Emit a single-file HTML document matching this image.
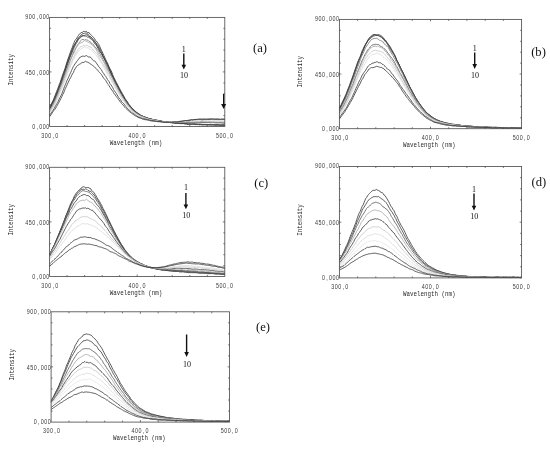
<!DOCTYPE html>
<html><head><meta charset="utf-8"><title>Fluorescence spectra</title>
<style>html,body{margin:0;padding:0;background:#fff}body{width:550px;height:450px;overflow:hidden;font-family:"Liberation Sans",sans-serif}svg{display:block;filter:blur(0.45px)}</style>
</head><body>
<svg width="550" height="450" viewBox="0 0 550 450">
<style>.m{font-family:"Liberation Mono",monospace;font-size:6.4px;fill:#2a2a2a}.n{font-family:"Liberation Sans",sans-serif;font-size:6.3px;fill:#3a3a3a}.s{font-family:"Liberation Serif",serif;fill:#111}</style>
<rect width="550" height="450" fill="#fff"/>
<g>
<polyline points="49.6,107.2 50.5,105.5 51.4,103.8 52.2,102.1 53.1,100.3 54.0,98.3 54.9,96.0 55.7,93.9 56.6,91.5 57.5,89.3 58.4,87.0 59.2,84.6 60.1,82.6 61.0,79.7 61.9,77.1 62.7,74.4 63.6,72.3 64.5,70.0 65.4,67.3 66.2,64.5 67.1,61.6 68.0,59.0 68.9,56.3 69.7,54.1 70.6,51.5 71.5,49.1 72.4,47.2 73.3,44.4 74.1,42.5 75.0,40.5 75.9,39.3 76.8,38.1 77.6,36.7 78.5,35.4 79.4,34.1 80.3,33.2 81.1,32.7 82.0,32.4 82.9,32.1 83.8,31.2 84.6,31.5 85.5,31.4 86.4,31.4 87.3,32.4 88.1,32.6 89.0,32.5 89.9,34.0 90.8,34.7 91.6,35.4 92.5,36.5 93.4,37.2 94.3,38.3 95.2,40.0 96.0,40.7 96.9,41.9 97.8,43.1 98.7,44.3 99.5,46.1 100.4,47.9 101.3,50.2 102.2,51.6 103.0,53.6 103.9,55.5 104.8,57.6 105.7,59.5 106.5,61.3 107.4,62.6 108.3,65.2 109.2,67.2 110.0,68.8 110.9,70.2 111.8,72.1 112.7,74.6 113.5,77.0 114.4,78.4 115.3,80.3 116.2,82.2 117.1,83.6 117.9,85.2 118.8,87.0 119.7,88.7 120.6,90.3 121.4,91.7 122.3,93.4 123.2,95.0 124.1,96.5 124.9,98.3 125.8,99.5 126.7,100.7 127.6,102.0 128.4,103.7 129.3,104.9 130.2,105.8 131.1,107.1 131.9,108.0 132.8,108.8 133.7,109.9 134.6,110.5 135.4,111.2 136.3,112.1 137.2,112.7 138.1,113.3 139.0,114.0 139.8,114.4 140.7,115.1 141.6,115.6 142.5,115.9 143.3,116.4 144.2,116.9 145.1,117.1 146.0,117.3 146.8,117.7 147.7,118.2 148.6,118.4 149.5,118.7 150.3,118.9 151.2,119.0 152.1,119.4 153.0,119.4 153.8,119.8 154.7,120.1 155.6,120.1 156.5,120.2 157.3,120.3 158.2,120.5 159.1,120.8 160.0,120.9 160.9,121.1 161.7,121.3 162.6,121.4 163.5,121.5 164.4,121.7 165.2,121.8 166.1,121.9 167.0,121.9 167.9,122.1 168.7,122.3 169.6,122.5 170.5,122.6 171.4,122.6 172.2,122.8 173.1,122.8 174.0,122.8 174.9,123.2 175.7,123.3 176.6,123.3 177.5,123.3 178.4,123.4 179.2,123.5 180.1,123.5 181.0,123.6 181.9,123.7 182.8,123.5 183.6,123.7 184.5,123.9 185.4,123.9 186.3,124.0 187.1,124.1 188.0,124.4 188.9,124.4 189.8,124.2 190.6,124.4 191.5,124.4 192.4,124.3 193.3,124.3 194.1,124.3 195.0,124.5 195.9,124.6 196.8,124.6 197.6,124.6 198.5,124.5 199.4,124.9 200.3,124.7 201.1,124.9 202.0,124.8 202.9,125.0 203.8,124.9 204.7,124.8 205.5,124.9 206.4,124.9 207.3,124.9 208.2,124.9 209.0,125.0 209.9,124.9 210.8,124.9 211.7,125.0 212.5,124.8 213.4,125.1 214.3,125.1 215.2,125.2 216.0,125.2 216.9,125.1 217.8,125.2 218.7,125.2 219.5,125.4 220.4,125.5 221.3,125.4 222.2,125.5 223.0,125.5 223.9,125.6 224.8,125.4" fill="none" stroke="#3e3e3e" stroke-width="0.85"/>
<polyline points="49.6,108.0 50.5,106.3 51.4,104.9 52.2,103.2 53.1,101.5 54.0,99.4 54.9,97.2 55.7,95.4 56.6,92.9 57.5,90.6 58.4,88.5 59.2,86.7 60.1,83.8 61.0,81.4 61.9,79.0 62.7,76.3 63.6,73.7 64.5,70.8 65.4,68.7 66.2,65.8 67.1,62.9 68.0,60.2 68.9,58.1 69.7,56.1 70.6,53.4 71.5,51.2 72.4,49.1 73.3,46.6 74.1,45.0 75.0,44.1 75.9,42.2 76.8,41.1 77.6,39.1 78.5,37.6 79.4,36.8 80.3,35.8 81.1,34.8 82.0,34.3 82.9,33.5 83.8,33.5 84.6,33.2 85.5,33.0 86.4,32.9 87.3,34.0 88.1,34.2 89.0,35.6 89.9,36.5 90.8,37.6 91.6,37.6 92.5,38.9 93.4,39.6 94.3,40.7 95.2,41.8 96.0,43.2 96.9,44.3 97.8,45.1 98.7,46.8 99.5,48.3 100.4,49.7 101.3,51.6 102.2,53.8 103.0,55.6 103.9,56.9 104.8,59.2 105.7,61.0 106.5,62.4 107.4,64.1 108.3,66.1 109.2,67.8 110.0,69.8 110.9,72.0 111.8,74.2 112.7,76.0 113.5,77.5 114.4,79.4 115.3,81.4 116.2,83.2 117.1,85.2 117.9,86.7 118.8,88.5 119.7,89.9 120.6,91.9 121.4,93.2 122.3,94.8 123.2,96.5 124.1,97.6 124.9,99.0 125.8,100.7 126.7,102.0 127.6,103.0 128.4,104.2 129.3,105.2 130.2,106.2 131.1,107.2 131.9,108.2 132.8,109.0 133.7,109.9 134.6,110.8 135.4,111.9 136.3,112.4 137.2,113.0 138.1,113.7 139.0,114.4 139.8,114.6 140.7,115.5 141.6,115.8 142.5,116.0 143.3,116.6 144.2,116.9 145.1,117.1 146.0,117.5 146.8,117.8 147.7,118.1 148.6,118.5 149.5,118.8 150.3,119.0 151.2,119.1 152.1,119.4 153.0,119.6 153.8,120.0 154.7,120.1 155.6,120.2 156.5,120.4 157.3,120.7 158.2,120.9 159.1,120.7 160.0,120.8 160.9,121.0 161.7,121.5 162.6,121.5 163.5,121.6 164.4,121.6 165.2,121.8 166.1,122.0 167.0,122.1 167.9,122.4 168.7,122.4 169.6,122.4 170.5,122.6 171.4,122.6 172.2,122.5 173.1,122.9 174.0,123.0 174.9,123.0 175.7,123.1 176.6,123.2 177.5,123.4 178.4,123.2 179.2,123.2 180.1,123.5 181.0,123.7 181.9,123.5 182.8,123.5 183.6,123.4 184.5,123.5 185.4,123.8 186.3,123.8 187.1,124.1 188.0,124.1 188.9,124.1 189.8,124.0 190.6,124.1 191.5,124.2 192.4,124.1 193.3,124.1 194.1,124.1 195.0,124.2 195.9,124.3 196.8,124.2 197.6,124.3 198.5,124.4 199.4,124.5 200.3,124.5 201.1,124.5 202.0,124.5 202.9,124.5 203.8,124.6 204.7,124.6 205.5,124.7 206.4,124.7 207.3,124.6 208.2,124.6 209.0,124.7 209.9,124.7 210.8,124.8 211.7,125.0 212.5,124.9 213.4,125.0 214.3,124.9 215.2,125.0 216.0,125.2 216.9,125.2 217.8,124.9 218.7,125.0 219.5,125.1 220.4,125.1 221.3,125.0 222.2,125.0 223.0,125.0 223.9,124.9 224.8,124.9" fill="none" stroke="#3e3e3e" stroke-width="0.85"/>
<polyline points="49.6,108.7 50.5,107.1 51.4,105.3 52.2,103.6 53.1,101.8 54.0,100.2 54.9,98.3 55.7,96.1 56.6,94.1 57.5,91.6 58.4,89.3 59.2,86.9 60.1,84.7 61.0,81.7 61.9,79.2 62.7,77.0 63.6,74.6 64.5,71.4 65.4,69.3 66.2,66.6 67.1,64.0 68.0,61.7 68.9,59.6 69.7,57.1 70.6,54.6 71.5,52.0 72.4,49.7 73.3,47.9 74.1,45.8 75.0,43.9 75.9,42.4 76.8,40.9 77.6,39.7 78.5,38.3 79.4,37.7 80.3,36.9 81.1,36.1 82.0,36.0 82.9,35.4 83.8,35.7 84.6,35.4 85.5,34.9 86.4,34.8 87.3,35.1 88.1,35.6 89.0,36.6 89.9,36.4 90.8,37.0 91.6,37.7 92.5,39.1 93.4,40.2 94.3,41.9 95.2,42.5 96.0,43.4 96.9,45.5 97.8,46.7 98.7,47.8 99.5,49.9 100.4,51.8 101.3,53.4 102.2,54.9 103.0,56.7 103.9,58.1 104.8,59.6 105.7,61.2 106.5,62.8 107.4,64.4 108.3,66.2 109.2,68.6 110.0,70.6 110.9,72.7 111.8,74.7 112.7,76.3 113.5,78.1 114.4,79.7 115.3,81.9 116.2,83.8 117.1,85.3 117.9,87.0 118.8,88.6 119.7,90.2 120.6,91.9 121.4,93.3 122.3,94.8 123.2,96.3 124.1,97.9 124.9,99.3 125.8,101.0 126.7,102.2 127.6,103.3 128.4,104.6 129.3,105.6 130.2,106.6 131.1,107.8 131.9,108.7 132.8,109.6 133.7,110.3 134.6,111.0 135.4,111.8 136.3,112.7 137.2,113.3 138.1,113.9 139.0,114.4 139.8,114.9 140.7,115.5 141.6,116.1 142.5,116.5 143.3,116.9 144.2,117.3 145.1,117.5 146.0,117.9 146.8,118.1 147.7,118.3 148.6,118.6 149.5,118.6 150.3,118.9 151.2,119.1 152.1,119.4 153.0,119.5 153.8,120.1 154.7,120.3 155.6,120.3 156.5,120.4 157.3,120.4 158.2,120.6 159.1,120.7 160.0,120.9 160.9,121.0 161.7,121.2 162.6,121.5 163.5,121.6 164.4,121.8 165.2,121.8 166.1,122.1 167.0,122.1 167.9,122.0 168.7,122.3 169.6,122.4 170.5,122.4 171.4,122.6 172.2,122.8 173.1,122.8 174.0,122.8 174.9,122.9 175.7,123.1 176.6,122.9 177.5,122.9 178.4,123.1 179.2,123.2 180.1,123.3 181.0,123.2 181.9,123.4 182.8,123.4 183.6,123.5 184.5,123.6 185.4,123.6 186.3,123.5 187.1,123.6 188.0,123.8 188.9,123.7 189.8,123.8 190.6,123.8 191.5,123.7 192.4,123.7 193.3,123.9 194.1,123.7 195.0,123.9 195.9,123.9 196.8,124.0 197.6,124.1 198.5,124.3 199.4,124.1 200.3,124.0 201.1,124.2 202.0,124.4 202.9,124.5 203.8,124.3 204.7,124.4 205.5,124.4 206.4,124.4 207.3,124.4 208.2,124.5 209.0,124.5 209.9,124.6 210.8,124.6 211.7,124.5 212.5,124.5 213.4,124.5 214.3,124.6 215.2,124.6 216.0,124.6 216.9,124.5 217.8,124.5 218.7,124.6 219.5,124.7 220.4,124.7 221.3,124.8 222.2,124.8 223.0,124.8 223.9,124.7 224.8,124.7" fill="none" stroke="#3e3e3e" stroke-width="0.85"/>
<polyline points="49.6,109.2 50.5,107.9 51.4,106.4 52.2,104.3 53.1,103.0 54.0,101.2 54.9,99.2 55.7,97.2 56.6,95.0 57.5,92.9 58.4,90.6 59.2,88.3 60.1,85.8 61.0,83.9 61.9,81.5 62.7,78.8 63.6,76.4 64.5,73.9 65.4,71.0 66.2,68.6 67.1,65.8 68.0,63.1 68.9,60.6 69.7,58.1 70.6,55.9 71.5,54.1 72.4,51.8 73.3,49.5 74.1,47.7 75.0,45.9 75.9,43.9 76.8,42.7 77.6,41.1 78.5,39.2 79.4,38.7 80.3,37.8 81.1,37.3 82.0,36.2 82.9,35.9 83.8,35.6 84.6,36.0 85.5,36.1 86.4,36.3 87.3,37.2 88.1,36.8 89.0,37.1 89.9,38.5 90.8,38.8 91.6,39.6 92.5,40.4 93.4,41.3 94.3,43.0 95.2,44.0 96.0,44.6 96.9,46.3 97.8,48.0 98.7,49.7 99.5,51.3 100.4,52.4 101.3,53.4 102.2,55.0 103.0,56.8 103.9,58.0 104.8,60.2 105.7,62.3 106.5,63.9 107.4,65.7 108.3,67.9 109.2,69.9 110.0,71.5 110.9,73.2 111.8,75.4 112.7,77.1 113.5,78.9 114.4,80.5 115.3,82.3 116.2,84.0 117.1,85.8 117.9,87.2 118.8,88.7 119.7,90.5 120.6,92.0 121.4,93.8 122.3,95.3 123.2,96.7 124.1,97.9 124.9,99.5 125.8,100.9 126.7,102.1 127.6,103.6 128.4,104.7 129.3,105.9 130.2,106.8 131.1,108.0 131.9,109.1 132.8,109.9 133.7,110.6 134.6,111.4 135.4,112.0 136.3,112.8 137.2,113.5 138.1,114.0 139.0,114.8 139.8,115.3 140.7,115.7 141.6,116.0 142.5,116.4 143.3,116.8 144.2,117.2 145.1,117.5 146.0,117.6 146.8,118.1 147.7,118.1 148.6,118.6 149.5,118.8 150.3,119.1 151.2,119.2 152.1,119.6 153.0,120.0 153.8,120.0 154.7,120.1 155.6,120.2 156.5,120.1 157.3,120.4 158.2,120.6 159.1,120.7 160.0,120.9 160.9,121.0 161.7,121.3 162.6,121.5 163.5,121.9 164.4,121.8 165.2,121.9 166.1,121.8 167.0,121.7 167.9,121.9 168.7,122.1 169.6,122.2 170.5,122.4 171.4,122.4 172.2,122.4 173.1,122.4 174.0,122.5 174.9,122.5 175.7,122.4 176.6,122.5 177.5,122.5 178.4,122.5 179.2,122.6 180.1,122.7 181.0,122.5 181.9,122.5 182.8,122.6 183.6,122.5 184.5,122.5 185.4,122.7 186.3,122.5 187.1,122.5 188.0,122.4 188.9,122.4 189.8,122.5 190.6,122.6 191.5,122.5 192.4,122.5 193.3,122.5 194.1,122.5 195.0,122.5 195.9,122.4 196.8,122.5 197.6,122.5 198.5,122.7 199.4,122.7 200.3,122.5 201.1,122.4 202.0,122.5 202.9,122.6 203.8,122.4 204.7,122.5 205.5,122.5 206.4,122.4 207.3,122.5 208.2,122.5 209.0,122.6 209.9,122.6 210.8,122.7 211.7,122.7 212.5,122.6 213.4,122.4 214.3,122.7 215.2,122.8 216.0,122.7 216.9,122.9 217.8,122.8 218.7,122.8 219.5,122.8 220.4,122.8 221.3,123.0 222.2,122.9 223.0,123.1 223.9,123.1 224.8,123.1" fill="none" stroke="#3e3e3e" stroke-width="0.85"/>
<polyline points="49.6,110.6 50.5,109.1 51.4,107.6 52.2,106.1 53.1,104.3 54.0,102.3 54.9,100.6 55.7,98.7 56.6,96.5 57.5,94.5 58.4,92.7 59.2,89.9 60.1,87.4 61.0,85.8 61.9,83.4 62.7,80.8 63.6,78.2 64.5,75.7 65.4,73.4 66.2,71.2 67.1,68.6 68.0,65.9 68.9,63.9 69.7,61.7 70.6,59.3 71.5,57.5 72.4,55.2 73.3,53.1 74.1,50.9 75.0,49.3 75.9,47.8 76.8,46.3 77.6,44.8 78.5,43.7 79.4,42.5 80.3,41.3 81.1,40.3 82.0,39.4 82.9,39.6 83.8,39.6 84.6,40.4 85.5,39.4 86.4,39.9 87.3,40.1 88.1,40.3 89.0,41.3 89.9,41.6 90.8,42.2 91.6,43.6 92.5,44.1 93.4,44.5 94.3,46.3 95.2,46.9 96.0,48.0 96.9,49.2 97.8,50.4 98.7,51.5 99.5,53.3 100.4,54.6 101.3,56.4 102.2,57.8 103.0,59.8 103.9,61.4 104.8,62.6 105.7,64.4 106.5,66.3 107.4,68.4 108.3,70.3 109.2,71.9 110.0,73.3 110.9,75.1 111.8,76.8 112.7,78.6 113.5,80.1 114.4,82.1 115.3,84.0 116.2,85.5 117.1,87.2 117.9,88.9 118.8,90.6 119.7,92.2 120.6,93.5 121.4,95.0 122.3,96.7 123.2,97.9 124.1,99.3 124.9,100.8 125.8,101.8 126.7,103.1 127.6,104.3 128.4,105.3 129.3,106.2 130.2,107.5 131.1,108.4 131.9,109.5 132.8,110.0 133.7,111.0 134.6,111.7 135.4,112.6 136.3,113.2 137.2,113.6 138.1,114.6 139.0,115.1 139.8,115.5 140.7,116.0 141.6,116.5 142.5,116.6 143.3,117.0 144.2,117.6 145.1,117.8 146.0,118.3 146.8,118.3 147.7,118.7 148.6,118.9 149.5,119.0 150.3,119.2 151.2,119.6 152.1,120.0 153.0,119.9 153.8,120.0 154.7,120.3 155.6,120.4 156.5,120.5 157.3,120.6 158.2,121.1 159.1,121.2 160.0,121.2 160.9,121.2 161.7,121.3 162.6,121.7 163.5,121.7 164.4,121.7 165.2,121.6 166.1,121.9 167.0,122.0 167.9,122.1 168.7,122.1 169.6,122.2 170.5,122.2 171.4,122.3 172.2,122.3 173.1,122.4 174.0,122.4 174.9,122.5 175.7,122.7 176.6,122.5 177.5,122.5 178.4,122.5 179.2,122.5 180.1,122.4 181.0,122.5 181.9,122.5 182.8,122.4 183.6,122.3 184.5,122.4 185.4,122.6 186.3,122.3 187.1,122.3 188.0,122.3 188.9,122.3 189.8,122.2 190.6,122.3 191.5,122.3 192.4,122.3 193.3,122.3 194.1,122.3 195.0,122.3 195.9,122.2 196.8,122.3 197.6,122.2 198.5,122.2 199.4,122.2 200.3,122.0 201.1,122.1 202.0,122.2 202.9,122.2 203.8,122.2 204.7,122.3 205.5,122.3 206.4,122.3 207.3,122.3 208.2,122.3 209.0,122.2 209.9,122.1 210.8,122.1 211.7,122.1 212.5,122.2 213.4,122.3 214.3,122.3 215.2,122.4 216.0,122.4 216.9,122.6 217.8,122.5 218.7,122.5 219.5,122.5 220.4,122.5 221.3,122.4 222.2,122.5 223.0,122.3 223.9,122.6 224.8,122.6" fill="none" stroke="#777" stroke-width="0.85"/>
<polyline points="49.6,111.5 50.5,109.9 51.4,108.1 52.2,107.1 53.1,105.3 54.0,103.5 54.9,101.8 55.7,99.8 56.6,98.2 57.5,95.9 58.4,93.7 59.2,91.5 60.1,89.4 61.0,86.9 61.9,84.7 62.7,82.2 63.6,79.9 64.5,77.9 65.4,75.2 66.2,72.6 67.1,69.9 68.0,67.7 68.9,65.3 69.7,62.7 70.6,60.5 71.5,58.0 72.4,55.5 73.3,54.1 74.1,52.9 75.0,50.6 75.9,48.5 76.8,46.9 77.6,45.6 78.5,44.9 79.4,44.1 80.3,42.9 81.1,42.6 82.0,42.6 82.9,42.2 83.8,40.8 84.6,40.3 85.5,41.0 86.4,41.5 87.3,41.7 88.1,42.3 89.0,42.2 89.9,43.0 90.8,44.1 91.6,44.3 92.5,45.4 93.4,46.3 94.3,47.3 95.2,48.5 96.0,49.5 96.9,51.0 97.8,52.8 98.7,54.5 99.5,55.8 100.4,57.1 101.3,58.3 102.2,59.6 103.0,60.9 103.9,62.5 104.8,64.4 105.7,66.2 106.5,68.3 107.4,69.8 108.3,71.2 109.2,72.7 110.0,74.5 110.9,76.3 111.8,77.7 112.7,79.6 113.5,81.1 114.4,82.8 115.3,84.5 116.2,86.0 117.1,87.9 117.9,89.6 118.8,91.3 119.7,92.9 120.6,94.0 121.4,95.3 122.3,96.9 123.2,98.2 124.1,99.5 124.9,100.8 125.8,102.0 126.7,103.5 127.6,104.8 128.4,105.8 129.3,106.6 130.2,107.7 131.1,108.9 131.9,109.8 132.8,110.7 133.7,111.6 134.6,112.0 135.4,112.9 136.3,113.5 137.2,113.9 138.1,114.4 139.0,115.0 139.8,115.7 140.7,116.1 141.6,116.3 142.5,116.7 143.3,117.0 144.2,117.5 145.1,117.8 146.0,118.2 146.8,118.4 147.7,118.6 148.6,119.0 149.5,119.2 150.3,119.4 151.2,119.7 152.1,119.9 153.0,120.0 153.8,119.9 154.7,120.2 155.6,120.4 156.5,120.8 157.3,120.7 158.2,120.9 159.1,121.0 160.0,121.3 160.9,121.4 161.7,121.6 162.6,121.6 163.5,121.7 164.4,121.8 165.2,121.8 166.1,122.0 167.0,121.9 167.9,122.1 168.7,122.3 169.6,122.3 170.5,122.4 171.4,122.5 172.2,122.4 173.1,122.4 174.0,122.5 174.9,122.5 175.7,122.3 176.6,122.3 177.5,122.3 178.4,122.3 179.2,122.3 180.1,122.3 181.0,122.2 181.9,122.2 182.8,122.4 183.6,122.3 184.5,122.3 185.4,122.1 186.3,122.1 187.1,122.1 188.0,121.8 188.9,122.0 189.8,122.0 190.6,122.1 191.5,122.2 192.4,122.2 193.3,122.0 194.1,122.0 195.0,122.1 195.9,122.1 196.8,121.9 197.6,121.9 198.5,121.9 199.4,121.8 200.3,121.6 201.1,121.5 202.0,121.5 202.9,121.6 203.8,121.6 204.7,121.5 205.5,121.5 206.4,121.7 207.3,121.7 208.2,121.7 209.0,121.7 209.9,121.8 210.8,122.0 211.7,122.0 212.5,122.1 213.4,121.9 214.3,121.8 215.2,122.0 216.0,121.8 216.9,121.8 217.8,122.1 218.7,121.8 219.5,121.8 220.4,121.7 221.3,122.0 222.2,121.9 223.0,121.9 223.9,122.0 224.8,122.0" fill="none" stroke="#aaa" stroke-width="0.85"/>
<polyline points="49.6,112.3 50.5,111.3 51.4,110.0 52.2,108.6 53.1,107.0 54.0,105.4 54.9,103.5 55.7,101.6 56.6,99.8 57.5,97.9 58.4,96.0 59.2,93.6 60.1,91.4 61.0,89.2 61.9,87.1 62.7,84.5 63.6,82.5 64.5,80.0 65.4,77.4 66.2,75.3 67.1,72.8 68.0,70.9 68.9,68.3 69.7,66.1 70.6,64.4 71.5,61.9 72.4,60.2 73.3,57.8 74.1,56.2 75.0,54.5 75.9,52.8 76.8,51.5 77.6,50.1 78.5,49.1 79.4,47.9 80.3,47.1 81.1,46.4 82.0,46.8 82.9,45.7 83.8,45.4 84.6,45.9 85.5,45.7 86.4,45.5 87.3,45.4 88.1,46.3 89.0,46.2 89.9,47.0 90.8,46.9 91.6,48.1 92.5,48.9 93.4,50.1 94.3,51.4 95.2,52.0 96.0,52.9 96.9,53.8 97.8,55.1 98.7,56.8 99.5,58.7 100.4,60.1 101.3,61.6 102.2,63.1 103.0,64.2 103.9,65.7 104.8,67.3 105.7,68.8 106.5,70.5 107.4,72.0 108.3,73.5 109.2,75.0 110.0,77.0 110.9,79.0 111.8,80.2 112.7,81.8 113.5,83.3 114.4,85.3 115.3,86.9 116.2,88.4 117.1,90.2 117.9,91.7 118.8,92.9 119.7,94.1 120.6,95.4 121.4,97.1 122.3,98.7 123.2,99.8 124.1,100.9 124.9,102.2 125.8,103.6 126.7,104.6 127.6,105.6 128.4,106.6 129.3,107.8 130.2,108.7 131.1,109.5 131.9,110.5 132.8,111.6 133.7,112.2 134.6,112.8 135.4,113.5 136.3,114.0 137.2,114.7 138.1,115.2 139.0,115.7 139.8,116.1 140.7,116.4 141.6,116.9 142.5,117.1 143.3,117.3 144.2,117.7 145.1,118.1 146.0,118.2 146.8,118.6 147.7,119.0 148.6,119.3 149.5,119.4 150.3,119.5 151.2,119.7 152.1,119.9 153.0,120.2 153.8,120.3 154.7,120.6 155.6,120.6 156.5,120.8 157.3,121.1 158.2,121.2 159.1,121.4 160.0,121.3 160.9,121.3 161.7,121.6 162.6,121.5 163.5,121.6 164.4,121.7 165.2,122.0 166.1,122.0 167.0,122.1 167.9,122.0 168.7,122.1 169.6,122.3 170.5,122.1 171.4,122.2 172.2,122.1 173.1,122.2 174.0,122.1 174.9,122.1 175.7,122.1 176.6,121.8 177.5,121.7 178.4,121.6 179.2,121.6 180.1,121.7 181.0,121.6 181.9,121.6 182.8,121.5 183.6,121.3 184.5,121.3 185.4,121.2 186.3,121.2 187.1,121.2 188.0,121.0 188.9,120.7 189.8,120.6 190.6,120.7 191.5,120.9 192.4,120.6 193.3,120.4 194.1,120.3 195.0,120.2 195.9,120.0 196.8,120.0 197.6,120.1 198.5,120.0 199.4,120.0 200.3,120.2 201.1,120.2 202.0,120.3 202.9,120.2 203.8,120.1 204.7,120.2 205.5,120.3 206.4,120.1 207.3,120.0 208.2,119.9 209.0,120.1 209.9,120.0 210.8,119.8 211.7,119.7 212.5,119.9 213.4,120.0 214.3,120.1 215.2,120.0 216.0,119.9 216.9,120.0 217.8,120.2 218.7,120.1 219.5,120.2 220.4,120.1 221.3,120.1 222.2,120.0 223.0,120.0 223.9,120.1 224.8,120.2" fill="none" stroke="#c8c8c8" stroke-width="0.85"/>
<polyline points="49.6,113.0 50.5,112.0 51.4,110.6 52.2,109.1 53.1,107.5 54.0,106.0 54.9,104.6 55.7,103.1 56.6,101.1 57.5,99.1 58.4,96.7 59.2,95.1 60.1,92.8 61.0,90.7 61.9,88.9 62.7,86.8 63.6,84.4 64.5,82.1 65.4,79.8 66.2,77.3 67.1,75.2 68.0,72.8 68.9,70.7 69.7,68.5 70.6,66.2 71.5,64.2 72.4,62.1 73.3,59.7 74.1,58.1 75.0,56.6 75.9,54.9 76.8,53.7 77.6,52.1 78.5,51.5 79.4,50.3 80.3,49.7 81.1,49.2 82.0,48.0 82.9,48.1 83.8,47.3 84.6,47.2 85.5,47.0 86.4,47.8 87.3,47.7 88.1,47.8 89.0,48.6 89.9,49.3 90.8,49.3 91.6,50.3 92.5,51.4 93.4,52.6 94.3,53.3 95.2,54.3 96.0,55.3 96.9,56.0 97.8,57.6 98.7,58.8 99.5,59.8 100.4,61.7 101.3,62.8 102.2,63.9 103.0,66.0 103.9,67.8 104.8,69.4 105.7,71.3 106.5,72.4 107.4,74.3 108.3,75.5 109.2,76.7 110.0,78.7 110.9,80.3 111.8,82.2 112.7,83.4 113.5,85.0 114.4,86.6 115.3,88.0 116.2,89.4 117.1,91.0 117.9,92.4 118.8,94.0 119.7,95.3 120.6,96.9 121.4,98.1 122.3,99.7 123.2,100.9 124.1,101.7 124.9,102.9 125.8,104.3 126.7,105.3 127.6,106.5 128.4,107.7 129.3,108.6 130.2,109.3 131.1,110.1 131.9,111.0 132.8,111.9 133.7,112.7 134.6,113.1 135.4,113.8 136.3,114.5 137.2,115.3 138.1,115.8 139.0,115.9 139.8,116.5 140.7,116.9 141.6,117.2 142.5,117.6 143.3,117.9 144.2,118.4 145.1,118.7 146.0,118.7 146.8,119.0 147.7,119.1 148.6,119.6 149.5,119.7 150.3,119.8 151.2,119.9 152.1,120.2 153.0,120.3 153.8,120.4 154.7,120.7 155.6,120.7 156.5,121.0 157.3,121.2 158.2,121.2 159.1,121.6 160.0,121.6 160.9,121.7 161.7,121.8 162.6,121.8 163.5,121.7 164.4,121.8 165.2,121.8 166.1,122.0 167.0,122.1 167.9,121.9 168.7,121.9 169.6,121.9 170.5,122.0 171.4,121.9 172.2,121.9 173.1,121.9 174.0,121.9 174.9,121.7 175.7,121.8 176.6,121.9 177.5,121.9 178.4,121.6 179.2,121.6 180.1,121.6 181.0,121.6 181.9,121.4 182.8,121.4 183.6,121.2 184.5,121.1 185.4,121.0 186.3,120.9 187.1,120.8 188.0,120.7 188.9,120.5 189.8,120.4 190.6,120.3 191.5,120.4 192.4,120.3 193.3,120.3 194.1,120.0 195.0,120.1 195.9,120.1 196.8,120.0 197.6,119.9 198.5,119.7 199.4,119.8 200.3,119.6 201.1,119.8 202.0,119.9 202.9,119.7 203.8,119.6 204.7,119.6 205.5,119.6 206.4,119.6 207.3,119.7 208.2,119.6 209.0,119.7 209.9,119.5 210.8,119.6 211.7,119.8 212.5,119.9 213.4,119.7 214.3,119.7 215.2,119.7 216.0,119.7 216.9,119.7 217.8,119.8 218.7,119.7 219.5,119.7 220.4,119.6 221.3,119.7 222.2,119.5 223.0,119.4 223.9,119.4 224.8,119.5" fill="none" stroke="#dcdcdc" stroke-width="0.85"/>
<polyline points="49.6,115.0 50.5,113.9 51.4,112.7 52.2,111.6 53.1,110.2 54.0,108.9 54.9,107.1 55.7,105.6 56.6,104.1 57.5,102.7 58.4,100.9 59.2,99.0 60.1,97.3 61.0,95.4 61.9,93.7 62.7,91.3 63.6,89.2 64.5,86.5 65.4,84.7 66.2,82.7 67.1,80.3 68.0,78.4 68.9,76.5 69.7,74.6 70.6,72.8 71.5,70.5 72.4,68.6 73.3,66.6 74.1,65.3 75.0,63.9 75.9,62.8 76.8,61.2 77.6,60.5 78.5,59.2 79.4,58.0 80.3,57.0 81.1,56.9 82.0,56.1 82.9,56.2 83.8,56.2 84.6,56.4 85.5,55.9 86.4,55.6 87.3,56.2 88.1,56.8 89.0,57.2 89.9,56.9 90.8,57.4 91.6,58.5 92.5,59.8 93.4,60.6 94.3,60.9 95.2,61.3 96.0,62.6 96.9,63.9 97.8,65.1 98.7,66.7 99.5,67.3 100.4,68.8 101.3,69.6 102.2,71.3 103.0,72.8 103.9,73.8 104.8,75.3 105.7,76.3 106.5,77.7 107.4,79.4 108.3,80.6 109.2,81.8 110.0,83.8 110.9,84.7 111.8,86.1 112.7,87.5 113.5,89.4 114.4,90.8 115.3,92.1 116.2,93.2 117.1,94.8 117.9,96.2 118.8,97.7 119.7,98.8 120.6,99.8 121.4,101.3 122.3,102.4 123.2,103.3 124.1,104.1 124.9,105.2 125.8,106.4 126.7,107.6 127.6,108.6 128.4,109.5 129.3,110.2 130.2,111.0 131.1,111.6 131.9,112.4 132.8,113.3 133.7,113.7 134.6,114.3 135.4,114.9 136.3,115.6 137.2,116.3 138.1,116.8 139.0,117.0 139.8,117.5 140.7,117.9 141.6,118.1 142.5,118.4 143.3,118.6 144.2,118.8 145.1,118.9 146.0,119.4 146.8,119.5 147.7,119.8 148.6,119.9 149.5,120.1 150.3,120.3 151.2,120.4 152.1,120.6 153.0,120.6 153.8,120.7 154.7,120.9 155.6,121.2 156.5,121.4 157.3,121.5 158.2,121.6 159.1,121.6 160.0,121.4 160.9,121.6 161.7,121.7 162.6,121.9 163.5,122.0 164.4,122.1 165.2,122.1 166.1,122.2 167.0,122.0 167.9,122.2 168.7,122.1 169.6,122.3 170.5,122.3 171.4,122.2 172.2,122.1 173.1,122.0 174.0,122.0 174.9,121.9 175.7,122.1 176.6,122.0 177.5,122.1 178.4,121.8 179.2,121.6 180.1,121.5 181.0,121.4 181.9,121.3 182.8,121.0 183.6,120.7 184.5,120.7 185.4,120.6 186.3,120.7 187.1,120.8 188.0,120.6 188.9,120.5 189.8,120.4 190.6,120.2 191.5,119.7 192.4,119.9 193.3,119.8 194.1,119.7 195.0,119.7 195.9,119.6 196.8,119.4 197.6,119.6 198.5,119.5 199.4,119.5 200.3,119.4 201.1,119.6 202.0,119.7 202.9,119.8 203.8,119.5 204.7,119.4 205.5,119.4 206.4,119.6 207.3,119.5 208.2,119.5 209.0,119.6 209.9,119.5 210.8,119.4 211.7,119.3 212.5,119.3 213.4,119.3 214.3,119.4 215.2,119.3 216.0,119.3 216.9,119.3 217.8,119.3 218.7,119.4 219.5,119.4 220.4,119.5 221.3,119.2 222.2,119.2 223.0,119.3 223.9,119.1 224.8,119.1" fill="none" stroke="#3e3e3e" stroke-width="0.85"/>
<polyline points="49.6,116.5 50.5,115.4 51.4,114.2 52.2,112.9 53.1,111.6 54.0,110.4 54.9,109.4 55.7,108.1 56.6,106.5 57.5,104.9 58.4,103.5 59.2,101.8 60.1,100.1 61.0,98.3 61.9,96.4 62.7,94.6 63.6,93.0 64.5,90.7 65.4,88.5 66.2,86.8 67.1,84.8 68.0,82.9 68.9,81.0 69.7,79.2 70.6,77.7 71.5,75.8 72.4,73.9 73.3,72.7 74.1,70.7 75.0,68.9 75.9,67.5 76.8,66.2 77.6,65.4 78.5,64.9 79.4,64.3 80.3,63.9 81.1,63.2 82.0,62.7 82.9,62.2 83.8,62.7 84.6,61.7 85.5,61.3 86.4,61.8 87.3,62.1 88.1,62.4 89.0,62.9 89.9,63.5 90.8,64.1 91.6,64.9 92.5,65.4 93.4,66.0 94.3,66.7 95.2,67.8 96.0,68.6 96.9,69.4 97.8,70.2 98.7,71.6 99.5,72.4 100.4,73.3 101.3,74.4 102.2,75.8 103.0,77.1 103.9,78.4 104.8,79.4 105.7,80.4 106.5,81.9 107.4,83.4 108.3,84.6 109.2,85.9 110.0,87.4 110.9,88.8 111.8,90.0 112.7,91.1 113.5,92.6 114.4,94.0 115.3,95.0 116.2,96.4 117.1,97.5 117.9,98.6 118.8,99.8 119.7,101.1 120.6,102.2 121.4,103.3 122.3,104.2 123.2,105.4 124.1,106.2 124.9,107.4 125.8,108.3 126.7,109.1 127.6,109.8 128.4,110.8 129.3,111.5 130.2,112.3 131.1,112.9 131.9,113.4 132.8,114.2 133.7,114.8 134.6,115.5 135.4,115.9 136.3,116.3 137.2,116.8 138.1,117.4 139.0,117.7 139.8,117.9 140.7,118.2 141.6,118.5 142.5,119.1 143.3,119.3 144.2,119.4 145.1,119.8 146.0,119.8 146.8,119.8 147.7,120.0 148.6,120.2 149.5,120.5 150.3,120.8 151.2,120.9 152.1,121.0 153.0,121.2 153.8,121.2 154.7,121.3 155.6,121.4 156.5,121.5 157.3,121.6 158.2,121.6 159.1,121.7 160.0,121.8 160.9,122.0 161.7,122.1 162.6,122.0 163.5,122.1 164.4,122.3 165.2,122.3 166.1,122.3 167.0,122.4 167.9,122.2 168.7,122.4 169.6,122.3 170.5,122.2 171.4,122.3 172.2,122.2 173.1,122.2 174.0,122.0 174.9,122.0 175.7,121.9 176.6,122.0 177.5,121.9 178.4,121.6 179.2,121.4 180.1,121.3 181.0,121.3 181.9,121.0 182.8,121.2 183.6,121.0 184.5,120.7 185.4,120.5 186.3,120.5 187.1,120.6 188.0,120.2 188.9,120.1 189.8,120.0 190.6,119.9 191.5,119.7 192.4,119.9 193.3,119.6 194.1,119.4 195.0,119.6 195.9,119.4 196.8,119.5 197.6,119.2 198.5,119.1 199.4,118.9 200.3,119.0 201.1,119.0 202.0,118.9 202.9,119.0 203.8,119.0 204.7,119.0 205.5,119.0 206.4,119.1 207.3,118.9 208.2,118.9 209.0,118.9 209.9,118.7 210.8,118.8 211.7,118.7 212.5,118.9 213.4,118.8 214.3,119.1 215.2,119.0 216.0,119.0 216.9,119.0 217.8,119.0 218.7,119.0 219.5,119.1 220.4,119.3 221.3,119.2 222.2,119.2 223.0,119.1 223.9,119.2 224.8,119.1" fill="none" stroke="#3e3e3e" stroke-width="0.85"/>
<rect x="49.6" y="17.4" width="175.2" height="109.1" fill="none" stroke="#505050" stroke-width="0.85"/>
<path d="M67.1 17.4v1.5M67.1 126.5v-1.5M84.6 17.4v1.5M84.6 126.5v-1.5M102.2 17.4v1.5M102.2 126.5v-1.5M119.7 17.4v1.5M119.7 126.5v-1.5M137.2 17.4v2.0M137.2 126.5v-2.0M154.7 17.4v1.5M154.7 126.5v-1.5M172.2 17.4v1.5M172.2 126.5v-1.5M189.8 17.4v1.5M189.8 126.5v-1.5M207.3 17.4v1.5M207.3 126.5v-1.5M49.6 28.3h1.5M224.8 28.3h-1.5M49.6 39.2h1.5M224.8 39.2h-1.5M49.6 50.1h1.5M224.8 50.1h-1.5M49.6 61.0h1.5M224.8 61.0h-1.5M49.6 71.9h2.0M224.8 71.9h-2.0M49.6 82.9h1.5M224.8 82.9h-1.5M49.6 93.8h1.5M224.8 93.8h-1.5M49.6 104.7h1.5M224.8 104.7h-1.5M49.6 115.6h1.5M224.8 115.6h-1.5" stroke="#444" stroke-width="0.7" fill="none"/>
<text class="n" transform="translate(25.0 19.3) scale(0.86 1)" x="2.03 6.10 10.17 14.24 18.31 22.38 26.45" y="0" text-anchor="middle">900,000</text>
<text class="n" transform="translate(25.0 74.5) scale(0.86 1)" x="2.03 6.10 10.17 14.24 18.31 22.38 26.45" y="0" text-anchor="middle">450,000</text>
<text class="n" transform="translate(32.0 128.7) scale(0.86 1)" x="2.03 6.10 10.17 14.24 18.31" y="0" text-anchor="middle">0,000</text>
<text class="n" transform="translate(41.1 137.5) scale(0.86 1)" x="2.03 6.10 10.17 14.24 18.31" y="0" text-anchor="middle">300,0</text>
<text class="n" transform="translate(128.2 137.5) scale(0.86 1)" x="2.03 6.10 10.17 14.24 18.31" y="0" text-anchor="middle">400,0</text>
<text class="n" transform="translate(215.8 137.5) scale(0.86 1)" x="2.03 6.10 10.17 14.24 18.31" y="0" text-anchor="middle">500,0</text>
<text class="m" x="109.8" y="144.5" textLength="52.5" lengthAdjust="spacingAndGlyphs">Wavelength (nm)</text>
<g transform="translate(12.6 69.7) rotate(-90)"><text class="m" x="-15.8" y="0.0" textLength="31.5" lengthAdjust="spacingAndGlyphs">Intensity</text></g>
<text class="s" x="183.8" y="51.7" text-anchor="middle" font-size="8">1</text>
<path d="M183.8 53.6V66.6" stroke="#111" stroke-width="1.4"/>
<path d="M183.8 69.6l-2.3 -4.8h4.6z" fill="#111"/>
<text class="s" x="184.1" y="78.0" text-anchor="middle" font-size="8">10</text>
</g>
<g>
<polyline points="339.4,107.9 340.3,106.3 341.2,104.7 342.1,102.6 343.0,100.6 344.0,98.6 344.9,96.5 345.8,94.6 346.7,92.5 347.6,90.0 348.5,87.9 349.4,85.5 350.3,83.0 351.2,80.4 352.2,78.0 353.1,75.3 354.0,72.9 354.9,70.1 355.8,67.4 356.7,64.9 357.6,62.3 358.5,60.4 359.4,58.3 360.4,55.9 361.3,53.3 362.2,50.6 363.1,49.1 364.0,47.0 364.9,45.4 365.8,43.8 366.7,42.2 367.6,40.3 368.6,39.0 369.5,37.5 370.4,37.1 371.3,36.0 372.2,35.1 373.1,34.8 374.0,34.4 374.9,34.6 375.8,34.9 376.8,34.9 377.7,35.2 378.6,34.2 379.5,35.1 380.4,35.1 381.3,36.0 382.2,36.8 383.1,37.6 384.0,39.0 384.9,39.6 385.9,40.7 386.8,42.6 387.7,43.5 388.6,44.6 389.5,46.0 390.4,47.0 391.3,49.0 392.2,50.6 393.1,52.1 394.1,54.3 395.0,55.6 395.9,58.0 396.8,60.1 397.7,61.6 398.6,63.7 399.5,65.4 400.4,67.7 401.3,69.3 402.3,71.4 403.2,73.1 404.1,75.3 405.0,76.9 405.9,78.8 406.8,80.6 407.7,82.4 408.6,84.2 409.5,86.4 410.5,88.6 411.4,90.0 412.3,91.7 413.2,93.3 414.1,94.8 415.0,96.7 415.9,98.2 416.8,99.7 417.7,101.2 418.7,102.4 419.6,103.7 420.5,105.1 421.4,106.5 422.3,107.5 423.2,108.7 424.1,109.7 425.0,110.7 425.9,112.0 426.9,113.0 427.8,113.8 428.7,114.5 429.6,115.2 430.5,115.8 431.4,116.5 432.3,117.2 433.2,117.9 434.1,118.3 435.1,119.0 436.0,119.3 436.9,120.0 437.8,120.3 438.7,120.7 439.6,121.2 440.5,121.4 441.4,121.6 442.3,121.9 443.3,122.3 444.2,122.6 445.1,122.6 446.0,123.0 446.9,123.5 447.8,123.7 448.7,123.8 449.6,123.9 450.5,124.0 451.5,124.2 452.4,124.4 453.3,124.4 454.2,124.7 455.1,124.5 456.0,124.8 456.9,125.0 457.8,125.0 458.7,125.1 459.7,125.3 460.6,125.3 461.5,125.6 462.4,125.8 463.3,125.7 464.2,125.8 465.1,126.0 466.0,126.0 466.9,125.9 467.9,126.0 468.8,126.3 469.7,126.3 470.6,126.3 471.5,126.3 472.4,126.2 473.3,126.4 474.2,126.5 475.1,126.6 476.1,126.5 477.0,126.7 477.9,126.6 478.8,127.0 479.7,126.9 480.6,127.0 481.5,126.9 482.4,126.9 483.3,127.1 484.2,127.1 485.2,127.1 486.1,127.1 487.0,127.2 487.9,127.3 488.8,127.5 489.7,127.2 490.6,127.3 491.5,127.3 492.4,127.5 493.4,127.4 494.3,127.4 495.2,127.3 496.1,127.3 497.0,127.4 497.9,127.4 498.8,127.6 499.7,127.6 500.6,127.6 501.6,127.7 502.5,127.7 503.4,127.7 504.3,127.5 505.2,127.9 506.1,127.9 507.0,127.9 507.9,127.9 508.8,127.8 509.8,127.7 510.7,127.7 511.6,127.8 512.5,127.8 513.4,127.7 514.3,127.9 515.2,127.9 516.1,128.0 517.0,128.0 518.0,127.9 518.9,127.9 519.8,127.9 520.7,128.0 521.6,128.0" fill="none" stroke="#3e3e3e" stroke-width="0.85"/>
<polyline points="339.4,108.8 340.3,107.1 341.2,105.2 342.1,103.2 343.0,101.3 344.0,99.6 344.9,97.7 345.8,95.7 346.7,93.4 347.6,90.7 348.5,88.4 349.4,86.6 350.3,84.3 351.2,81.9 352.2,79.0 353.1,76.4 354.0,73.7 354.9,70.7 355.8,68.6 356.7,66.2 357.6,63.1 358.5,60.7 359.4,58.6 360.4,56.8 361.3,54.7 362.2,52.9 363.1,50.2 364.0,47.9 364.9,45.6 365.8,43.9 366.7,42.6 367.6,41.3 368.6,39.2 369.5,38.9 370.4,37.7 371.3,36.8 372.2,35.9 373.1,35.6 374.0,35.0 374.9,34.6 375.8,34.8 376.8,35.1 377.7,35.3 378.6,35.8 379.5,36.1 380.4,36.6 381.3,37.0 382.2,37.2 383.1,37.7 384.0,39.1 384.9,40.0 385.9,41.2 386.8,42.2 387.7,43.6 388.6,45.0 389.5,46.6 390.4,48.4 391.3,49.5 392.2,50.7 393.1,52.4 394.1,54.2 395.0,56.0 395.9,58.1 396.8,60.4 397.7,61.8 398.6,63.6 399.5,65.6 400.4,67.7 401.3,69.2 402.3,71.6 403.2,72.9 404.1,74.8 405.0,76.2 405.9,78.6 406.8,80.6 407.7,82.7 408.6,84.4 409.5,86.3 410.5,88.2 411.4,89.7 412.3,91.6 413.2,93.3 414.1,94.8 415.0,96.5 415.9,98.1 416.8,99.5 417.7,101.0 418.7,102.6 419.6,103.9 420.5,105.2 421.4,106.1 422.3,107.6 423.2,108.6 424.1,109.9 425.0,110.9 425.9,111.9 426.9,112.8 427.8,113.6 428.7,114.2 429.6,115.2 430.5,115.8 431.4,116.5 432.3,117.1 433.2,117.9 434.1,118.4 435.1,118.9 436.0,119.4 436.9,119.9 437.8,120.2 438.7,120.5 439.6,120.8 440.5,121.3 441.4,121.5 442.3,121.7 443.3,122.2 444.2,122.3 445.1,122.8 446.0,122.9 446.9,123.1 447.8,123.2 448.7,123.4 449.6,123.7 450.5,124.0 451.5,124.3 452.4,124.3 453.3,124.4 454.2,124.6 455.1,124.7 456.0,124.9 456.9,125.0 457.8,125.2 458.7,125.1 459.7,125.1 460.6,125.3 461.5,125.6 462.4,125.6 463.3,125.7 464.2,125.7 465.1,125.8 466.0,125.9 466.9,125.9 467.9,126.0 468.8,126.1 469.7,126.2 470.6,126.3 471.5,126.3 472.4,126.5 473.3,126.6 474.2,126.7 475.1,126.8 476.1,126.7 477.0,126.7 477.9,126.8 478.8,126.7 479.7,127.0 480.6,127.0 481.5,127.0 482.4,126.9 483.3,127.1 484.2,127.0 485.2,127.1 486.1,127.0 487.0,127.0 487.9,127.1 488.8,127.0 489.7,127.1 490.6,127.3 491.5,127.3 492.4,127.4 493.4,127.4 494.3,127.6 495.2,127.6 496.1,127.5 497.0,127.4 497.9,127.5 498.8,127.4 499.7,127.5 500.6,127.6 501.6,127.8 502.5,127.8 503.4,127.8 504.3,127.6 505.2,127.6 506.1,127.7 507.0,127.7 507.9,127.7 508.8,127.7 509.8,127.7 510.7,127.8 511.6,127.8 512.5,128.0 513.4,127.9 514.3,127.8 515.2,127.7 516.1,127.8 517.0,127.9 518.0,127.9 518.9,127.8 519.8,127.8 520.7,127.9 521.6,127.9" fill="none" stroke="#3e3e3e" stroke-width="0.85"/>
<polyline points="339.4,109.5 340.3,107.8 341.2,106.2 342.1,104.6 343.0,102.7 344.0,100.5 344.9,98.7 345.8,96.6 346.7,94.2 347.6,92.1 348.5,89.9 349.4,87.0 350.3,84.6 351.2,82.0 352.2,79.9 353.1,77.0 354.0,75.0 354.9,72.5 355.8,69.6 356.7,66.7 357.6,64.6 358.5,62.3 359.4,59.7 360.4,57.8 361.3,55.0 362.2,52.6 363.1,50.7 364.0,48.4 364.9,46.4 365.8,44.6 366.7,43.0 367.6,41.2 368.6,40.3 369.5,39.2 370.4,38.5 371.3,37.3 372.2,36.9 373.1,36.2 374.0,35.9 374.9,35.8 375.8,35.1 376.8,35.5 377.7,35.3 378.6,35.6 379.5,35.9 380.4,36.8 381.3,37.2 382.2,37.9 383.1,39.2 384.0,40.0 384.9,41.1 385.9,42.3 386.8,43.0 387.7,44.7 388.6,46.5 389.5,48.2 390.4,49.5 391.3,50.9 392.2,52.2 393.1,53.6 394.1,54.7 395.0,56.6 395.9,58.4 396.8,60.6 397.7,62.2 398.6,63.8 399.5,65.5 400.4,68.1 401.3,69.7 402.3,71.3 403.2,73.2 404.1,75.7 405.0,77.6 405.9,79.3 406.8,81.1 407.7,83.1 408.6,85.1 409.5,86.6 410.5,88.7 411.4,90.0 412.3,91.8 413.2,93.4 414.1,95.3 415.0,96.9 415.9,98.3 416.8,100.0 417.7,101.0 418.7,102.7 419.6,104.2 420.5,105.4 421.4,106.5 422.3,107.6 423.2,108.9 424.1,110.0 425.0,111.1 425.9,112.1 426.9,113.3 427.8,113.9 428.7,114.7 429.6,115.4 430.5,116.2 431.4,116.8 432.3,117.5 433.2,118.1 434.1,118.5 435.1,119.2 436.0,119.6 436.9,120.1 437.8,120.5 438.7,120.7 439.6,121.2 440.5,121.5 441.4,121.8 442.3,122.0 443.3,122.4 444.2,122.8 445.1,122.9 446.0,123.1 446.9,123.3 447.8,123.4 448.7,123.7 449.6,123.9 450.5,124.0 451.5,124.1 452.4,124.3 453.3,124.4 454.2,124.3 455.1,124.6 456.0,124.6 456.9,125.0 457.8,125.0 458.7,125.2 459.7,125.3 460.6,125.4 461.5,125.6 462.4,125.8 463.3,125.8 464.2,125.7 465.1,125.7 466.0,125.9 466.9,126.1 467.9,126.2 468.8,126.3 469.7,126.2 470.6,126.2 471.5,126.3 472.4,126.5 473.3,126.6 474.2,126.5 475.1,126.5 476.1,126.7 477.0,126.7 477.9,126.8 478.8,126.8 479.7,126.9 480.6,127.0 481.5,127.0 482.4,127.0 483.3,126.9 484.2,127.1 485.2,127.0 486.1,127.0 487.0,127.1 487.9,127.1 488.8,127.3 489.7,127.3 490.6,127.4 491.5,127.4 492.4,127.4 493.4,127.3 494.3,127.3 495.2,127.3 496.1,127.4 497.0,127.5 497.9,127.5 498.8,127.5 499.7,127.7 500.6,127.6 501.6,127.7 502.5,127.7 503.4,127.7 504.3,127.7 505.2,127.6 506.1,127.6 507.0,127.5 507.9,127.5 508.8,127.7 509.8,127.7 510.7,127.6 511.6,127.7 512.5,127.7 513.4,127.8 514.3,127.8 515.2,127.9 516.1,127.8 517.0,127.8 518.0,127.7 518.9,127.8 519.8,127.8 520.7,127.8 521.6,127.9" fill="none" stroke="#3e3e3e" stroke-width="0.85"/>
<polyline points="339.4,110.7 340.3,109.0 341.2,107.5 342.1,105.6 343.0,104.0 344.0,101.8 344.9,100.2 345.8,98.0 346.7,95.6 347.6,93.8 348.5,91.3 349.4,89.2 350.3,87.2 351.2,84.5 352.2,81.9 353.1,79.5 354.0,77.6 354.9,74.8 355.8,72.2 356.7,69.7 357.6,67.2 358.5,65.1 359.4,62.6 360.4,59.5 361.3,56.9 362.2,55.1 363.1,53.3 364.0,51.2 364.9,49.0 365.8,47.2 366.7,46.2 367.6,44.6 368.6,43.3 369.5,41.7 370.4,40.5 371.3,39.9 372.2,39.0 373.1,39.0 374.0,38.2 374.9,38.5 375.8,38.4 376.8,38.2 377.7,38.9 378.6,39.4 379.5,40.3 380.4,40.3 381.3,40.8 382.2,41.5 383.1,42.0 384.0,43.6 384.9,44.2 385.9,45.1 386.8,46.2 387.7,47.1 388.6,47.9 389.5,49.7 390.4,51.5 391.3,53.0 392.2,54.4 393.1,55.8 394.1,57.7 395.0,59.0 395.9,61.1 396.8,62.5 397.7,64.2 398.6,66.0 399.5,67.3 400.4,69.5 401.3,71.5 402.3,73.3 403.2,75.0 404.1,77.3 405.0,79.0 405.9,81.0 406.8,82.6 407.7,84.1 408.6,86.0 409.5,87.9 410.5,89.6 411.4,91.9 412.3,93.1 413.2,94.6 414.1,96.1 415.0,97.8 415.9,99.4 416.8,100.8 417.7,101.9 418.7,103.4 419.6,104.5 420.5,106.3 421.4,107.4 422.3,108.5 423.2,109.5 424.1,110.8 425.0,111.8 425.9,112.5 426.9,113.6 427.8,114.5 428.7,115.3 429.6,116.0 430.5,116.6 431.4,117.1 432.3,118.0 433.2,118.3 434.1,118.9 435.1,119.5 436.0,119.7 436.9,120.2 437.8,120.7 438.7,121.1 439.6,121.5 440.5,121.8 441.4,122.1 442.3,122.2 443.3,122.4 444.2,122.9 445.1,122.7 446.0,123.2 446.9,123.4 447.8,123.6 448.7,123.7 449.6,123.9 450.5,124.1 451.5,124.0 452.4,124.3 453.3,124.6 454.2,124.7 455.1,124.9 456.0,125.0 456.9,125.1 457.8,125.2 458.7,125.3 459.7,125.3 460.6,125.5 461.5,125.7 462.4,125.7 463.3,125.8 464.2,125.8 465.1,126.0 466.0,126.0 466.9,126.1 467.9,126.4 468.8,126.5 469.7,126.6 470.6,126.4 471.5,126.6 472.4,126.5 473.3,126.5 474.2,126.5 475.1,126.6 476.1,126.7 477.0,126.8 477.9,126.8 478.8,126.8 479.7,126.8 480.6,126.9 481.5,127.0 482.4,127.1 483.3,127.1 484.2,127.3 485.2,127.3 486.1,127.3 487.0,127.3 487.9,127.3 488.8,127.6 489.7,127.5 490.6,127.5 491.5,127.4 492.4,127.6 493.4,127.5 494.3,127.5 495.2,127.4 496.1,127.4 497.0,127.4 497.9,127.5 498.8,127.5 499.7,127.6 500.6,127.7 501.6,127.5 502.5,127.6 503.4,127.7 504.3,127.7 505.2,127.8 506.1,127.7 507.0,127.7 507.9,127.6 508.8,127.6 509.8,127.7 510.7,127.7 511.6,127.8 512.5,127.8 513.4,127.8 514.3,127.8 515.2,127.7 516.1,127.8 517.0,127.8 518.0,127.9 518.9,128.0 519.8,128.0 520.7,128.0 521.6,127.9" fill="none" stroke="#777" stroke-width="0.85"/>
<polyline points="339.4,112.2 340.3,110.8 341.2,109.3 342.1,107.8 343.0,106.1 344.0,104.5 344.9,102.8 345.8,100.9 346.7,99.0 347.6,96.9 348.5,94.8 349.4,92.6 350.3,90.3 351.2,88.1 352.2,85.8 353.1,83.7 354.0,81.1 354.9,78.8 355.8,76.2 356.7,74.4 357.6,72.0 358.5,69.3 359.4,67.5 360.4,65.1 361.3,62.6 362.2,60.4 363.1,58.8 364.0,56.6 364.9,54.7 365.8,53.4 366.7,51.5 367.6,50.1 368.6,48.9 369.5,48.0 370.4,46.8 371.3,46.0 372.2,45.1 373.1,44.6 374.0,44.7 374.9,44.6 375.8,44.2 376.8,44.5 377.7,44.5 378.6,44.6 379.5,45.2 380.4,46.4 381.3,46.6 382.2,47.0 383.1,47.6 384.0,48.7 384.9,49.1 385.9,50.2 386.8,51.5 387.7,52.8 388.6,53.7 389.5,55.3 390.4,56.7 391.3,57.3 392.2,58.5 393.1,60.0 394.1,61.4 395.0,63.1 395.9,65.4 396.8,66.6 397.7,68.1 398.6,69.8 399.5,72.2 400.4,73.5 401.3,74.9 402.3,76.9 403.2,78.7 404.1,80.3 405.0,82.1 405.9,83.6 406.8,85.4 407.7,87.0 408.6,88.8 409.5,90.8 410.5,92.5 411.4,93.3 412.3,95.0 413.2,96.4 414.1,97.9 415.0,99.2 415.9,100.7 416.8,102.4 417.7,103.7 418.7,105.3 419.6,106.5 420.5,107.4 421.4,108.9 422.3,109.8 423.2,110.7 424.1,111.5 425.0,112.7 425.9,113.7 426.9,114.7 427.8,115.5 428.7,116.0 429.6,116.5 430.5,117.3 431.4,117.8 432.3,118.4 433.2,119.0 434.1,119.3 435.1,120.1 436.0,120.5 436.9,120.8 437.8,120.9 438.7,121.2 439.6,121.4 440.5,121.9 441.4,122.1 442.3,122.4 443.3,122.7 444.2,123.0 445.1,123.3 446.0,123.5 446.9,123.8 447.8,123.8 448.7,124.0 449.6,124.4 450.5,124.5 451.5,124.6 452.4,124.7 453.3,124.6 454.2,124.9 455.1,125.0 456.0,125.2 456.9,125.3 457.8,125.5 458.7,125.5 459.7,125.3 460.6,125.5 461.5,125.8 462.4,125.7 463.3,125.8 464.2,125.9 465.1,125.9 466.0,126.0 466.9,126.1 467.9,126.1 468.8,126.2 469.7,126.2 470.6,126.4 471.5,126.5 472.4,126.7 473.3,126.6 474.2,126.6 475.1,126.8 476.1,126.8 477.0,126.6 477.9,126.7 478.8,126.9 479.7,127.0 480.6,127.0 481.5,127.0 482.4,127.1 483.3,127.0 484.2,127.1 485.2,127.3 486.1,127.2 487.0,127.3 487.9,127.3 488.8,127.4 489.7,127.5 490.6,127.6 491.5,127.6 492.4,127.6 493.4,127.8 494.3,127.6 495.2,127.7 496.1,127.7 497.0,127.6 497.9,127.8 498.8,127.6 499.7,127.7 500.6,127.6 501.6,127.7 502.5,127.7 503.4,127.7 504.3,127.7 505.2,127.9 506.1,128.0 507.0,127.9 507.9,127.7 508.8,127.8 509.8,127.8 510.7,127.8 511.6,127.8 512.5,127.7 513.4,127.9 514.3,127.9 515.2,127.9 516.1,127.9 517.0,128.0 518.0,128.0 518.9,128.1 519.8,128.1 520.7,127.8 521.6,127.7" fill="none" stroke="#606060" stroke-width="0.85"/>
<polyline points="339.4,113.1 340.3,111.6 341.2,110.3 342.1,109.2 343.0,107.6 344.0,105.7 344.9,103.6 345.8,101.7 346.7,100.0 347.6,98.0 348.5,96.0 349.4,94.0 350.3,91.7 351.2,89.5 352.2,87.2 353.1,85.0 354.0,82.7 354.9,80.1 355.8,77.3 356.7,75.1 357.6,72.3 358.5,70.7 359.4,68.3 360.4,66.4 361.3,64.2 362.2,62.0 363.1,59.8 364.0,57.7 364.9,56.2 365.8,55.0 366.7,53.4 367.6,51.8 368.6,50.8 369.5,49.3 370.4,47.9 371.3,47.9 372.2,47.1 373.1,46.3 374.0,46.8 374.9,46.3 375.8,46.2 376.8,46.7 377.7,46.1 378.6,46.4 379.5,46.9 380.4,47.2 381.3,47.6 382.2,48.1 383.1,48.8 384.0,49.6 384.9,51.0 385.9,52.0 386.8,52.9 387.7,54.8 388.6,55.0 389.5,56.4 390.4,58.0 391.3,59.7 392.2,60.7 393.1,62.0 394.1,63.6 395.0,65.2 395.9,66.9 396.8,68.5 397.7,70.0 398.6,71.6 399.5,73.0 400.4,74.7 401.3,76.4 402.3,78.0 403.2,79.4 404.1,81.1 405.0,82.9 405.9,84.7 406.8,86.6 407.7,88.2 408.6,89.6 409.5,91.2 410.5,92.9 411.4,94.7 412.3,96.4 413.2,97.6 414.1,98.8 415.0,100.2 415.9,101.8 416.8,103.1 417.7,104.3 418.7,105.7 419.6,106.8 420.5,107.9 421.4,109.1 422.3,110.3 423.2,111.1 424.1,112.0 425.0,113.1 425.9,114.0 426.9,114.7 427.8,115.4 428.7,116.2 429.6,116.7 430.5,117.5 431.4,118.2 432.3,118.6 433.2,119.2 434.1,119.6 435.1,120.1 436.0,120.6 436.9,121.1 437.8,121.4 438.7,121.5 439.6,122.0 440.5,122.1 441.4,122.4 442.3,122.8 443.3,123.0 444.2,123.2 445.1,123.5 446.0,123.9 446.9,123.9 447.8,124.2 448.7,124.2 449.6,124.5 450.5,124.6 451.5,124.8 452.4,125.0 453.3,125.0 454.2,125.1 455.1,125.2 456.0,125.4 456.9,125.4 457.8,125.7 458.7,125.6 459.7,125.6 460.6,125.6 461.5,125.7 462.4,125.8 463.3,125.9 464.2,126.0 465.1,126.2 466.0,126.1 466.9,126.2 467.9,126.3 468.8,126.5 469.7,126.4 470.6,126.4 471.5,126.7 472.4,126.6 473.3,126.5 474.2,126.7 475.1,126.7 476.1,126.8 477.0,126.9 477.9,126.9 478.8,126.7 479.7,126.8 480.6,127.0 481.5,127.0 482.4,127.1 483.3,127.1 484.2,127.1 485.2,127.3 486.1,127.4 487.0,127.4 487.9,127.3 488.8,127.3 489.7,127.3 490.6,127.5 491.5,127.4 492.4,127.5 493.4,127.5 494.3,127.5 495.2,127.6 496.1,127.6 497.0,127.7 497.9,127.6 498.8,127.7 499.7,127.7 500.6,127.7 501.6,127.7 502.5,127.6 503.4,127.7 504.3,127.7 505.2,127.7 506.1,127.8 507.0,127.8 507.9,127.9 508.8,127.9 509.8,127.9 510.7,127.7 511.6,127.8 512.5,127.7 513.4,127.7 514.3,127.9 515.2,128.1 516.1,127.9 517.0,128.1 518.0,128.0 518.9,127.8 519.8,127.9 520.7,127.9 521.6,127.9" fill="none" stroke="#aaa" stroke-width="0.85"/>
<polyline points="339.4,114.3 340.3,113.1 341.2,111.8 342.1,110.4 343.0,108.6 344.0,107.2 344.9,105.4 345.8,103.9 346.7,102.1 347.6,100.3 348.5,98.2 349.4,96.0 350.3,93.8 351.2,91.8 352.2,89.5 353.1,87.4 354.0,85.1 354.9,82.8 355.8,80.4 356.7,78.8 357.6,76.7 358.5,74.0 359.4,71.8 360.4,69.1 361.3,67.3 362.2,65.5 363.1,63.2 364.0,61.4 364.9,59.4 365.8,58.0 366.7,56.8 367.6,55.4 368.6,54.6 369.5,53.7 370.4,52.9 371.3,52.1 372.2,51.1 373.1,50.9 374.0,50.4 374.9,50.4 375.8,50.0 376.8,51.0 377.7,50.9 378.6,50.9 379.5,51.4 380.4,51.3 381.3,51.8 382.2,52.1 383.1,52.6 384.0,53.4 384.9,54.5 385.9,55.9 386.8,56.8 387.7,57.9 388.6,58.9 389.5,60.2 390.4,60.5 391.3,62.5 392.2,63.5 393.1,65.2 394.1,66.7 395.0,67.9 395.9,69.5 396.8,71.4 397.7,72.7 398.6,74.3 399.5,76.3 400.4,77.6 401.3,79.4 402.3,81.0 403.2,82.3 404.1,83.8 405.0,85.5 405.9,86.6 406.8,88.3 407.7,90.1 408.6,91.6 409.5,93.2 410.5,95.1 411.4,96.6 412.3,98.1 413.2,98.9 414.1,100.4 415.0,101.7 415.9,103.1 416.8,104.2 417.7,105.4 418.7,106.4 419.6,107.6 420.5,108.5 421.4,109.8 422.3,110.8 423.2,111.9 424.1,112.9 425.0,114.0 425.9,114.8 426.9,115.6 427.8,116.3 428.7,116.8 429.6,117.4 430.5,117.9 431.4,118.5 432.3,119.0 433.2,119.5 434.1,120.1 435.1,120.5 436.0,120.9 436.9,121.4 437.8,121.6 438.7,121.7 439.6,122.2 440.5,122.3 441.4,122.6 442.3,123.0 443.3,123.2 444.2,123.4 445.1,123.6 446.0,123.9 446.9,124.2 447.8,124.3 448.7,124.3 449.6,124.4 450.5,124.6 451.5,124.6 452.4,124.9 453.3,125.1 454.2,125.1 455.1,125.2 456.0,125.3 456.9,125.4 457.8,125.5 458.7,125.5 459.7,125.9 460.6,125.9 461.5,125.8 462.4,125.9 463.3,126.2 464.2,126.2 465.1,126.4 466.0,126.5 466.9,126.5 467.9,126.3 468.8,126.4 469.7,126.5 470.6,126.5 471.5,126.6 472.4,126.8 473.3,126.8 474.2,126.8 475.1,126.9 476.1,127.0 477.0,127.0 477.9,127.2 478.8,127.2 479.7,127.2 480.6,127.2 481.5,127.2 482.4,127.1 483.3,127.1 484.2,127.2 485.2,127.4 486.1,127.5 487.0,127.4 487.9,127.5 488.8,127.4 489.7,127.5 490.6,127.5 491.5,127.5 492.4,127.4 493.4,127.5 494.3,127.6 495.2,127.6 496.1,127.6 497.0,127.5 497.9,127.6 498.8,127.7 499.7,127.7 500.6,127.7 501.6,127.7 502.5,127.6 503.4,127.8 504.3,127.6 505.2,127.5 506.1,127.6 507.0,127.8 507.9,127.8 508.8,127.8 509.8,128.0 510.7,127.9 511.6,128.0 512.5,127.9 513.4,127.8 514.3,127.7 515.2,127.9 516.1,127.8 517.0,127.8 518.0,127.9 518.9,127.9 519.8,127.8 520.7,127.9 521.6,127.9" fill="none" stroke="#c8c8c8" stroke-width="0.85"/>
<polyline points="339.4,115.5 340.3,114.1 341.2,113.1 342.1,111.5 343.0,110.2 344.0,108.5 344.9,107.2 345.8,105.5 346.7,103.8 347.6,101.7 348.5,100.1 349.4,97.9 350.3,96.0 351.2,93.7 352.2,91.7 353.1,89.5 354.0,87.4 354.9,84.9 355.8,82.9 356.7,80.8 357.6,78.2 358.5,76.3 359.4,74.1 360.4,72.4 361.3,70.3 362.2,69.0 363.1,66.9 364.0,65.1 364.9,63.7 365.8,62.3 366.7,60.3 367.6,58.8 368.6,58.1 369.5,56.4 370.4,55.9 371.3,55.2 372.2,54.5 373.1,54.4 374.0,54.4 374.9,54.2 375.8,53.5 376.8,53.2 377.7,54.0 378.6,53.7 379.5,54.1 380.4,54.4 381.3,55.0 382.2,55.5 383.1,56.5 384.0,57.4 384.9,58.3 385.9,59.1 386.8,59.7 387.7,61.0 388.6,61.5 389.5,62.9 390.4,64.2 391.3,65.2 392.2,66.4 393.1,67.9 394.1,69.5 395.0,71.0 395.9,72.7 396.8,73.6 397.7,74.8 398.6,75.9 399.5,77.6 400.4,79.2 401.3,80.7 402.3,82.2 403.2,84.0 404.1,85.5 405.0,86.7 405.9,88.8 406.8,90.6 407.7,92.1 408.6,93.3 409.5,94.5 410.5,96.1 411.4,97.4 412.3,98.8 413.2,100.1 414.1,101.6 415.0,102.9 415.9,104.1 416.8,105.1 417.7,106.0 418.7,107.6 419.6,108.6 420.5,109.7 421.4,110.6 422.3,111.5 423.2,112.4 424.1,113.3 425.0,114.4 425.9,115.4 426.9,115.9 427.8,116.5 428.7,117.3 429.6,117.8 430.5,118.4 431.4,119.3 432.3,119.6 433.2,120.2 434.1,120.4 435.1,120.9 436.0,121.4 436.9,121.8 437.8,122.1 438.7,122.2 439.6,122.6 440.5,123.0 441.4,122.9 442.3,123.0 443.3,123.3 444.2,123.6 445.1,124.0 446.0,124.3 446.9,124.3 447.8,124.3 448.7,124.6 449.6,124.7 450.5,124.9 451.5,125.0 452.4,125.1 453.3,125.0 454.2,125.3 455.1,125.3 456.0,125.4 456.9,125.6 457.8,125.7 458.7,125.9 459.7,125.9 460.6,126.0 461.5,126.1 462.4,126.2 463.3,126.3 464.2,126.4 465.1,126.5 466.0,126.3 466.9,126.4 467.9,126.5 468.8,126.7 469.7,126.9 470.6,126.7 471.5,126.8 472.4,126.9 473.3,126.9 474.2,126.9 475.1,127.1 476.1,127.1 477.0,127.1 477.9,127.2 478.8,127.1 479.7,127.0 480.6,127.1 481.5,127.2 482.4,127.2 483.3,127.3 484.2,127.3 485.2,127.3 486.1,127.4 487.0,127.3 487.9,127.1 488.8,127.3 489.7,127.4 490.6,127.4 491.5,127.4 492.4,127.5 493.4,127.6 494.3,127.5 495.2,127.5 496.1,127.5 497.0,127.7 497.9,127.6 498.8,127.6 499.7,127.7 500.6,127.6 501.6,127.5 502.5,127.8 503.4,127.7 504.3,127.8 505.2,127.9 506.1,127.9 507.0,127.8 507.9,127.8 508.8,127.9 509.8,128.0 510.7,128.0 511.6,127.9 512.5,128.0 513.4,128.1 514.3,127.8 515.2,128.0 516.1,128.0 517.0,128.0 518.0,128.0 518.9,128.0 519.8,128.0 520.7,127.9 521.6,128.1" fill="none" stroke="#dcdcdc" stroke-width="0.85"/>
<polyline points="339.4,117.5 340.3,116.2 341.2,115.1 342.1,113.8 343.0,112.5 344.0,111.2 344.9,109.8 345.8,108.6 346.7,107.3 347.6,105.4 348.5,103.6 349.4,101.8 350.3,100.3 351.2,98.8 352.2,96.9 353.1,95.0 354.0,92.9 354.9,91.0 355.8,88.6 356.7,86.8 357.6,85.0 358.5,82.8 359.4,80.9 360.4,79.3 361.3,77.2 362.2,75.1 363.1,73.9 364.0,72.4 364.9,71.2 365.8,70.1 366.7,68.4 367.6,66.9 368.6,65.7 369.5,64.8 370.4,64.6 371.3,63.8 372.2,63.4 373.1,63.1 374.0,62.9 374.9,62.3 375.8,62.3 376.8,61.7 377.7,61.9 378.6,62.8 379.5,62.7 380.4,62.8 381.3,63.3 382.2,64.3 383.1,64.3 384.0,65.4 384.9,66.1 385.9,67.3 386.8,68.2 387.7,69.3 388.6,69.6 389.5,70.2 390.4,71.5 391.3,72.9 392.2,73.9 393.1,74.9 394.1,76.5 395.0,77.8 395.9,78.9 396.8,79.9 397.7,81.2 398.6,82.4 399.5,84.1 400.4,85.8 401.3,86.8 402.3,88.3 403.2,89.5 404.1,90.8 405.0,92.0 405.9,93.5 406.8,94.5 407.7,95.9 408.6,97.1 409.5,98.4 410.5,99.6 411.4,100.9 412.3,102.5 413.2,103.7 414.1,104.5 415.0,105.6 415.9,106.7 416.8,107.8 417.7,109.0 418.7,110.1 419.6,111.1 420.5,111.8 421.4,112.7 422.3,113.4 423.2,114.3 424.1,114.9 425.0,115.8 425.9,116.7 426.9,117.2 427.8,117.9 428.7,118.4 429.6,119.0 430.5,119.7 431.4,120.1 432.3,120.7 433.2,121.2 434.1,121.6 435.1,122.0 436.0,122.4 436.9,122.6 437.8,122.8 438.7,122.8 439.6,122.9 440.5,123.3 441.4,123.5 442.3,123.8 443.3,124.0 444.2,124.2 445.1,124.4 446.0,124.6 446.9,124.9 447.8,124.9 448.7,125.0 449.6,125.3 450.5,125.4 451.5,125.4 452.4,125.5 453.3,125.6 454.2,125.6 455.1,125.6 456.0,125.9 456.9,126.0 457.8,126.0 458.7,125.9 459.7,126.1 460.6,126.1 461.5,126.4 462.4,126.5 463.3,126.3 464.2,126.5 465.1,126.4 466.0,126.6 466.9,126.7 467.9,126.9 468.8,126.8 469.7,126.8 470.6,126.7 471.5,126.8 472.4,126.9 473.3,127.1 474.2,127.1 475.1,127.0 476.1,127.0 477.0,127.0 477.9,127.0 478.8,127.1 479.7,127.2 480.6,127.2 481.5,127.4 482.4,127.2 483.3,127.3 484.2,127.5 485.2,127.4 486.1,127.4 487.0,127.4 487.9,127.3 488.8,127.7 489.7,127.6 490.6,127.5 491.5,127.6 492.4,127.8 493.4,127.7 494.3,127.7 495.2,127.6 496.1,127.8 497.0,127.8 497.9,127.8 498.8,127.7 499.7,127.5 500.6,127.6 501.6,127.8 502.5,128.0 503.4,127.8 504.3,127.8 505.2,127.9 506.1,127.9 507.0,127.8 507.9,128.0 508.8,128.0 509.8,127.9 510.7,127.9 511.6,127.8 512.5,127.9 513.4,127.9 514.3,127.8 515.2,128.0 516.1,128.0 517.0,128.0 518.0,127.9 518.9,128.0 519.8,127.9 520.7,127.9 521.6,128.1" fill="none" stroke="#3e3e3e" stroke-width="0.85"/>
<polyline points="339.4,118.7 340.3,117.8 341.2,116.6 342.1,115.4 343.0,114.1 344.0,112.8 344.9,111.7 345.8,110.1 346.7,108.7 347.6,107.2 348.5,105.6 349.4,104.3 350.3,102.5 351.2,101.0 352.2,99.4 353.1,97.5 354.0,95.6 354.9,93.7 355.8,91.9 356.7,90.2 357.6,88.2 358.5,86.5 359.4,84.9 360.4,83.0 361.3,80.8 362.2,79.4 363.1,78.1 364.0,76.1 364.9,74.4 365.8,73.4 366.7,72.3 367.6,71.2 368.6,69.4 369.5,68.9 370.4,68.1 371.3,67.6 372.2,67.7 373.1,67.5 374.0,67.4 374.9,66.9 375.8,66.7 376.8,66.2 377.7,66.6 378.6,66.8 379.5,67.1 380.4,67.4 381.3,67.3 382.2,68.0 383.1,68.3 384.0,68.9 384.9,70.0 385.9,70.6 386.8,71.6 387.7,72.5 388.6,73.4 389.5,74.3 390.4,75.4 391.3,76.0 392.2,77.3 393.1,78.3 394.1,79.1 395.0,80.3 395.9,81.5 396.8,82.6 397.7,83.8 398.6,84.9 399.5,86.8 400.4,87.7 401.3,89.1 402.3,90.9 403.2,92.2 404.1,93.6 405.0,94.7 405.9,96.1 406.8,97.4 407.7,98.4 408.6,99.5 409.5,100.8 410.5,101.9 411.4,103.0 412.3,104.1 413.2,105.2 414.1,106.3 415.0,107.2 415.9,108.5 416.8,109.5 417.7,110.4 418.7,111.4 419.6,112.3 420.5,113.2 421.4,113.9 422.3,114.6 423.2,115.4 424.1,116.2 425.0,116.8 425.9,117.5 426.9,118.4 427.8,118.8 428.7,119.4 429.6,119.9 430.5,120.3 431.4,120.7 432.3,121.2 433.2,121.8 434.1,122.3 435.1,122.4 436.0,122.7 436.9,122.9 437.8,123.1 438.7,123.4 439.6,123.7 440.5,124.0 441.4,124.1 442.3,124.4 443.3,124.4 444.2,124.7 445.1,125.0 446.0,125.0 446.9,125.2 447.8,125.1 448.7,125.3 449.6,125.4 450.5,125.5 451.5,125.7 452.4,125.9 453.3,126.1 454.2,125.9 455.1,125.9 456.0,125.8 456.9,126.1 457.8,126.1 458.7,126.2 459.7,126.2 460.6,126.4 461.5,126.4 462.4,126.4 463.3,126.5 464.2,126.4 465.1,126.6 466.0,126.5 466.9,126.8 467.9,126.7 468.8,127.0 469.7,127.0 470.6,127.1 471.5,127.1 472.4,127.0 473.3,127.0 474.2,127.1 475.1,127.0 476.1,127.2 477.0,127.3 477.9,127.2 478.8,127.2 479.7,127.5 480.6,127.4 481.5,127.5 482.4,127.4 483.3,127.3 484.2,127.4 485.2,127.4 486.1,127.5 487.0,127.5 487.9,127.5 488.8,127.5 489.7,127.7 490.6,127.7 491.5,127.9 492.4,127.9 493.4,128.0 494.3,127.7 495.2,127.8 496.1,128.0 497.0,127.8 497.9,127.8 498.8,127.8 499.7,127.6 500.6,127.6 501.6,127.7 502.5,127.8 503.4,128.1 504.3,128.0 505.2,127.8 506.1,127.9 507.0,128.0 507.9,128.0 508.8,128.1 509.8,128.0 510.7,127.9 511.6,127.8 512.5,127.8 513.4,127.9 514.3,127.9 515.2,127.8 516.1,127.9 517.0,128.1 518.0,128.1 518.9,128.2 519.8,128.2 520.7,128.1 521.6,128.0" fill="none" stroke="#3e3e3e" stroke-width="0.85"/>
<rect x="339.4" y="19.4" width="182.2" height="109.3" fill="none" stroke="#505050" stroke-width="0.85"/>
<path d="M357.6 19.4v1.5M357.6 128.7v-1.5M375.8 19.4v1.5M375.8 128.7v-1.5M394.1 19.4v1.5M394.1 128.7v-1.5M412.3 19.4v1.5M412.3 128.7v-1.5M430.5 19.4v2.0M430.5 128.7v-2.0M448.7 19.4v1.5M448.7 128.7v-1.5M466.9 19.4v1.5M466.9 128.7v-1.5M485.2 19.4v1.5M485.2 128.7v-1.5M503.4 19.4v1.5M503.4 128.7v-1.5M339.4 30.3h1.5M521.6 30.3h-1.5M339.4 41.3h1.5M521.6 41.3h-1.5M339.4 52.2h1.5M521.6 52.2h-1.5M339.4 63.1h1.5M521.6 63.1h-1.5M339.4 74.0h2.0M521.6 74.0h-2.0M339.4 85.0h1.5M521.6 85.0h-1.5M339.4 95.9h1.5M521.6 95.9h-1.5M339.4 106.8h1.5M521.6 106.8h-1.5M339.4 117.8h1.5M521.6 117.8h-1.5" stroke="#444" stroke-width="0.7" fill="none"/>
<text class="n" transform="translate(314.8 21.3) scale(0.86 1)" x="2.03 6.10 10.17 14.24 18.31 22.38 26.45" y="0" text-anchor="middle">900,000</text>
<text class="n" transform="translate(314.8 76.6) scale(0.86 1)" x="2.03 6.10 10.17 14.24 18.31 22.38 26.45" y="0" text-anchor="middle">450,000</text>
<text class="n" transform="translate(321.8 130.9) scale(0.86 1)" x="2.03 6.10 10.17 14.24 18.31" y="0" text-anchor="middle">0,000</text>
<text class="n" transform="translate(330.9 139.7) scale(0.86 1)" x="2.03 6.10 10.17 14.24 18.31" y="0" text-anchor="middle">300,0</text>
<text class="n" transform="translate(421.4 139.7) scale(0.86 1)" x="2.03 6.10 10.17 14.24 18.31" y="0" text-anchor="middle">400,0</text>
<text class="n" transform="translate(512.6 139.7) scale(0.86 1)" x="2.03 6.10 10.17 14.24 18.31" y="0" text-anchor="middle">500,0</text>
<text class="m" x="403.1" y="146.7" textLength="52.5" lengthAdjust="spacingAndGlyphs">Wavelength (nm)</text>
<g transform="translate(302.4 71.8) rotate(-90)"><text class="m" x="-15.8" y="0.0" textLength="31.5" lengthAdjust="spacingAndGlyphs">Intensity</text></g>
<text class="s" x="474.7" y="50.8" text-anchor="middle" font-size="8">1</text>
<path d="M474.7 52.5V65.9" stroke="#111" stroke-width="1.4"/>
<path d="M474.7 68.9l-2.3 -4.8h4.6z" fill="#111"/>
<text class="s" x="475.0" y="78.0" text-anchor="middle" font-size="8">10</text>
</g>
<g>
<polyline points="49.6,254.7 50.5,253.1 51.4,251.4 52.2,249.6 53.1,247.7 54.0,245.7 54.9,243.6 55.7,241.8 56.6,239.9 57.5,237.4 58.4,235.3 59.2,233.1 60.1,231.1 61.0,228.6 61.9,226.5 62.7,224.4 63.6,222.0 64.5,219.7 65.4,217.1 66.2,214.9 67.1,212.6 68.0,210.4 68.9,208.1 69.7,206.2 70.6,203.8 71.5,202.3 72.4,200.5 73.3,198.8 74.1,196.7 75.0,195.1 75.9,193.6 76.8,192.4 77.6,191.5 78.5,190.8 79.4,189.7 80.3,189.0 81.1,188.1 82.0,187.5 82.9,186.8 83.8,186.8 84.6,187.1 85.5,187.5 86.4,187.5 87.3,187.5 88.1,187.3 89.0,188.1 89.9,188.3 90.8,188.8 91.6,190.5 92.5,191.1 93.4,192.0 94.3,193.0 95.2,194.5 96.0,195.7 96.9,197.4 97.8,198.9 98.7,200.3 99.5,201.3 100.4,203.2 101.3,204.6 102.2,206.4 103.0,208.4 103.9,210.0 104.8,211.6 105.7,213.6 106.5,215.2 107.4,217.2 108.3,219.2 109.2,220.8 110.0,222.6 110.9,224.6 111.8,226.7 112.7,228.2 113.5,229.8 114.4,231.6 115.3,233.2 116.2,235.2 117.1,236.6 117.9,238.1 118.8,239.7 119.7,241.4 120.6,242.9 121.4,244.3 122.3,245.5 123.2,246.9 124.1,248.3 124.9,249.7 125.8,250.7 126.7,251.7 127.6,253.0 128.4,253.9 129.3,254.9 130.2,255.9 131.1,256.9 131.9,257.4 132.8,258.5 133.7,259.1 134.6,259.8 135.4,260.2 136.3,260.9 137.2,261.5 138.1,261.9 139.0,262.4 139.8,263.0 140.7,263.4 141.6,263.8 142.5,264.1 143.3,264.7 144.2,265.1 145.1,265.5 146.0,265.9 146.8,266.1 147.7,266.4 148.6,266.5 149.5,266.9 150.3,267.2 151.2,267.4 152.1,267.7 153.0,268.0 153.8,268.2 154.7,268.5 155.6,268.8 156.5,268.8 157.3,269.0 158.2,269.2 159.1,269.5 160.0,269.6 160.9,269.6 161.7,269.9 162.6,270.1 163.5,270.1 164.4,270.1 165.2,270.1 166.1,270.4 167.0,270.5 167.9,270.7 168.7,270.7 169.6,270.9 170.5,271.0 171.4,270.9 172.2,271.0 173.1,271.2 174.0,271.3 174.9,271.3 175.7,271.5 176.6,271.5 177.5,271.5 178.4,271.4 179.2,271.8 180.1,271.9 181.0,272.0 181.9,271.9 182.8,271.7 183.6,271.9 184.5,272.0 185.4,272.0 186.3,272.4 187.1,272.4 188.0,272.7 188.9,272.6 189.8,272.6 190.6,272.7 191.5,272.6 192.4,272.7 193.3,272.6 194.1,272.7 195.0,272.8 195.9,272.6 196.8,272.8 197.6,272.8 198.5,273.0 199.4,273.0 200.3,273.0 201.1,273.1 202.0,273.1 202.9,273.1 203.8,273.1 204.7,273.3 205.5,273.4 206.4,273.4 207.3,273.6 208.2,273.7 209.0,273.6 209.9,273.6 210.8,273.5 211.7,273.5 212.5,273.6 213.4,273.7 214.3,274.0 215.2,274.0 216.0,274.0 216.9,274.1 217.8,274.1 218.7,274.1 219.5,274.2 220.4,274.3 221.3,274.5 222.2,274.3 223.0,274.5 223.9,274.6 224.8,274.5" fill="none" stroke="#3e3e3e" stroke-width="0.85"/>
<polyline points="49.6,254.3 50.5,252.5 51.4,251.0 52.2,248.9 53.1,247.2 54.0,245.4 54.9,243.6 55.7,241.7 56.6,239.5 57.5,237.2 58.4,235.3 59.2,233.5 60.1,231.1 61.0,228.7 61.9,226.9 62.7,224.7 63.6,222.6 64.5,220.0 65.4,217.6 66.2,215.6 67.1,213.7 68.0,211.2 68.9,209.7 69.7,207.2 70.6,205.2 71.5,202.7 72.4,200.8 73.3,199.6 74.1,198.1 75.0,196.7 75.9,195.5 76.8,194.2 77.6,192.7 78.5,192.3 79.4,191.4 80.3,190.0 81.1,189.3 82.0,189.4 82.9,189.3 83.8,189.3 84.6,189.6 85.5,188.9 86.4,189.1 87.3,189.6 88.1,190.4 89.0,190.8 89.9,191.4 90.8,191.3 91.6,192.5 92.5,193.4 93.4,194.0 94.3,195.1 95.2,196.5 96.0,198.5 96.9,199.1 97.8,200.3 98.7,201.9 99.5,203.4 100.4,205.2 101.3,206.9 102.2,208.8 103.0,210.0 103.9,211.4 104.8,213.1 105.7,214.6 106.5,216.3 107.4,218.1 108.3,220.2 109.2,221.8 110.0,223.3 110.9,225.1 111.8,226.7 112.7,228.7 113.5,230.7 114.4,232.1 115.3,234.0 116.2,235.6 117.1,237.3 117.9,238.9 118.8,240.5 119.7,242.1 120.6,243.9 121.4,244.8 122.3,246.2 123.2,247.9 124.1,249.2 124.9,250.5 125.8,251.6 126.7,253.0 127.6,253.7 128.4,254.4 129.3,255.4 130.2,256.2 131.1,257.0 131.9,258.0 132.8,258.5 133.7,259.5 134.6,260.2 135.4,260.8 136.3,261.1 137.2,261.7 138.1,262.3 139.0,262.9 139.8,263.3 140.7,263.7 141.6,264.0 142.5,264.3 143.3,264.7 144.2,265.1 145.1,265.6 146.0,265.7 146.8,266.1 147.7,266.5 148.6,266.6 149.5,266.8 150.3,267.1 151.2,267.5 152.1,267.9 153.0,268.0 153.8,268.3 154.7,268.4 155.6,268.7 156.5,268.9 157.3,269.0 158.2,269.2 159.1,269.3 160.0,269.5 160.9,269.8 161.7,270.0 162.6,270.0 163.5,269.9 164.4,270.1 165.2,270.3 166.1,270.5 167.0,270.5 167.9,270.5 168.7,270.6 169.6,270.7 170.5,270.7 171.4,270.9 172.2,271.0 173.1,271.1 174.0,271.2 174.9,271.1 175.7,271.4 176.6,271.2 177.5,271.2 178.4,271.2 179.2,271.2 180.1,271.3 181.0,271.6 181.9,271.6 182.8,271.6 183.6,271.7 184.5,271.9 185.4,271.8 186.3,271.8 187.1,271.9 188.0,272.0 188.9,272.1 189.8,272.2 190.6,272.2 191.5,272.2 192.4,272.4 193.3,272.5 194.1,272.3 195.0,272.4 195.9,272.5 196.8,272.5 197.6,272.7 198.5,272.8 199.4,273.0 200.3,273.1 201.1,273.0 202.0,272.9 202.9,273.0 203.8,273.1 204.7,273.1 205.5,273.1 206.4,273.1 207.3,273.4 208.2,273.4 209.0,273.6 209.9,273.5 210.8,273.6 211.7,273.6 212.5,273.5 213.4,273.4 214.3,273.5 215.2,273.6 216.0,273.7 216.9,273.8 217.8,273.8 218.7,273.7 219.5,273.9 220.4,274.0 221.3,274.0 222.2,274.0 223.0,274.0 223.9,274.2 224.8,274.2" fill="none" stroke="#3e3e3e" stroke-width="0.85"/>
<polyline points="49.6,254.1 50.5,252.7 51.4,251.0 52.2,249.3 53.1,247.3 54.0,245.5 54.9,243.8 55.7,241.9 56.6,240.0 57.5,238.1 58.4,236.0 59.2,233.6 60.1,231.7 61.0,229.9 61.9,227.8 62.7,225.2 63.6,222.5 64.5,220.9 65.4,218.8 66.2,216.8 67.1,215.0 68.0,212.6 68.9,210.6 69.7,208.6 70.6,206.1 71.5,204.7 72.4,202.8 73.3,201.2 74.1,200.0 75.0,198.9 75.9,197.0 76.8,195.8 77.6,194.9 78.5,194.5 79.4,193.3 80.3,192.5 81.1,191.4 82.0,190.9 82.9,190.7 83.8,190.8 84.6,191.0 85.5,191.4 86.4,191.5 87.3,191.7 88.1,192.0 89.0,192.3 89.9,193.0 90.8,194.1 91.6,194.6 92.5,195.1 93.4,196.6 94.3,197.6 95.2,198.6 96.0,199.8 96.9,201.0 97.8,202.5 98.7,203.9 99.5,204.9 100.4,206.1 101.3,208.3 102.2,210.6 103.0,211.8 103.9,213.5 104.8,215.1 105.7,217.0 106.5,218.3 107.4,219.9 108.3,221.7 109.2,223.1 110.0,224.3 110.9,225.9 111.8,227.7 112.7,229.8 113.5,231.4 114.4,233.2 115.3,234.7 116.2,236.3 117.1,238.0 117.9,239.6 118.8,241.3 119.7,242.6 120.6,243.8 121.4,245.5 122.3,246.8 123.2,248.4 124.1,249.4 124.9,250.5 125.8,251.9 126.7,252.7 127.6,253.8 128.4,255.1 129.3,256.1 130.2,256.7 131.1,257.5 131.9,258.1 132.8,259.1 133.7,259.7 134.6,260.2 135.4,260.9 136.3,261.4 137.2,262.0 138.1,262.5 139.0,262.9 139.8,263.1 140.7,263.9 141.6,264.2 142.5,264.5 143.3,265.1 144.2,265.4 145.1,265.5 146.0,265.8 146.8,266.6 147.7,266.8 148.6,267.2 149.5,267.3 150.3,267.6 151.2,267.8 152.1,268.1 153.0,268.2 153.8,268.4 154.7,268.7 155.6,268.8 156.5,268.9 157.3,269.1 158.2,269.1 159.1,269.5 160.0,269.5 160.9,269.7 161.7,269.6 162.6,269.8 163.5,270.0 164.4,270.2 165.2,270.0 166.1,270.1 167.0,270.3 167.9,270.4 168.7,270.5 169.6,270.4 170.5,270.4 171.4,270.7 172.2,270.7 173.1,270.6 174.0,270.7 174.9,270.7 175.7,270.8 176.6,270.8 177.5,270.9 178.4,271.0 179.2,271.0 180.1,271.0 181.0,271.1 181.9,271.2 182.8,271.3 183.6,271.3 184.5,271.2 185.4,271.6 186.3,271.6 187.1,271.4 188.0,271.4 188.9,271.6 189.8,271.5 190.6,271.7 191.5,271.9 192.4,271.7 193.3,271.9 194.1,272.0 195.0,272.2 195.9,272.3 196.8,272.4 197.6,272.3 198.5,272.5 199.4,272.3 200.3,272.4 201.1,272.5 202.0,272.6 202.9,272.5 203.8,272.4 204.7,272.6 205.5,272.5 206.4,272.5 207.3,272.5 208.2,272.7 209.0,273.0 209.9,272.9 210.8,273.0 211.7,273.1 212.5,273.3 213.4,273.3 214.3,273.3 215.2,273.4 216.0,273.4 216.9,273.3 217.8,273.4 218.7,273.5 219.5,273.4 220.4,273.7 221.3,273.8 222.2,273.8 223.0,273.9 223.9,274.1 224.8,274.0" fill="none" stroke="#606060" stroke-width="0.85"/>
<polyline points="49.6,254.0 50.5,252.7 51.4,250.8 52.2,249.2 53.1,247.4 54.0,246.1 54.9,244.3 55.7,242.1 56.6,240.0 57.5,238.0 58.4,236.3 59.2,234.4 60.1,232.7 61.0,230.4 61.9,228.6 62.7,226.5 63.6,225.0 64.5,223.1 65.4,220.3 66.2,218.4 67.1,216.4 68.0,215.1 68.9,213.0 69.7,210.5 70.6,209.3 71.5,208.2 72.4,206.3 73.3,204.8 74.1,203.2 75.0,202.2 75.9,201.1 76.8,200.1 77.6,198.5 78.5,197.6 79.4,196.5 80.3,196.3 81.1,195.5 82.0,195.3 82.9,195.0 83.8,194.5 84.6,194.5 85.5,194.8 86.4,195.5 87.3,195.5 88.1,195.5 89.0,196.2 89.9,196.7 90.8,197.9 91.6,198.8 92.5,199.2 93.4,199.5 94.3,200.7 95.2,202.3 96.0,203.3 96.9,204.8 97.8,205.8 98.7,206.3 99.5,207.7 100.4,209.2 101.3,210.4 102.2,212.1 103.0,213.6 103.9,215.1 104.8,216.6 105.7,218.6 106.5,219.9 107.4,221.3 108.3,223.6 109.2,225.7 110.0,227.1 110.9,228.1 111.8,229.7 112.7,231.1 113.5,232.7 114.4,234.2 115.3,236.0 116.2,237.7 117.1,239.0 117.9,240.4 118.8,241.8 119.7,243.3 120.6,244.8 121.4,246.0 122.3,247.3 123.2,248.4 124.1,250.2 124.9,251.0 125.8,252.5 126.7,253.4 127.6,254.4 128.4,255.2 129.3,256.2 130.2,257.0 131.1,257.7 131.9,258.4 132.8,259.2 133.7,260.2 134.6,260.8 135.4,261.1 136.3,261.8 137.2,262.2 138.1,262.7 139.0,263.2 139.8,263.5 140.7,263.7 141.6,264.3 142.5,264.7 143.3,265.0 144.2,265.6 145.1,266.0 146.0,266.1 146.8,266.3 147.7,266.7 148.6,267.1 149.5,267.2 150.3,267.6 151.2,267.8 152.1,268.0 153.0,268.5 153.8,268.4 154.7,268.5 155.6,268.5 156.5,268.9 157.3,269.1 158.2,269.3 159.1,269.5 160.0,269.2 160.9,269.5 161.7,269.6 162.6,269.6 163.5,269.7 164.4,269.6 165.2,269.9 166.1,269.8 167.0,269.9 167.9,270.1 168.7,270.1 169.6,270.3 170.5,270.1 171.4,270.2 172.2,270.2 173.1,270.1 174.0,270.3 174.9,270.4 175.7,270.4 176.6,270.5 177.5,270.4 178.4,270.4 179.2,270.5 180.1,270.6 181.0,270.5 181.9,270.7 182.8,270.5 183.6,270.7 184.5,270.7 185.4,270.9 186.3,270.7 187.1,270.7 188.0,270.7 188.9,270.8 189.8,270.9 190.6,270.9 191.5,271.0 192.4,271.1 193.3,271.2 194.1,271.2 195.0,271.3 195.9,271.4 196.8,271.7 197.6,271.5 198.5,271.7 199.4,272.0 200.3,272.0 201.1,271.8 202.0,271.7 202.9,271.9 203.8,272.0 204.7,272.1 205.5,272.3 206.4,272.3 207.3,272.3 208.2,272.2 209.0,272.5 209.9,272.7 210.8,272.8 211.7,272.7 212.5,272.7 213.4,272.7 214.3,272.8 215.2,272.9 216.0,273.0 216.9,273.0 217.8,273.0 218.7,273.0 219.5,273.0 220.4,273.2 221.3,273.5 222.2,273.6 223.0,273.3 223.9,273.5 224.8,273.5" fill="none" stroke="#3e3e3e" stroke-width="0.85"/>
<polyline points="49.6,254.7 50.5,253.2 51.4,251.2 52.2,250.0 53.1,248.6 54.0,247.1 54.9,245.4 55.7,243.6 56.6,242.1 57.5,240.0 58.4,238.0 59.2,236.2 60.1,234.5 61.0,232.7 61.9,231.2 62.7,229.0 63.6,227.3 64.5,225.5 65.4,223.2 66.2,221.7 67.1,219.9 68.0,217.8 68.9,215.6 69.7,214.4 70.6,212.5 71.5,211.4 72.4,209.8 73.3,208.3 74.1,207.5 75.0,205.9 75.9,204.3 76.8,203.6 77.6,202.7 78.5,202.4 79.4,201.1 80.3,200.7 81.1,200.8 82.0,200.1 82.9,200.3 83.8,200.2 84.6,200.7 85.5,199.9 86.4,199.3 87.3,200.0 88.1,200.6 89.0,201.2 89.9,201.8 90.8,202.1 91.6,202.3 92.5,203.5 93.4,204.2 94.3,205.7 95.2,206.0 96.0,207.1 96.9,208.4 97.8,209.0 98.7,210.3 99.5,211.2 100.4,212.4 101.3,213.5 102.2,215.4 103.0,216.8 103.9,218.2 104.8,219.7 105.7,220.8 106.5,222.6 107.4,223.8 108.3,225.1 109.2,227.2 110.0,228.9 110.9,230.4 111.8,231.8 112.7,233.1 113.5,234.6 114.4,236.0 115.3,237.5 116.2,238.9 117.1,240.2 117.9,241.4 118.8,243.0 119.7,244.3 120.6,245.7 121.4,247.0 122.3,248.4 123.2,249.3 124.1,250.3 124.9,251.4 125.8,252.6 126.7,253.6 127.6,254.7 128.4,255.7 129.3,256.2 130.2,256.6 131.1,257.7 131.9,258.7 132.8,259.2 133.7,259.8 134.6,260.7 135.4,261.5 136.3,261.8 137.2,262.5 138.1,262.7 139.0,263.2 139.8,263.6 140.7,264.0 141.6,264.5 142.5,264.9 143.3,265.2 144.2,265.4 145.1,265.8 146.0,266.1 146.8,266.5 147.7,266.8 148.6,267.1 149.5,267.3 150.3,267.3 151.2,267.4 152.1,267.7 153.0,267.8 153.8,267.9 154.7,268.2 155.6,268.5 156.5,268.7 157.3,268.8 158.2,268.9 159.1,269.2 160.0,269.4 160.9,269.1 161.7,269.2 162.6,269.2 163.5,269.3 164.4,269.5 165.2,269.4 166.1,269.4 167.0,269.5 167.9,269.5 168.7,269.4 169.6,269.6 170.5,269.6 171.4,269.7 172.2,269.6 173.1,269.7 174.0,269.5 174.9,269.7 175.7,269.5 176.6,269.6 177.5,269.7 178.4,269.8 179.2,269.7 180.1,269.8 181.0,269.6 181.9,269.5 182.8,269.6 183.6,269.9 184.5,269.9 185.4,270.0 186.3,270.2 187.1,270.1 188.0,269.9 188.9,270.1 189.8,270.1 190.6,270.0 191.5,270.3 192.4,270.4 193.3,270.4 194.1,270.4 195.0,270.6 195.9,270.6 196.8,270.7 197.6,270.6 198.5,270.9 199.4,271.0 200.3,271.0 201.1,271.1 202.0,271.0 202.9,271.2 203.8,270.9 204.7,271.2 205.5,271.2 206.4,271.2 207.3,271.3 208.2,271.5 209.0,271.6 209.9,271.7 210.8,271.7 211.7,271.8 212.5,271.8 213.4,271.9 214.3,272.1 215.2,272.2 216.0,272.1 216.9,272.3 217.8,272.5 218.7,272.3 219.5,272.5 220.4,272.7 221.3,272.6 222.2,272.8 223.0,272.9 223.9,272.8 224.8,273.0" fill="none" stroke="#aaa" stroke-width="0.85"/>
<polyline points="49.6,256.0 50.5,254.9 51.4,253.2 52.2,252.1 53.1,250.8 54.0,249.6 54.9,248.1 55.7,246.7 56.6,245.1 57.5,243.3 58.4,242.0 59.2,240.4 60.1,239.1 61.0,236.9 61.9,235.2 62.7,233.5 63.6,231.9 64.5,230.0 65.4,228.4 66.2,226.7 67.1,225.3 68.0,223.8 68.9,222.3 69.7,221.4 70.6,219.5 71.5,218.6 72.4,217.4 73.3,215.8 74.1,214.6 75.0,213.3 75.9,212.0 76.8,210.8 77.6,210.0 78.5,209.8 79.4,208.8 80.3,208.9 81.1,208.6 82.0,208.1 82.9,208.1 83.8,208.0 84.6,208.1 85.5,207.7 86.4,208.7 87.3,208.3 88.1,208.3 89.0,208.9 89.9,209.2 90.8,210.1 91.6,210.3 92.5,210.2 93.4,211.6 94.3,212.0 95.2,213.1 96.0,214.2 96.9,215.2 97.8,216.2 98.7,217.4 99.5,218.6 100.4,219.0 101.3,220.1 102.2,221.2 103.0,222.3 103.9,223.4 104.8,225.1 105.7,226.4 106.5,227.4 107.4,228.4 108.3,230.0 109.2,231.3 110.0,232.7 110.9,233.7 111.8,234.9 112.7,236.2 113.5,237.6 114.4,238.8 115.3,240.0 116.2,241.4 117.1,242.5 117.9,243.9 118.8,244.8 119.7,245.9 120.6,247.3 121.4,248.3 122.3,249.4 123.2,250.6 124.1,251.7 124.9,252.9 125.8,253.9 126.7,254.6 127.6,255.2 128.4,256.2 129.3,256.9 130.2,257.6 131.1,258.3 131.9,258.9 132.8,259.5 133.7,260.1 134.6,260.9 135.4,261.4 136.3,262.3 137.2,262.7 138.1,263.1 139.0,263.4 139.8,263.9 140.7,264.2 141.6,264.4 142.5,265.0 143.3,265.4 144.2,265.7 145.1,265.9 146.0,266.2 146.8,266.4 147.7,266.9 148.6,267.0 149.5,267.1 150.3,267.2 151.2,267.5 152.1,267.8 153.0,267.9 153.8,268.1 154.7,268.4 155.6,268.5 156.5,268.6 157.3,268.7 158.2,268.8 159.1,268.8 160.0,268.9 160.9,268.9 161.7,268.9 162.6,268.9 163.5,268.8 164.4,268.8 165.2,268.8 166.1,269.0 167.0,269.2 167.9,269.1 168.7,268.9 169.6,268.9 170.5,268.9 171.4,268.9 172.2,268.7 173.1,268.7 174.0,268.6 174.9,268.4 175.7,268.4 176.6,268.2 177.5,268.3 178.4,268.2 179.2,268.2 180.1,268.4 181.0,268.3 181.9,268.4 182.8,268.5 183.6,268.4 184.5,268.5 185.4,268.3 186.3,268.5 187.1,268.6 188.0,268.6 188.9,268.7 189.8,268.7 190.6,268.8 191.5,269.0 192.4,269.2 193.3,269.3 194.1,269.0 195.0,269.0 195.9,269.1 196.8,269.2 197.6,269.3 198.5,269.3 199.4,269.6 200.3,269.7 201.1,269.8 202.0,269.6 202.9,269.8 203.8,269.7 204.7,269.9 205.5,269.7 206.4,269.9 207.3,270.0 208.2,270.0 209.0,270.1 209.9,270.2 210.8,270.5 211.7,270.4 212.5,270.4 213.4,270.6 214.3,270.8 215.2,271.0 216.0,271.0 216.9,271.0 217.8,271.2 218.7,271.4 219.5,271.3 220.4,271.3 221.3,271.5 222.2,271.5 223.0,271.7 223.9,271.8 224.8,272.0" fill="none" stroke="#3e3e3e" stroke-width="0.85"/>
<polyline points="49.6,258.1 50.5,257.1 51.4,255.8 52.2,254.8 53.1,253.5 54.0,252.1 54.9,251.1 55.7,249.7 56.6,248.5 57.5,246.9 58.4,245.7 59.2,244.3 60.1,242.9 61.0,241.2 61.9,240.0 62.7,238.5 63.6,237.1 64.5,235.8 65.4,234.5 66.2,233.0 67.1,231.5 68.0,230.5 68.9,229.0 69.7,228.0 70.6,226.6 71.5,224.8 72.4,224.2 73.3,223.2 74.1,222.3 75.0,221.1 75.9,220.5 76.8,220.2 77.6,219.8 78.5,218.8 79.4,218.1 80.3,217.4 81.1,217.3 82.0,216.8 82.9,217.0 83.8,216.5 84.6,216.5 85.5,216.8 86.4,216.8 87.3,216.5 88.1,217.2 89.0,217.8 89.9,218.3 90.8,218.8 91.6,219.0 92.5,219.2 93.4,219.8 94.3,220.3 95.2,220.6 96.0,221.5 96.9,222.6 97.8,223.8 98.7,224.2 99.5,225.0 100.4,225.8 101.3,226.4 102.2,227.2 103.0,228.5 103.9,229.6 104.8,230.4 105.7,231.3 106.5,232.0 107.4,233.2 108.3,234.7 109.2,235.3 110.0,236.7 110.9,237.8 111.8,238.6 112.7,239.8 113.5,240.3 114.4,241.4 115.3,242.5 116.2,243.7 117.1,244.4 117.9,245.5 118.8,246.8 119.7,247.6 120.6,249.0 121.4,250.0 122.3,250.8 123.2,251.7 124.1,252.8 124.9,253.3 125.8,254.0 126.7,255.1 127.6,255.9 128.4,256.7 129.3,257.5 130.2,258.0 131.1,258.7 131.9,259.4 132.8,260.0 133.7,260.8 134.6,261.1 135.4,261.7 136.3,262.1 137.2,262.7 138.1,263.2 139.0,263.4 139.8,263.9 140.7,264.4 141.6,264.8 142.5,265.1 143.3,265.2 144.2,265.5 145.1,266.0 146.0,266.4 146.8,266.7 147.7,266.9 148.6,267.0 149.5,267.3 150.3,267.3 151.2,267.6 152.1,267.8 153.0,267.9 153.8,267.9 154.7,268.1 155.6,268.1 156.5,268.3 157.3,268.2 158.2,268.0 159.1,268.0 160.0,268.1 160.9,268.0 161.7,268.2 162.6,268.1 163.5,268.2 164.4,268.2 165.2,268.1 166.1,268.3 167.0,268.2 167.9,267.9 168.7,268.2 169.6,268.0 170.5,267.8 171.4,267.7 172.2,267.6 173.1,267.4 174.0,267.3 174.9,267.5 175.7,267.5 176.6,267.4 177.5,267.2 178.4,267.2 179.2,267.1 180.1,266.8 181.0,267.2 181.9,266.9 182.8,266.8 183.6,266.8 184.5,266.8 185.4,266.9 186.3,266.9 187.1,266.9 188.0,267.1 188.9,267.0 189.8,267.2 190.6,267.2 191.5,267.3 192.4,267.5 193.3,267.4 194.1,267.5 195.0,267.7 195.9,267.7 196.8,267.9 197.6,267.7 198.5,267.8 199.4,267.6 200.3,267.9 201.1,268.0 202.0,268.2 202.9,268.4 203.8,268.4 204.7,268.4 205.5,268.4 206.4,268.6 207.3,268.6 208.2,268.6 209.0,268.9 209.9,269.0 210.8,269.2 211.7,269.1 212.5,269.3 213.4,269.4 214.3,269.4 215.2,269.6 216.0,269.8 216.9,269.9 217.8,270.1 218.7,270.3 219.5,270.4 220.4,270.4 221.3,270.5 222.2,270.4 223.0,270.8 223.9,270.8 224.8,271.0" fill="none" stroke="#c8c8c8" stroke-width="0.85"/>
<polyline points="49.6,259.8 50.5,258.8 51.4,257.8 52.2,256.6 53.1,255.7 54.0,254.7 54.9,253.7 55.7,252.6 56.6,251.3 57.5,249.9 58.4,248.5 59.2,247.4 60.1,246.4 61.0,245.2 61.9,243.9 62.7,242.7 63.6,241.5 64.5,240.4 65.4,239.0 66.2,237.9 67.1,236.7 68.0,235.7 68.9,234.4 69.7,233.2 70.6,232.0 71.5,231.2 72.4,230.5 73.3,229.8 74.1,229.0 75.0,228.2 75.9,227.4 76.8,227.0 77.6,226.0 78.5,225.8 79.4,225.3 80.3,225.0 81.1,224.3 82.0,223.6 82.9,223.7 83.8,223.8 84.6,223.8 85.5,223.9 86.4,224.0 87.3,223.4 88.1,224.1 89.0,224.4 89.9,224.8 90.8,225.0 91.6,225.4 92.5,225.6 93.4,226.3 94.3,226.2 95.2,226.8 96.0,227.9 96.9,228.1 97.8,228.8 98.7,229.7 99.5,230.1 100.4,230.8 101.3,231.3 102.2,232.2 103.0,232.7 103.9,233.5 104.8,234.2 105.7,235.1 106.5,236.0 107.4,236.9 108.3,237.6 109.2,238.3 110.0,239.3 110.9,239.8 111.8,240.5 112.7,241.9 113.5,242.6 114.4,243.6 115.3,244.5 116.2,245.5 117.1,246.1 117.9,247.2 118.8,248.1 119.7,249.1 120.6,249.5 121.4,250.3 122.3,251.5 123.2,252.3 124.1,253.0 124.9,253.9 125.8,254.6 126.7,255.5 127.6,256.1 128.4,256.9 129.3,257.4 130.2,257.7 131.1,258.5 131.9,258.9 132.8,259.6 133.7,260.4 134.6,260.9 135.4,261.6 136.3,262.0 137.2,262.3 138.1,262.7 139.0,263.2 139.8,263.8 140.7,264.1 141.6,264.3 142.5,264.7 143.3,265.1 144.2,265.7 145.1,265.9 146.0,266.0 146.8,266.4 147.7,266.4 148.6,266.7 149.5,267.0 150.3,267.2 151.2,267.3 152.1,267.3 153.0,267.5 153.8,267.8 154.7,267.8 155.6,267.8 156.5,267.7 157.3,267.9 158.2,267.8 159.1,267.8 160.0,267.8 160.9,267.9 161.7,268.0 162.6,268.0 163.5,267.8 164.4,267.7 165.2,267.5 166.1,267.3 167.0,267.3 167.9,267.3 168.7,267.0 169.6,267.1 170.5,267.1 171.4,267.0 172.2,266.9 173.1,266.7 174.0,266.6 174.9,266.3 175.7,266.4 176.6,266.4 177.5,266.4 178.4,266.3 179.2,266.0 180.1,265.9 181.0,265.8 181.9,265.7 182.8,265.6 183.6,265.7 184.5,265.7 185.4,265.6 186.3,265.4 187.1,265.6 188.0,265.7 188.9,265.7 189.8,265.7 190.6,265.8 191.5,265.8 192.4,266.1 193.3,266.2 194.1,266.5 195.0,266.4 195.9,266.2 196.8,266.3 197.6,266.5 198.5,266.5 199.4,266.7 200.3,266.9 201.1,267.0 202.0,267.1 202.9,267.1 203.8,267.3 204.7,267.4 205.5,267.5 206.4,267.7 207.3,267.8 208.2,267.9 209.0,267.8 209.9,267.8 210.8,267.9 211.7,268.1 212.5,268.3 213.4,268.6 214.3,268.7 215.2,268.6 216.0,268.6 216.9,268.8 217.8,269.0 218.7,269.1 219.5,269.2 220.4,269.4 221.3,269.5 222.2,269.7 223.0,269.8 223.9,270.0 224.8,270.0" fill="none" stroke="#dcdcdc" stroke-width="0.85"/>
<polyline points="49.6,263.8 50.5,262.9 51.4,262.1 52.2,261.4 53.1,260.6 54.0,259.7 54.9,258.9 55.7,258.0 56.6,257.2 57.5,256.5 58.4,255.4 59.2,254.5 60.1,253.3 61.0,252.4 61.9,251.9 62.7,250.7 63.6,249.9 64.5,248.9 65.4,247.6 66.2,246.8 67.1,246.3 68.0,245.5 68.9,244.9 69.7,243.9 70.6,243.0 71.5,242.5 72.4,241.7 73.3,240.9 74.1,240.2 75.0,239.9 75.9,239.5 76.8,239.2 77.6,238.9 78.5,238.3 79.4,237.9 80.3,237.3 81.1,237.2 82.0,237.1 82.9,237.3 83.8,236.8 84.6,236.8 85.5,236.9 86.4,237.2 87.3,237.4 88.1,237.3 89.0,237.6 89.9,237.5 90.8,237.6 91.6,238.0 92.5,238.5 93.4,238.6 94.3,238.6 95.2,239.1 96.0,239.7 96.9,239.7 97.8,240.1 98.7,240.7 99.5,240.8 100.4,241.4 101.3,241.8 102.2,242.4 103.0,243.0 103.9,243.4 104.8,244.0 105.7,244.8 106.5,245.3 107.4,245.4 108.3,245.8 109.2,246.1 110.0,246.7 110.9,247.2 111.8,248.0 112.7,248.8 113.5,249.4 114.4,250.2 115.3,250.7 116.2,251.4 117.1,251.9 117.9,252.7 118.8,253.3 119.7,253.7 120.6,254.3 121.4,255.1 122.3,255.6 123.2,256.0 124.1,256.7 124.9,257.4 125.8,258.1 126.7,258.7 127.6,259.0 128.4,259.5 129.3,259.9 130.2,260.3 131.1,260.8 131.9,261.3 132.8,261.9 133.7,262.5 134.6,262.8 135.4,263.2 136.3,263.5 137.2,264.0 138.1,264.4 139.0,264.4 139.8,265.0 140.7,265.3 141.6,265.4 142.5,265.8 143.3,266.1 144.2,266.6 145.1,266.6 146.0,266.9 146.8,266.9 147.7,267.1 148.6,267.3 149.5,267.4 150.3,267.6 151.2,267.7 152.1,267.6 153.0,267.6 153.8,267.7 154.7,267.7 155.6,267.7 156.5,267.7 157.3,267.7 158.2,267.7 159.1,267.6 160.0,267.5 160.9,267.4 161.7,267.4 162.6,267.3 163.5,267.1 164.4,267.0 165.2,266.8 166.1,266.6 167.0,266.4 167.9,266.3 168.7,266.1 169.6,265.9 170.5,265.6 171.4,265.5 172.2,265.5 173.1,265.3 174.0,265.0 174.9,264.7 175.7,264.6 176.6,264.5 177.5,264.3 178.4,264.2 179.2,264.0 180.1,263.8 181.0,263.8 181.9,263.6 182.8,263.6 183.6,263.5 184.5,263.4 185.4,263.2 186.3,263.0 187.1,263.1 188.0,263.3 188.9,263.4 189.8,263.3 190.6,263.4 191.5,263.7 192.4,263.7 193.3,263.8 194.1,263.8 195.0,263.8 195.9,264.0 196.8,263.8 197.6,264.0 198.5,263.8 199.4,264.1 200.3,264.3 201.1,264.2 202.0,264.5 202.9,264.7 203.8,264.7 204.7,264.9 205.5,265.0 206.4,265.3 207.3,265.2 208.2,265.2 209.0,265.4 209.9,265.5 210.8,265.8 211.7,266.0 212.5,266.3 213.4,266.4 214.3,266.3 215.2,266.4 216.0,266.5 216.9,266.7 217.8,267.1 218.7,267.4 219.5,267.4 220.4,267.5 221.3,267.6 222.2,267.8 223.0,268.1 223.9,268.2 224.8,268.4" fill="none" stroke="#3e3e3e" stroke-width="0.85"/>
<polyline points="49.6,265.9 50.5,265.2 51.4,264.6 52.2,264.0 53.1,263.3 54.0,262.4 54.9,261.4 55.7,260.6 56.6,260.1 57.5,259.3 58.4,258.7 59.2,258.0 60.1,257.4 61.0,256.6 61.9,256.1 62.7,255.0 63.6,254.4 64.5,253.6 65.4,253.0 66.2,252.2 67.1,251.7 68.0,251.0 68.9,250.2 69.7,249.5 70.6,249.2 71.5,248.4 72.4,248.1 73.3,247.4 74.1,246.8 75.0,246.5 75.9,246.1 76.8,245.7 77.6,245.3 78.5,244.8 79.4,244.4 80.3,244.3 81.1,243.9 82.0,244.1 82.9,243.8 83.8,243.9 84.6,243.8 85.5,244.0 86.4,244.0 87.3,244.3 88.1,244.2 89.0,244.0 89.9,244.2 90.8,244.5 91.6,244.7 92.5,244.7 93.4,245.0 94.3,245.3 95.2,245.5 96.0,245.5 96.9,245.7 97.8,246.3 98.7,246.7 99.5,246.9 100.4,247.0 101.3,247.2 102.2,247.7 103.0,247.7 103.9,248.3 104.8,248.5 105.7,248.8 106.5,249.1 107.4,249.7 108.3,250.1 109.2,250.9 110.0,251.5 110.9,251.9 111.8,252.1 112.7,252.3 113.5,252.8 114.4,253.1 115.3,253.6 116.2,253.9 117.1,254.7 117.9,255.3 118.8,255.8 119.7,256.3 120.6,256.4 121.4,257.0 122.3,257.5 123.2,257.9 124.1,258.2 124.9,258.7 125.8,259.1 126.7,259.5 127.6,260.0 128.4,260.7 129.3,261.1 130.2,261.6 131.1,261.6 131.9,262.1 132.8,262.6 133.7,262.9 134.6,263.2 135.4,263.7 136.3,263.8 137.2,264.1 138.1,264.4 139.0,264.9 139.8,265.3 140.7,265.7 141.6,265.8 142.5,266.0 143.3,266.3 144.2,266.5 145.1,266.3 146.0,266.7 146.8,267.1 147.7,267.1 148.6,267.3 149.5,267.5 150.3,267.4 151.2,267.5 152.1,267.5 153.0,267.5 153.8,267.5 154.7,267.5 155.6,267.8 156.5,267.5 157.3,267.7 158.2,267.4 159.1,267.3 160.0,267.4 160.9,267.2 161.7,266.9 162.6,266.9 163.5,266.7 164.4,266.5 165.2,266.4 166.1,266.2 167.0,265.8 167.9,265.5 168.7,265.3 169.6,265.1 170.5,264.9 171.4,264.6 172.2,264.4 173.1,264.4 174.0,263.9 174.9,263.8 175.7,263.9 176.6,263.4 177.5,263.3 178.4,263.1 179.2,262.8 180.1,262.7 181.0,262.5 181.9,262.4 182.8,262.3 183.6,262.3 184.5,262.2 185.4,262.3 186.3,262.2 187.1,261.9 188.0,261.9 188.9,262.0 189.8,262.3 190.6,262.2 191.5,262.1 192.4,262.0 193.3,262.5 194.1,262.5 195.0,262.6 195.9,262.5 196.8,262.8 197.6,262.9 198.5,262.7 199.4,262.8 200.3,263.2 201.1,263.3 202.0,263.2 202.9,263.5 203.8,263.5 204.7,263.6 205.5,264.0 206.4,264.1 207.3,264.0 208.2,264.1 209.0,264.4 209.9,264.4 210.8,264.7 211.7,264.8 212.5,265.0 213.4,265.3 214.3,265.3 215.2,265.5 216.0,266.0 216.9,266.1 217.8,266.2 218.7,266.4 219.5,266.6 220.4,266.7 221.3,267.1 222.2,267.0 223.0,267.1 223.9,267.2 224.8,267.4" fill="none" stroke="#3e3e3e" stroke-width="0.85"/>
<rect x="49.6" y="167.3" width="175.2" height="109.2" fill="none" stroke="#505050" stroke-width="0.85"/>
<path d="M67.1 167.3v1.5M67.1 276.5v-1.5M84.6 167.3v1.5M84.6 276.5v-1.5M102.2 167.3v1.5M102.2 276.5v-1.5M119.7 167.3v1.5M119.7 276.5v-1.5M137.2 167.3v2.0M137.2 276.5v-2.0M154.7 167.3v1.5M154.7 276.5v-1.5M172.2 167.3v1.5M172.2 276.5v-1.5M189.8 167.3v1.5M189.8 276.5v-1.5M207.3 167.3v1.5M207.3 276.5v-1.5M49.6 178.2h1.5M224.8 178.2h-1.5M49.6 189.1h1.5M224.8 189.1h-1.5M49.6 200.1h1.5M224.8 200.1h-1.5M49.6 211.0h1.5M224.8 211.0h-1.5M49.6 221.9h2.0M224.8 221.9h-2.0M49.6 232.8h1.5M224.8 232.8h-1.5M49.6 243.7h1.5M224.8 243.7h-1.5M49.6 254.7h1.5M224.8 254.7h-1.5M49.6 265.6h1.5M224.8 265.6h-1.5" stroke="#444" stroke-width="0.7" fill="none"/>
<text class="n" transform="translate(25.0 169.2) scale(0.86 1)" x="2.03 6.10 10.17 14.24 18.31 22.38 26.45" y="0" text-anchor="middle">900,000</text>
<text class="n" transform="translate(25.0 224.5) scale(0.86 1)" x="2.03 6.10 10.17 14.24 18.31 22.38 26.45" y="0" text-anchor="middle">450,000</text>
<text class="n" transform="translate(32.0 278.7) scale(0.86 1)" x="2.03 6.10 10.17 14.24 18.31" y="0" text-anchor="middle">0,000</text>
<text class="n" transform="translate(41.1 287.5) scale(0.86 1)" x="2.03 6.10 10.17 14.24 18.31" y="0" text-anchor="middle">300,0</text>
<text class="n" transform="translate(128.2 287.5) scale(0.86 1)" x="2.03 6.10 10.17 14.24 18.31" y="0" text-anchor="middle">400,0</text>
<text class="n" transform="translate(215.8 287.5) scale(0.86 1)" x="2.03 6.10 10.17 14.24 18.31" y="0" text-anchor="middle">500,0</text>
<text class="m" x="109.8" y="294.5" textLength="52.5" lengthAdjust="spacingAndGlyphs">Wavelength (nm)</text>
<g transform="translate(12.6 219.7) rotate(-90)"><text class="m" x="-15.8" y="0.0" textLength="31.5" lengthAdjust="spacingAndGlyphs">Intensity</text></g>
<text class="s" x="185.9" y="190.3" text-anchor="middle" font-size="8">1</text>
<path d="M185.9 193.0V206.3" stroke="#111" stroke-width="1.4"/>
<path d="M185.9 209.3l-2.3 -4.8h4.6z" fill="#111"/>
<text class="s" x="186.2" y="217.7" text-anchor="middle" font-size="8">10</text>
</g>
<g>
<polyline points="339.4,259.6 340.3,258.1 341.2,256.7 342.1,255.2 343.0,253.3 344.0,251.2 344.9,249.3 345.8,247.1 346.7,245.4 347.6,243.3 348.5,241.2 349.4,238.7 350.3,236.1 351.2,234.1 352.2,231.6 353.1,229.4 354.0,227.3 354.9,224.8 355.8,222.6 356.7,219.6 357.6,217.2 358.5,214.7 359.4,212.5 360.4,211.0 361.3,208.4 362.2,206.3 363.1,205.0 364.0,202.7 364.9,200.5 365.8,198.3 366.7,197.4 367.6,195.7 368.6,194.4 369.5,193.5 370.4,192.6 371.3,191.6 372.2,190.9 373.1,190.3 374.0,190.2 374.9,190.5 375.8,189.8 376.8,189.5 377.7,190.2 378.6,190.6 379.5,190.8 380.4,192.1 381.3,192.5 382.2,192.4 383.1,193.6 384.0,195.1 384.9,195.5 385.9,197.0 386.8,198.4 387.7,200.0 388.6,201.4 389.5,203.4 390.4,205.1 391.3,206.8 392.2,207.8 393.1,209.5 394.1,210.8 395.0,213.2 395.9,215.0 396.8,216.2 397.7,218.3 398.6,220.5 399.5,222.3 400.4,224.0 401.3,225.7 402.3,227.2 403.2,228.8 404.1,230.4 405.0,232.3 405.9,234.4 406.8,236.3 407.7,238.3 408.6,239.6 409.5,241.1 410.5,242.8 411.4,244.7 412.3,246.1 413.2,247.5 414.1,249.0 415.0,250.6 415.9,251.9 416.8,253.3 417.7,254.3 418.7,255.5 419.6,256.6 420.5,257.8 421.4,258.6 422.3,259.6 423.2,260.5 424.1,261.4 425.0,262.3 425.9,263.1 426.9,264.1 427.8,265.0 428.7,265.7 429.6,266.2 430.5,266.6 431.4,267.2 432.3,267.8 433.2,268.1 434.1,268.7 435.1,269.4 436.0,270.0 436.9,270.3 437.8,270.6 438.7,270.8 439.6,271.2 440.5,271.5 441.4,271.9 442.3,272.3 443.3,272.6 444.2,272.7 445.1,272.9 446.0,273.3 446.9,273.6 447.8,273.8 448.7,273.7 449.6,274.1 450.5,274.4 451.5,274.5 452.4,274.6 453.3,274.8 454.2,274.9 455.1,275.0 456.0,275.3 456.9,275.4 457.8,275.4 458.7,275.4 459.7,275.5 460.6,275.6 461.5,275.9 462.4,275.8 463.3,275.9 464.2,276.1 465.1,276.0 466.0,276.1 466.9,276.2 467.9,276.5 468.8,276.5 469.7,276.6 470.6,276.7 471.5,276.7 472.4,276.8 473.3,276.7 474.2,276.6 475.1,276.8 476.1,276.7 477.0,276.8 477.9,276.8 478.8,276.9 479.7,276.8 480.6,276.9 481.5,276.9 482.4,277.0 483.3,277.0 484.2,277.0 485.2,277.0 486.1,277.2 487.0,277.3 487.9,277.1 488.8,277.1 489.7,277.0 490.6,277.2 491.5,277.2 492.4,277.1 493.4,277.0 494.3,277.1 495.2,277.2 496.1,277.2 497.0,277.2 497.9,277.3 498.8,277.2 499.7,277.4 500.6,277.5 501.6,277.3 502.5,277.3 503.4,277.4 504.3,277.3 505.2,277.2 506.1,277.2 507.0,277.4 507.9,277.4 508.8,277.3 509.8,277.3 510.7,277.4 511.6,277.3 512.5,277.2 513.4,277.1 514.3,277.3 515.2,277.4 516.1,277.5 517.0,277.4 518.0,277.4 518.9,277.3 519.8,277.6 520.7,277.4 521.6,277.5" fill="none" stroke="#3e3e3e" stroke-width="0.85"/>
<polyline points="339.4,260.0 340.3,258.5 341.2,257.0 342.1,255.6 343.0,253.7 344.0,252.0 344.9,250.4 345.8,248.5 346.7,246.8 347.6,245.0 348.5,242.9 349.4,240.7 350.3,238.5 351.2,236.5 352.2,234.6 353.1,232.6 354.0,229.7 354.9,227.5 355.8,225.5 356.7,222.9 357.6,220.7 358.5,218.8 359.4,216.9 360.4,214.5 361.3,212.5 362.2,210.2 363.1,208.6 364.0,207.2 364.9,205.8 365.8,204.4 366.7,202.8 367.6,201.4 368.6,200.1 369.5,199.1 370.4,198.6 371.3,197.9 372.2,197.5 373.1,196.7 374.0,196.8 374.9,196.6 375.8,196.6 376.8,196.7 377.7,196.8 378.6,196.4 379.5,197.1 380.4,198.1 381.3,198.7 382.2,199.1 383.1,199.8 384.0,200.7 384.9,201.3 385.9,202.3 386.8,203.8 387.7,204.9 388.6,206.9 389.5,208.3 390.4,209.9 391.3,211.2 392.2,212.2 393.1,214.1 394.1,215.3 395.0,217.4 395.9,218.7 396.8,220.9 397.7,222.7 398.6,224.0 399.5,225.8 400.4,227.5 401.3,229.2 402.3,230.9 403.2,232.6 404.1,234.5 405.0,236.2 405.9,237.7 406.8,239.5 407.7,240.9 408.6,242.1 409.5,244.1 410.5,245.7 411.4,247.1 412.3,248.5 413.2,249.8 414.1,251.3 415.0,252.5 415.9,253.7 416.8,254.9 417.7,255.9 418.7,257.1 419.6,258.4 420.5,259.6 421.4,260.3 422.3,261.2 423.2,262.1 424.1,263.1 425.0,263.8 425.9,264.5 426.9,265.2 427.8,265.8 428.7,266.3 429.6,266.8 430.5,267.4 431.4,268.0 432.3,268.7 433.2,269.0 434.1,269.3 435.1,269.7 436.0,270.0 436.9,270.5 437.8,270.9 438.7,271.3 439.6,271.6 440.5,272.0 441.4,272.1 442.3,272.4 443.3,272.8 444.2,273.1 445.1,273.5 446.0,273.7 446.9,273.9 447.8,273.8 448.7,274.2 449.6,274.3 450.5,274.5 451.5,274.7 452.4,274.8 453.3,275.1 454.2,275.1 455.1,275.0 456.0,275.2 456.9,275.4 457.8,275.5 458.7,275.6 459.7,275.8 460.6,275.8 461.5,275.9 462.4,276.0 463.3,276.1 464.2,276.1 465.1,276.1 466.0,276.3 466.9,276.4 467.9,276.5 468.8,276.4 469.7,276.5 470.6,276.7 471.5,276.8 472.4,276.6 473.3,276.6 474.2,276.8 475.1,276.9 476.1,276.9 477.0,276.8 477.9,276.7 478.8,276.8 479.7,276.9 480.6,276.8 481.5,277.0 482.4,276.9 483.3,276.9 484.2,277.0 485.2,276.9 486.1,277.0 487.0,277.1 487.9,277.3 488.8,277.2 489.7,277.2 490.6,277.1 491.5,277.4 492.4,277.2 493.4,277.2 494.3,277.1 495.2,277.1 496.1,277.2 497.0,277.2 497.9,277.2 498.8,277.3 499.7,277.3 500.6,277.3 501.6,277.4 502.5,277.5 503.4,277.5 504.3,277.4 505.2,277.3 506.1,277.3 507.0,277.5 507.9,277.3 508.8,277.4 509.8,277.6 510.7,277.3 511.6,277.5 512.5,277.2 513.4,277.3 514.3,277.4 515.2,277.6 516.1,277.6 517.0,277.4 518.0,277.3 518.9,277.3 519.8,277.5 520.7,277.5 521.6,277.5" fill="none" stroke="#3e3e3e" stroke-width="0.85"/>
<polyline points="339.4,260.6 340.3,259.3 341.2,257.8 342.1,256.6 343.0,255.1 344.0,253.2 344.9,251.9 345.8,249.9 346.7,247.8 347.6,246.1 348.5,244.6 349.4,242.5 350.3,241.0 351.2,238.9 352.2,237.0 353.1,234.6 354.0,232.5 354.9,230.6 355.8,228.3 356.7,226.3 357.6,224.7 358.5,223.1 359.4,220.5 360.4,219.0 361.3,217.2 362.2,215.6 363.1,214.2 364.0,213.0 364.9,211.4 365.8,209.9 366.7,208.3 367.6,207.4 368.6,206.9 369.5,206.1 370.4,205.0 371.3,204.2 372.2,203.4 373.1,203.2 374.0,202.7 374.9,202.6 375.8,202.1 376.8,202.5 377.7,202.8 378.6,203.0 379.5,203.2 380.4,204.2 381.3,205.0 382.2,205.7 383.1,207.0 384.0,207.2 384.9,207.9 385.9,209.0 386.8,209.2 387.7,210.5 388.6,211.6 389.5,212.9 390.4,214.4 391.3,216.5 392.2,217.5 393.1,219.1 394.1,221.0 395.0,222.4 395.9,223.8 396.8,225.1 397.7,226.8 398.6,228.6 399.5,230.0 400.4,231.8 401.3,233.3 402.3,234.7 403.2,236.6 404.1,238.0 405.0,239.9 405.9,241.4 406.8,243.0 407.7,244.2 408.6,245.4 409.5,246.9 410.5,248.1 411.4,249.5 412.3,250.9 413.2,252.1 414.1,253.4 415.0,254.6 415.9,255.6 416.8,256.8 417.7,257.8 418.7,259.0 419.6,260.0 420.5,261.1 421.4,261.9 422.3,262.5 423.2,263.3 424.1,263.9 425.0,264.9 425.9,265.7 426.9,266.2 427.8,266.7 428.7,267.2 429.6,268.0 430.5,268.4 431.4,268.9 432.3,269.3 433.2,269.7 434.1,270.2 435.1,270.7 436.0,271.2 436.9,271.6 437.8,271.9 438.7,272.1 439.6,272.2 440.5,272.6 441.4,272.9 442.3,273.2 443.3,273.6 444.2,273.7 445.1,273.9 446.0,274.0 446.9,274.3 447.8,274.3 448.7,274.6 449.6,274.7 450.5,274.9 451.5,274.9 452.4,275.1 453.3,275.2 454.2,275.3 455.1,275.4 456.0,275.4 456.9,275.5 457.8,275.8 458.7,275.8 459.7,276.0 460.6,276.1 461.5,276.1 462.4,276.2 463.3,276.1 464.2,276.4 465.1,276.4 466.0,276.3 466.9,276.4 467.9,276.5 468.8,276.4 469.7,276.6 470.6,276.7 471.5,276.6 472.4,276.8 473.3,276.9 474.2,277.0 475.1,276.9 476.1,276.9 477.0,276.8 477.9,276.7 478.8,277.0 479.7,276.9 480.6,276.9 481.5,276.8 482.4,277.0 483.3,277.1 484.2,277.1 485.2,277.0 486.1,277.0 487.0,276.9 487.9,277.0 488.8,277.1 489.7,277.3 490.6,277.1 491.5,277.3 492.4,277.3 493.4,277.3 494.3,277.4 495.2,277.4 496.1,277.3 497.0,277.1 497.9,277.2 498.8,277.3 499.7,277.3 500.6,277.2 501.6,277.4 502.5,277.4 503.4,277.5 504.3,277.4 505.2,277.3 506.1,277.2 507.0,277.4 507.9,277.2 508.8,277.2 509.8,277.3 510.7,277.4 511.6,277.4 512.5,277.5 513.4,277.4 514.3,277.4 515.2,277.5 516.1,277.4 517.0,277.4 518.0,277.5 518.9,277.5 519.8,277.5 520.7,277.3 521.6,277.3" fill="none" stroke="#606060" stroke-width="0.85"/>
<polyline points="339.4,261.7 340.3,260.5 341.2,259.0 342.1,257.7 343.0,256.1 344.0,254.7 344.9,253.2 345.8,252.2 346.7,250.3 347.6,248.7 348.5,246.9 349.4,245.2 350.3,243.4 351.2,241.9 352.2,239.9 353.1,238.2 354.0,236.7 354.9,235.1 355.8,233.1 356.7,231.2 357.6,230.0 358.5,228.5 359.4,226.3 360.4,224.6 361.3,222.3 362.2,221.4 363.1,220.1 364.0,218.8 364.9,217.3 365.8,215.8 366.7,214.5 367.6,214.1 368.6,212.9 369.5,212.6 370.4,211.8 371.3,211.2 372.2,210.7 373.1,210.6 374.0,210.0 374.9,210.0 375.8,210.1 376.8,210.3 377.7,210.8 378.6,210.7 379.5,211.0 380.4,211.4 381.3,211.6 382.2,212.7 383.1,213.6 384.0,214.4 384.9,215.0 385.9,216.1 386.8,216.9 387.7,217.9 388.6,219.6 389.5,220.8 390.4,222.3 391.3,223.3 392.2,224.5 393.1,225.5 394.1,226.7 395.0,228.1 395.9,229.2 396.8,230.6 397.7,232.4 398.6,233.9 399.5,235.1 400.4,236.2 401.3,237.8 402.3,239.3 403.2,240.7 404.1,241.9 405.0,243.4 405.9,244.8 406.8,246.2 407.7,247.6 408.6,249.0 409.5,250.1 410.5,251.4 411.4,252.5 412.3,253.7 413.2,254.7 414.1,256.3 415.0,257.4 415.9,258.4 416.8,259.3 417.7,260.1 418.7,260.6 419.6,261.4 420.5,262.3 421.4,263.2 422.3,264.1 423.2,264.8 424.1,265.8 425.0,266.2 425.9,266.8 426.9,267.3 427.8,268.0 428.7,268.6 429.6,269.1 430.5,269.5 431.4,269.8 432.3,270.3 433.2,270.6 434.1,270.9 435.1,271.4 436.0,271.7 436.9,272.2 437.8,272.4 438.7,272.6 439.6,272.9 440.5,272.9 441.4,273.2 442.3,273.4 443.3,273.7 444.2,273.8 445.1,274.0 446.0,274.2 446.9,274.5 447.8,274.7 448.7,274.7 449.6,274.9 450.5,275.1 451.5,275.3 452.4,275.5 453.3,275.6 454.2,275.6 455.1,275.7 456.0,275.9 456.9,275.9 457.8,275.9 458.7,276.0 459.7,276.1 460.6,276.2 461.5,276.2 462.4,276.4 463.3,276.4 464.2,276.4 465.1,276.5 466.0,276.7 466.9,276.5 467.9,276.4 468.8,276.7 469.7,276.7 470.6,276.9 471.5,276.8 472.4,277.0 473.3,276.9 474.2,276.9 475.1,276.7 476.1,276.7 477.0,276.9 477.9,276.9 478.8,277.0 479.7,277.0 480.6,277.1 481.5,277.3 482.4,277.2 483.3,277.3 484.2,277.3 485.2,277.2 486.1,277.2 487.0,277.3 487.9,277.3 488.8,277.2 489.7,277.1 490.6,277.1 491.5,277.3 492.4,277.3 493.4,277.3 494.3,277.2 495.2,277.4 496.1,277.4 497.0,277.3 497.9,277.4 498.8,277.4 499.7,277.4 500.6,277.3 501.6,277.4 502.5,277.5 503.4,277.5 504.3,277.4 505.2,277.2 506.1,277.3 507.0,277.4 507.9,277.3 508.8,277.3 509.8,277.3 510.7,277.4 511.6,277.3 512.5,277.5 513.4,277.5 514.3,277.5 515.2,277.6 516.1,277.4 517.0,277.3 518.0,277.2 518.9,277.3 519.8,277.3 520.7,277.4 521.6,277.5" fill="none" stroke="#aaa" stroke-width="0.85"/>
<polyline points="339.4,263.0 340.3,262.2 341.2,260.9 342.1,259.7 343.0,258.4 344.0,257.2 344.9,255.8 345.8,254.6 346.7,253.5 347.6,252.0 348.5,250.3 349.4,248.6 350.3,247.0 351.2,245.8 352.2,244.4 353.1,242.7 354.0,241.2 354.9,239.1 355.8,237.8 356.7,236.7 357.6,235.3 358.5,233.4 359.4,232.5 360.4,230.9 361.3,229.9 362.2,228.1 363.1,227.0 364.0,226.1 364.9,225.4 365.8,224.3 366.7,223.8 367.6,222.7 368.6,221.1 369.5,220.6 370.4,220.2 371.3,220.0 372.2,219.5 373.1,219.3 374.0,219.3 374.9,218.7 375.8,218.7 376.8,219.1 377.7,218.8 378.6,219.3 379.5,219.6 380.4,220.1 381.3,220.3 382.2,220.9 383.1,221.8 384.0,222.4 384.9,223.4 385.9,224.2 386.8,224.7 387.7,226.1 388.6,227.3 389.5,228.3 390.4,229.3 391.3,230.0 392.2,231.5 393.1,232.1 394.1,233.0 395.0,234.6 395.9,235.8 396.8,237.2 397.7,238.2 398.6,239.4 399.5,240.6 400.4,241.8 401.3,242.8 402.3,244.3 403.2,245.5 404.1,246.9 405.0,248.1 405.9,249.3 406.8,250.5 407.7,251.6 408.6,252.9 409.5,254.0 410.5,255.1 411.4,256.3 412.3,257.3 413.2,258.3 414.1,259.1 415.0,260.2 415.9,261.0 416.8,262.0 417.7,262.8 418.7,263.4 419.6,264.0 420.5,264.7 421.4,265.5 422.3,266.2 423.2,266.6 424.1,267.4 425.0,267.8 425.9,268.5 426.9,269.0 427.8,269.4 428.7,269.8 429.6,270.0 430.5,270.4 431.4,270.9 432.3,271.1 433.2,271.5 434.1,272.0 435.1,272.1 436.0,272.3 436.9,272.5 437.8,273.0 438.7,273.1 439.6,273.4 440.5,273.6 441.4,273.8 442.3,273.8 443.3,274.3 444.2,274.6 445.1,274.6 446.0,274.7 446.9,274.9 447.8,275.4 448.7,275.3 449.6,275.4 450.5,275.7 451.5,275.5 452.4,275.8 453.3,275.9 454.2,275.9 455.1,276.0 456.0,276.0 456.9,276.1 457.8,276.2 458.7,276.3 459.7,276.5 460.6,276.6 461.5,276.4 462.4,276.5 463.3,276.5 464.2,276.4 465.1,276.4 466.0,276.6 466.9,276.6 467.9,276.7 468.8,276.8 469.7,276.8 470.6,276.8 471.5,276.7 472.4,276.8 473.3,276.9 474.2,276.9 475.1,277.0 476.1,277.0 477.0,277.1 477.9,277.1 478.8,277.1 479.7,276.9 480.6,277.0 481.5,277.2 482.4,277.2 483.3,277.0 484.2,277.1 485.2,277.2 486.1,277.2 487.0,277.5 487.9,277.4 488.8,277.4 489.7,277.5 490.6,277.3 491.5,277.4 492.4,277.5 493.4,277.5 494.3,277.4 495.2,277.2 496.1,277.1 497.0,277.2 497.9,277.3 498.8,277.4 499.7,277.3 500.6,277.4 501.6,277.3 502.5,277.3 503.4,277.4 504.3,277.4 505.2,277.4 506.1,277.4 507.0,277.4 507.9,277.4 508.8,277.4 509.8,277.2 510.7,277.2 511.6,277.4 512.5,277.4 513.4,277.4 514.3,277.4 515.2,277.5 516.1,277.5 517.0,277.4 518.0,277.5 518.9,277.4 519.8,277.6 520.7,277.7 521.6,277.6" fill="none" stroke="#3e3e3e" stroke-width="0.85"/>
<polyline points="339.4,264.4 340.3,263.5 341.2,262.6 342.1,261.5 343.0,260.3 344.0,259.1 344.9,258.1 345.8,257.0 346.7,255.6 347.6,254.4 348.5,253.1 349.4,251.9 350.3,250.8 351.2,249.4 352.2,248.2 353.1,246.6 354.0,245.2 354.9,244.4 355.8,242.8 356.7,241.2 357.6,239.9 358.5,238.9 359.4,237.9 360.4,236.4 361.3,235.2 362.2,234.2 363.1,233.5 364.0,232.8 364.9,231.7 365.8,230.9 366.7,230.2 367.6,229.3 368.6,228.4 369.5,228.5 370.4,228.0 371.3,227.2 372.2,227.0 373.1,226.9 374.0,226.6 374.9,226.9 375.8,227.1 376.8,227.0 377.7,226.7 378.6,226.8 379.5,227.3 380.4,227.6 381.3,228.3 382.2,229.2 383.1,230.0 384.0,230.4 384.9,230.7 385.9,231.4 386.8,232.3 387.7,233.2 388.6,233.8 389.5,234.8 390.4,236.0 391.3,236.6 392.2,237.8 393.1,238.6 394.1,239.7 395.0,240.5 395.9,241.6 396.8,242.5 397.7,243.7 398.6,244.9 399.5,246.1 400.4,247.0 401.3,248.3 402.3,249.1 403.2,250.3 404.1,251.5 405.0,252.6 405.9,253.6 406.8,254.2 407.7,255.2 408.6,256.3 409.5,257.4 410.5,258.0 411.4,259.1 412.3,260.0 413.2,260.9 414.1,261.6 415.0,262.4 415.9,263.3 416.8,264.0 417.7,264.8 418.7,265.6 419.6,266.2 420.5,267.1 421.4,267.3 422.3,267.6 423.2,268.3 424.1,268.8 425.0,269.5 425.9,269.8 426.9,270.2 427.8,270.5 428.7,271.0 429.6,271.4 430.5,271.7 431.4,272.0 432.3,272.0 433.2,272.4 434.1,272.7 435.1,273.1 436.0,273.2 436.9,273.2 437.8,273.5 438.7,273.6 439.6,274.1 440.5,274.2 441.4,274.4 442.3,274.5 443.3,274.6 444.2,274.8 445.1,275.2 446.0,275.2 446.9,275.4 447.8,275.5 448.7,275.6 449.6,275.6 450.5,275.9 451.5,276.0 452.4,276.0 453.3,276.0 454.2,276.1 455.1,276.2 456.0,276.3 456.9,276.2 457.8,276.3 458.7,276.4 459.7,276.6 460.6,276.8 461.5,276.9 462.4,276.8 463.3,277.0 464.2,276.8 465.1,276.8 466.0,276.8 466.9,276.9 467.9,276.9 468.8,276.9 469.7,276.9 470.6,276.9 471.5,277.0 472.4,277.0 473.3,276.9 474.2,277.0 475.1,277.1 476.1,277.2 477.0,277.2 477.9,277.2 478.8,277.3 479.7,277.2 480.6,277.2 481.5,277.4 482.4,277.4 483.3,277.2 484.2,277.2 485.2,277.3 486.1,277.4 487.0,277.3 487.9,277.2 488.8,277.2 489.7,277.3 490.6,277.3 491.5,277.1 492.4,277.2 493.4,277.3 494.3,277.4 495.2,277.3 496.1,277.2 497.0,277.2 497.9,277.4 498.8,277.4 499.7,277.3 500.6,277.4 501.6,277.3 502.5,277.2 503.4,277.2 504.3,277.4 505.2,277.6 506.1,277.5 507.0,277.4 507.9,277.4 508.8,277.4 509.8,277.4 510.7,277.3 511.6,277.6 512.5,277.5 513.4,277.6 514.3,277.6 515.2,277.6 516.1,277.6 517.0,277.5 518.0,277.5 518.9,277.3 519.8,277.4 520.7,277.4 521.6,277.4" fill="none" stroke="#c8c8c8" stroke-width="0.85"/>
<polyline points="339.4,265.9 340.3,264.9 341.2,264.1 342.1,263.3 343.0,262.4 344.0,261.5 344.9,260.5 345.8,259.3 346.7,258.4 347.6,257.3 348.5,256.3 349.4,255.1 350.3,254.1 351.2,252.8 352.2,251.9 353.1,250.6 354.0,249.2 354.9,248.2 355.8,247.2 356.7,246.4 357.6,245.1 358.5,244.1 359.4,243.0 360.4,242.2 361.3,241.1 362.2,239.9 363.1,239.2 364.0,238.6 364.9,238.2 365.8,237.4 366.7,236.6 367.6,235.9 368.6,235.8 369.5,235.5 370.4,235.2 371.3,235.0 372.2,234.7 373.1,234.3 374.0,233.8 374.9,233.9 375.8,233.7 376.8,234.4 377.7,234.2 378.6,234.4 379.5,234.7 380.4,235.0 381.3,235.5 382.2,235.7 383.1,236.2 384.0,237.4 384.9,238.3 385.9,238.4 386.8,239.2 387.7,239.6 388.6,240.5 389.5,241.5 390.4,242.3 391.3,243.0 392.2,243.8 393.1,244.8 394.1,245.5 395.0,246.3 395.9,247.4 396.8,248.5 397.7,249.6 398.6,250.4 399.5,251.2 400.4,252.1 401.3,253.0 402.3,253.9 403.2,254.7 404.1,255.5 405.0,256.3 405.9,257.1 406.8,257.9 407.7,259.0 408.6,259.7 409.5,260.5 410.5,261.5 411.4,262.3 412.3,262.9 413.2,263.6 414.1,264.5 415.0,265.2 415.9,265.5 416.8,266.1 417.7,266.8 418.7,267.2 419.6,267.9 420.5,268.5 421.4,268.9 422.3,269.4 423.2,270.0 424.1,270.3 425.0,270.5 425.9,271.2 426.9,271.5 427.8,271.9 428.7,272.2 429.6,272.6 430.5,272.5 431.4,272.9 432.3,273.1 433.2,273.4 434.1,273.7 435.1,273.9 436.0,274.1 436.9,274.1 437.8,274.3 438.7,274.3 439.6,274.7 440.5,274.9 441.4,275.1 442.3,275.3 443.3,275.0 444.2,275.3 445.1,275.4 446.0,275.6 446.9,275.8 447.8,276.0 448.7,275.9 449.6,276.0 450.5,276.1 451.5,276.1 452.4,276.3 453.3,276.3 454.2,276.4 455.1,276.4 456.0,276.5 456.9,276.5 457.8,276.5 458.7,276.5 459.7,276.7 460.6,276.6 461.5,276.8 462.4,276.8 463.3,276.8 464.2,276.8 465.1,277.1 466.0,277.1 466.9,277.1 467.9,276.9 468.8,277.0 469.7,276.9 470.6,277.1 471.5,277.1 472.4,277.1 473.3,277.1 474.2,277.1 475.1,277.0 476.1,277.2 477.0,277.1 477.9,277.1 478.8,277.1 479.7,277.4 480.6,277.4 481.5,277.4 482.4,277.4 483.3,277.3 484.2,277.4 485.2,277.1 486.1,277.1 487.0,277.3 487.9,277.3 488.8,277.2 489.7,277.2 490.6,277.3 491.5,277.3 492.4,277.3 493.4,277.1 494.3,277.3 495.2,277.3 496.1,277.3 497.0,277.4 497.9,277.4 498.8,277.3 499.7,277.3 500.6,277.3 501.6,277.3 502.5,277.2 503.4,277.2 504.3,277.2 505.2,277.3 506.1,277.5 507.0,277.4 507.9,277.5 508.8,277.4 509.8,277.4 510.7,277.4 511.6,277.5 512.5,277.4 513.4,277.5 514.3,277.4 515.2,277.4 516.1,277.4 517.0,277.4 518.0,277.3 518.9,277.2 519.8,277.5 520.7,277.5 521.6,277.4" fill="none" stroke="#dcdcdc" stroke-width="0.85"/>
<polyline points="339.4,267.3 340.3,266.6 341.2,265.9 342.1,265.1 343.0,264.0 344.0,263.4 344.9,262.7 345.8,262.0 346.7,261.2 347.6,260.0 348.5,259.1 349.4,257.9 350.3,256.9 351.2,256.0 352.2,255.1 353.1,254.1 354.0,253.1 354.9,252.4 355.8,251.6 356.7,250.7 357.6,249.7 358.5,248.9 359.4,248.2 360.4,247.4 361.3,246.2 362.2,245.1 363.1,244.8 364.0,244.2 364.9,243.6 365.8,243.3 366.7,242.6 367.6,242.2 368.6,241.5 369.5,241.2 370.4,241.1 371.3,241.5 372.2,241.1 373.1,240.7 374.0,240.8 374.9,240.6 375.8,240.6 376.8,241.1 377.7,241.2 378.6,241.3 379.5,241.4 380.4,241.8 381.3,242.2 382.2,242.7 383.1,243.2 384.0,243.6 384.9,244.3 385.9,244.7 386.8,245.3 387.7,245.8 388.6,246.5 389.5,247.1 390.4,247.8 391.3,248.3 392.2,249.1 393.1,249.7 394.1,250.6 395.0,251.4 395.9,252.3 396.8,253.2 397.7,253.9 398.6,254.5 399.5,255.2 400.4,256.2 401.3,256.9 402.3,257.5 403.2,258.6 404.1,259.2 405.0,259.9 405.9,260.5 406.8,261.3 407.7,262.3 408.6,263.2 409.5,263.4 410.5,264.2 411.4,264.6 412.3,265.2 413.2,265.9 414.1,266.7 415.0,267.0 415.9,267.6 416.8,268.1 417.7,268.6 418.7,269.0 419.6,269.4 420.5,270.1 421.4,270.6 422.3,270.9 423.2,271.3 424.1,271.5 425.0,271.9 425.9,272.2 426.9,272.3 427.8,272.5 428.7,272.8 429.6,273.0 430.5,273.4 431.4,273.7 432.3,273.9 433.2,274.2 434.1,274.5 435.1,274.6 436.0,274.8 436.9,274.8 437.8,274.9 438.7,275.1 439.6,275.3 440.5,275.3 441.4,275.4 442.3,275.5 443.3,275.8 444.2,276.0 445.1,275.8 446.0,276.0 446.9,276.1 447.8,276.3 448.7,276.4 449.6,276.4 450.5,276.4 451.5,276.7 452.4,276.7 453.3,276.7 454.2,276.7 455.1,276.8 456.0,276.8 456.9,276.9 457.8,276.8 458.7,276.7 459.7,276.8 460.6,276.9 461.5,276.8 462.4,276.8 463.3,277.0 464.2,277.0 465.1,277.1 466.0,277.1 466.9,277.0 467.9,277.1 468.8,277.1 469.7,277.1 470.6,277.2 471.5,277.2 472.4,277.1 473.3,277.1 474.2,277.3 475.1,277.2 476.1,277.2 477.0,277.1 477.9,277.1 478.8,277.0 479.7,277.1 480.6,277.2 481.5,277.3 482.4,277.4 483.3,277.3 484.2,277.3 485.2,277.2 486.1,277.2 487.0,277.4 487.9,277.4 488.8,277.4 489.7,277.4 490.6,277.3 491.5,277.2 492.4,277.2 493.4,277.5 494.3,277.5 495.2,277.7 496.1,277.6 497.0,277.6 497.9,277.5 498.8,277.5 499.7,277.3 500.6,277.3 501.6,277.4 502.5,277.3 503.4,277.3 504.3,277.3 505.2,277.2 506.1,277.4 507.0,277.4 507.9,277.3 508.8,277.4 509.8,277.4 510.7,277.4 511.6,277.4 512.5,277.6 513.4,277.6 514.3,277.6 515.2,277.4 516.1,277.4 517.0,277.4 518.0,277.5 518.9,277.4 519.8,277.4 520.7,277.3 521.6,277.4" fill="none" stroke="#e6e6e6" stroke-width="0.85"/>
<polyline points="339.4,268.5 340.3,267.8 341.2,267.0 342.1,266.6 343.0,266.1 344.0,265.5 344.9,264.6 345.8,263.8 346.7,263.0 347.6,262.4 348.5,261.4 349.4,260.4 350.3,259.8 351.2,259.0 352.2,258.1 353.1,257.3 354.0,256.4 354.9,255.8 355.8,255.0 356.7,254.4 357.6,253.7 358.5,253.0 359.4,252.3 360.4,251.5 361.3,250.9 362.2,250.3 363.1,249.8 364.0,249.5 364.9,248.6 365.8,248.4 366.7,247.6 367.6,247.2 368.6,247.4 369.5,247.2 370.4,246.9 371.3,246.7 372.2,246.6 373.1,246.6 374.0,246.2 374.9,246.3 375.8,246.3 376.8,246.6 377.7,246.9 378.6,246.8 379.5,247.2 380.4,247.7 381.3,248.0 382.2,248.1 383.1,248.6 384.0,249.1 384.9,249.4 385.9,249.8 386.8,250.4 387.7,251.0 388.6,251.6 389.5,251.7 390.4,252.5 391.3,252.9 392.2,253.7 393.1,254.4 394.1,255.4 395.0,255.9 395.9,256.5 396.8,257.2 397.7,257.9 398.6,258.7 399.5,259.4 400.4,259.9 401.3,260.6 402.3,261.2 403.2,261.8 404.1,262.5 405.0,263.1 405.9,263.4 406.8,264.2 407.7,264.9 408.6,265.5 409.5,266.1 410.5,266.7 411.4,267.0 412.3,267.4 413.2,268.0 414.1,268.1 415.0,268.7 415.9,269.1 416.8,269.8 417.7,270.1 418.7,270.4 419.6,270.9 420.5,271.2 421.4,271.7 422.3,272.2 423.2,272.4 424.1,272.8 425.0,272.9 425.9,273.3 426.9,273.5 427.8,273.9 428.7,274.0 429.6,274.0 430.5,274.3 431.4,274.4 432.3,274.5 433.2,274.8 434.1,275.1 435.1,275.1 436.0,275.2 436.9,275.4 437.8,275.6 438.7,275.5 439.6,275.8 440.5,275.8 441.4,275.9 442.3,275.9 443.3,276.1 444.2,276.2 445.1,276.1 446.0,276.3 446.9,276.3 447.8,276.4 448.7,276.5 449.6,276.5 450.5,276.6 451.5,276.6 452.4,276.9 453.3,276.8 454.2,276.8 455.1,276.9 456.0,276.9 456.9,276.7 457.8,276.6 458.7,276.7 459.7,276.8 460.6,276.9 461.5,276.8 462.4,277.0 463.3,277.1 464.2,277.0 465.1,277.1 466.0,277.2 466.9,277.0 467.9,277.2 468.8,277.2 469.7,277.2 470.6,277.2 471.5,277.3 472.4,277.3 473.3,277.3 474.2,277.1 475.1,277.1 476.1,277.2 477.0,277.2 477.9,277.2 478.8,277.2 479.7,277.3 480.6,277.3 481.5,277.5 482.4,277.5 483.3,277.3 484.2,277.2 485.2,277.1 486.1,277.2 487.0,277.2 487.9,277.5 488.8,277.5 489.7,277.5 490.6,277.4 491.5,277.5 492.4,277.6 493.4,277.6 494.3,277.5 495.2,277.4 496.1,277.5 497.0,277.3 497.9,277.3 498.8,277.4 499.7,277.4 500.6,277.4 501.6,277.3 502.5,277.3 503.4,277.2 504.3,277.2 505.2,277.3 506.1,277.3 507.0,277.3 507.9,277.4 508.8,277.5 509.8,277.5 510.7,277.7 511.6,277.5 512.5,277.5 513.4,277.4 514.3,277.4 515.2,277.4 516.1,277.4 517.0,277.3 518.0,277.3 518.9,277.5 519.8,277.3 520.7,277.3 521.6,277.2" fill="none" stroke="#3e3e3e" stroke-width="0.85"/>
<polyline points="339.4,270.2 340.3,269.6 341.2,269.2 342.1,268.7 343.0,268.2 344.0,267.8 344.9,267.1 345.8,266.7 346.7,266.0 347.6,265.5 348.5,264.7 349.4,264.2 350.3,263.2 351.2,262.7 352.2,262.1 353.1,261.7 354.0,261.1 354.9,260.4 355.8,259.9 356.7,259.3 357.6,258.8 358.5,258.1 359.4,257.6 360.4,257.2 361.3,256.6 362.2,256.2 363.1,255.8 364.0,255.4 364.9,255.1 365.8,254.7 366.7,254.5 367.6,254.3 368.6,253.9 369.5,253.7 370.4,253.8 371.3,253.6 372.2,253.4 373.1,253.3 374.0,253.2 374.9,253.2 375.8,253.3 376.8,253.5 377.7,253.8 378.6,253.8 379.5,254.1 380.4,254.3 381.3,254.5 382.2,254.7 383.1,254.9 384.0,255.5 384.9,255.9 385.9,256.2 386.8,256.9 387.7,257.4 388.6,257.6 389.5,258.1 390.4,258.7 391.3,258.9 392.2,259.3 393.1,259.7 394.1,260.4 395.0,260.9 395.9,261.5 396.8,261.9 397.7,262.7 398.6,263.2 399.5,263.5 400.4,264.1 401.3,264.6 402.3,265.0 403.2,265.5 404.1,266.0 405.0,266.6 405.9,266.8 406.8,267.4 407.7,267.7 408.6,268.4 409.5,268.8 410.5,269.2 411.4,269.4 412.3,269.7 413.2,270.1 414.1,270.7 415.0,271.2 415.9,271.6 416.8,271.9 417.7,272.2 418.7,272.5 419.6,272.8 420.5,272.9 421.4,273.0 422.3,273.5 423.2,273.8 424.1,274.0 425.0,274.0 425.9,274.3 426.9,274.3 427.8,274.5 428.7,274.6 429.6,274.9 430.5,275.1 431.4,275.2 432.3,275.3 433.2,275.6 434.1,275.7 435.1,275.8 436.0,275.8 436.9,276.0 437.8,275.9 438.7,276.0 439.6,276.0 440.5,276.1 441.4,276.2 442.3,276.4 443.3,276.6 444.2,276.5 445.1,276.5 446.0,276.5 446.9,276.6 447.8,276.8 448.7,276.8 449.6,276.9 450.5,276.9 451.5,276.8 452.4,276.9 453.3,277.0 454.2,276.9 455.1,276.9 456.0,276.8 456.9,276.8 457.8,277.0 458.7,277.1 459.7,277.2 460.6,277.2 461.5,277.1 462.4,277.1 463.3,277.2 464.2,277.2 465.1,277.2 466.0,277.2 466.9,277.2 467.9,277.3 468.8,277.4 469.7,277.2 470.6,277.2 471.5,277.3 472.4,277.3 473.3,277.2 474.2,277.3 475.1,277.3 476.1,277.3 477.0,277.3 477.9,277.4 478.8,277.3 479.7,277.2 480.6,277.2 481.5,277.2 482.4,277.2 483.3,277.2 484.2,277.2 485.2,277.1 486.1,277.4 487.0,277.5 487.9,277.4 488.8,277.4 489.7,277.4 490.6,277.5 491.5,277.3 492.4,277.5 493.4,277.4 494.3,277.5 495.2,277.5 496.1,277.3 497.0,277.1 497.9,277.3 498.8,277.4 499.7,277.3 500.6,277.4 501.6,277.6 502.5,277.5 503.4,277.5 504.3,277.6 505.2,277.4 506.1,277.5 507.0,277.6 507.9,277.5 508.8,277.5 509.8,277.4 510.7,277.4 511.6,277.3 512.5,277.2 513.4,277.2 514.3,277.2 515.2,277.3 516.1,277.3 517.0,277.4 518.0,277.5 518.9,277.6 519.8,277.5 520.7,277.7 521.6,277.6" fill="none" stroke="#3e3e3e" stroke-width="0.85"/>
<rect x="339.4" y="166.5" width="182.2" height="111.4" fill="none" stroke="#505050" stroke-width="0.85"/>
<path d="M357.6 166.5v1.5M357.6 277.9v-1.5M375.8 166.5v1.5M375.8 277.9v-1.5M394.1 166.5v1.5M394.1 277.9v-1.5M412.3 166.5v1.5M412.3 277.9v-1.5M430.5 166.5v2.0M430.5 277.9v-2.0M448.7 166.5v1.5M448.7 277.9v-1.5M466.9 166.5v1.5M466.9 277.9v-1.5M485.2 166.5v1.5M485.2 277.9v-1.5M503.4 166.5v1.5M503.4 277.9v-1.5M339.4 177.6h1.5M521.6 177.6h-1.5M339.4 188.8h1.5M521.6 188.8h-1.5M339.4 199.9h1.5M521.6 199.9h-1.5M339.4 211.1h1.5M521.6 211.1h-1.5M339.4 222.2h2.0M521.6 222.2h-2.0M339.4 233.3h1.5M521.6 233.3h-1.5M339.4 244.5h1.5M521.6 244.5h-1.5M339.4 255.6h1.5M521.6 255.6h-1.5M339.4 266.8h1.5M521.6 266.8h-1.5" stroke="#444" stroke-width="0.7" fill="none"/>
<text class="n" transform="translate(314.8 168.4) scale(0.86 1)" x="2.03 6.10 10.17 14.24 18.31 22.38 26.45" y="0" text-anchor="middle">900,000</text>
<text class="n" transform="translate(314.8 224.8) scale(0.86 1)" x="2.03 6.10 10.17 14.24 18.31 22.38 26.45" y="0" text-anchor="middle">450,000</text>
<text class="n" transform="translate(321.8 280.1) scale(0.86 1)" x="2.03 6.10 10.17 14.24 18.31" y="0" text-anchor="middle">0,000</text>
<text class="n" transform="translate(330.9 288.9) scale(0.86 1)" x="2.03 6.10 10.17 14.24 18.31" y="0" text-anchor="middle">300,0</text>
<text class="n" transform="translate(421.4 288.9) scale(0.86 1)" x="2.03 6.10 10.17 14.24 18.31" y="0" text-anchor="middle">400,0</text>
<text class="n" transform="translate(512.6 288.9) scale(0.86 1)" x="2.03 6.10 10.17 14.24 18.31" y="0" text-anchor="middle">500,0</text>
<text class="m" x="403.1" y="295.9" textLength="52.5" lengthAdjust="spacingAndGlyphs">Wavelength (nm)</text>
<g transform="translate(302.4 220.0) rotate(-90)"><text class="m" x="-15.8" y="0.0" textLength="31.5" lengthAdjust="spacingAndGlyphs">Intensity</text></g>
<text class="s" x="474.0" y="191.7" text-anchor="middle" font-size="8">1</text>
<path d="M474.0 193.4V207.6" stroke="#111" stroke-width="1.4"/>
<path d="M474.0 210.6l-2.3 -4.8h4.6z" fill="#111"/>
<text class="s" x="474.3" y="218.9" text-anchor="middle" font-size="8">10</text>
</g>
<g>
<polyline points="51.1,401.4 52.0,399.7 52.9,398.2 53.8,396.4 54.7,394.6 55.6,392.8 56.5,390.9 57.4,389.3 58.3,387.0 59.2,385.0 60.1,382.8 61.0,380.4 61.9,377.9 62.7,375.6 63.6,373.1 64.5,371.3 65.4,368.8 66.3,366.2 67.2,364.0 68.1,362.2 69.0,359.8 69.9,357.7 70.8,355.7 71.7,353.2 72.6,351.3 73.5,349.7 74.3,347.9 75.2,345.4 76.1,344.1 77.0,342.4 77.9,341.0 78.8,339.4 79.7,338.5 80.6,337.9 81.5,337.1 82.4,336.6 83.3,334.8 84.2,334.6 85.1,334.5 85.9,334.0 86.8,333.9 87.7,334.3 88.6,334.3 89.5,334.7 90.4,334.9 91.3,335.2 92.2,336.3 93.1,337.2 94.0,338.2 94.9,338.8 95.8,339.9 96.7,340.9 97.5,342.0 98.4,343.6 99.3,344.9 100.2,345.9 101.1,347.2 102.0,348.7 102.9,350.5 103.8,352.2 104.7,354.0 105.6,355.6 106.5,357.1 107.4,359.1 108.3,360.2 109.1,362.1 110.0,363.6 110.9,365.2 111.8,367.1 112.7,369.2 113.6,370.4 114.5,372.0 115.4,373.7 116.3,375.1 117.2,376.7 118.1,378.7 119.0,380.3 119.9,382.2 120.7,383.7 121.6,384.8 122.5,386.5 123.4,387.8 124.3,389.6 125.2,391.0 126.1,392.1 127.0,393.2 127.9,394.5 128.8,395.8 129.7,396.8 130.6,398.6 131.5,399.9 132.3,400.6 133.2,401.3 134.1,402.4 135.0,403.5 135.9,404.4 136.8,405.3 137.7,406.2 138.6,407.0 139.5,407.7 140.4,408.3 141.3,408.8 142.2,409.3 143.1,409.9 143.9,410.6 144.8,410.9 145.7,411.7 146.6,412.0 147.5,412.3 148.4,412.8 149.3,412.9 150.2,413.4 151.1,413.8 152.0,414.1 152.9,414.3 153.8,414.4 154.7,414.7 155.5,414.9 156.4,415.3 157.3,415.5 158.2,415.7 159.1,416.0 160.0,416.1 160.9,416.3 161.8,416.4 162.7,416.7 163.6,416.8 164.5,417.0 165.4,417.2 166.3,417.4 167.1,417.5 168.0,417.7 168.9,417.7 169.8,417.7 170.7,417.8 171.6,418.0 172.5,418.2 173.4,418.3 174.3,418.4 175.2,418.5 176.1,418.7 177.0,418.7 177.8,418.7 178.7,418.8 179.6,419.0 180.5,419.0 181.4,419.1 182.3,419.2 183.2,419.2 184.1,419.2 185.0,419.2 185.9,419.4 186.8,419.3 187.7,419.6 188.6,419.6 189.4,419.5 190.3,419.4 191.2,419.6 192.1,419.7 193.0,419.8 193.9,420.0 194.8,420.0 195.7,420.1 196.6,420.1 197.5,420.0 198.4,420.2 199.3,420.0 200.2,420.1 201.0,420.1 201.9,420.3 202.8,420.3 203.7,420.6 204.6,420.5 205.5,420.5 206.4,420.5 207.3,420.5 208.2,420.5 209.1,420.7 210.0,420.8 210.9,420.7 211.8,420.6 212.6,420.9 213.5,420.7 214.4,420.7 215.3,420.8 216.2,420.9 217.1,420.9 218.0,420.8 218.9,420.9 219.8,420.9 220.7,420.9 221.6,420.7 222.5,420.7 223.4,420.9 224.2,421.0 225.1,421.1 226.0,421.2 226.9,421.1 227.8,421.0 228.7,421.0 229.6,421.0" fill="none" stroke="#3e3e3e" stroke-width="0.85"/>
<polyline points="51.1,400.9 52.0,399.5 52.9,397.9 53.8,396.2 54.7,394.2 55.6,392.3 56.5,390.7 57.4,388.9 58.3,387.5 59.2,385.5 60.1,383.0 61.0,381.3 61.9,379.1 62.7,376.9 63.6,375.1 64.5,373.1 65.4,371.1 66.3,368.8 67.2,366.8 68.1,364.4 69.0,362.3 69.9,360.5 70.8,358.0 71.7,356.6 72.6,355.2 73.5,353.5 74.3,352.1 75.2,350.5 76.1,349.0 77.0,347.3 77.9,346.6 78.8,345.7 79.7,344.6 80.6,343.5 81.5,342.4 82.4,342.0 83.3,340.8 84.2,340.7 85.1,340.5 85.9,340.3 86.8,339.9 87.7,340.0 88.6,340.3 89.5,340.9 90.4,341.2 91.3,341.6 92.2,342.4 93.1,343.1 94.0,344.5 94.9,345.2 95.8,345.6 96.7,346.2 97.5,347.6 98.4,349.5 99.3,349.9 100.2,351.3 101.1,351.9 102.0,353.7 102.9,355.0 103.8,356.8 104.7,357.9 105.6,359.3 106.5,361.3 107.4,362.5 108.3,363.5 109.1,365.5 110.0,367.6 110.9,369.1 111.8,370.7 112.7,372.6 113.6,374.3 114.5,375.6 115.4,377.4 116.3,378.5 117.2,379.9 118.1,381.5 119.0,382.8 119.9,384.6 120.7,385.9 121.6,387.6 122.5,389.0 123.4,390.2 124.3,391.6 125.2,392.9 126.1,394.1 127.0,395.1 127.9,396.2 128.8,397.5 129.7,398.8 130.6,400.2 131.5,400.9 132.3,401.7 133.2,403.2 134.1,403.9 135.0,404.8 135.9,405.6 136.8,406.4 137.7,407.2 138.6,407.9 139.5,408.6 140.4,409.1 141.3,409.8 142.2,410.4 143.1,410.8 143.9,411.2 144.8,411.7 145.7,412.1 146.6,412.4 147.5,412.7 148.4,413.1 149.3,413.6 150.2,413.8 151.1,414.4 152.0,414.6 152.9,414.9 153.8,415.1 154.7,415.3 155.5,415.2 156.4,415.5 157.3,415.7 158.2,415.8 159.1,416.1 160.0,416.4 160.9,416.5 161.8,416.6 162.7,416.7 163.6,416.9 164.5,417.1 165.4,417.4 166.3,417.6 167.1,417.7 168.0,417.7 168.9,417.9 169.8,418.1 170.7,418.3 171.6,418.1 172.5,418.2 173.4,418.3 174.3,418.6 175.2,418.8 176.1,418.8 177.0,418.9 177.8,419.0 178.7,419.1 179.6,419.0 180.5,419.1 181.4,419.2 182.3,419.4 183.2,419.5 184.1,419.5 185.0,419.6 185.9,419.7 186.8,419.7 187.7,419.8 188.6,419.8 189.4,420.0 190.3,419.9 191.2,419.9 192.1,420.0 193.0,420.0 193.9,420.2 194.8,420.1 195.7,420.1 196.6,420.2 197.5,420.1 198.4,420.3 199.3,420.3 200.2,420.2 201.0,420.3 201.9,420.4 202.8,420.3 203.7,420.4 204.6,420.4 205.5,420.7 206.4,420.8 207.3,420.8 208.2,420.6 209.1,420.6 210.0,420.7 210.9,420.6 211.8,420.5 212.6,420.7 213.5,420.7 214.4,420.9 215.3,420.8 216.2,420.7 217.1,420.9 218.0,420.9 218.9,420.9 219.8,420.9 220.7,420.9 221.6,420.9 222.5,420.9 223.4,420.9 224.2,420.8 225.1,420.8 226.0,420.8 226.9,421.0 227.8,421.0 228.7,421.0 229.6,421.1" fill="none" stroke="#3e3e3e" stroke-width="0.85"/>
<polyline points="51.1,401.2 52.0,399.9 52.9,398.6 53.8,397.5 54.7,395.9 55.6,394.1 56.5,392.6 57.4,391.0 58.3,389.0 59.2,387.4 60.1,385.8 61.0,384.0 61.9,382.2 62.7,380.2 63.6,378.3 64.5,376.6 65.4,374.9 66.3,373.1 67.2,370.9 68.1,369.4 69.0,367.5 69.9,366.3 70.8,364.4 71.7,362.6 72.6,360.8 73.5,359.4 74.3,358.0 75.2,356.7 76.1,355.3 77.0,353.7 77.9,352.9 78.8,352.4 79.7,351.4 80.6,350.8 81.5,350.0 82.4,349.3 83.3,348.9 84.2,348.8 85.1,348.5 85.9,348.8 86.8,348.5 87.7,348.8 88.6,348.7 89.5,348.9 90.4,349.3 91.3,350.1 92.2,350.5 93.1,351.3 94.0,351.9 94.9,352.4 95.8,353.0 96.7,354.4 97.5,355.1 98.4,355.8 99.3,356.8 100.2,358.1 101.1,359.4 102.0,360.3 102.9,361.9 103.8,363.7 104.7,364.8 105.6,366.0 106.5,367.6 107.4,369.2 108.3,369.9 109.1,371.4 110.0,372.7 110.9,374.4 111.8,376.1 112.7,377.4 113.6,378.5 114.5,380.1 115.4,381.8 116.3,383.1 117.2,384.4 118.1,385.7 119.0,387.2 119.9,388.5 120.7,389.8 121.6,390.8 122.5,392.1 123.4,393.2 124.3,394.5 125.2,396.1 126.1,397.4 127.0,398.2 127.9,399.1 128.8,400.1 129.7,401.2 130.6,402.4 131.5,403.4 132.3,404.1 133.2,404.8 134.1,405.7 135.0,406.6 135.9,407.5 136.8,408.0 137.7,408.6 138.6,409.5 139.5,409.9 140.4,410.6 141.3,411.3 142.2,411.8 143.1,412.2 143.9,412.3 144.8,412.5 145.7,413.1 146.6,413.6 147.5,413.9 148.4,414.1 149.3,414.5 150.2,414.9 151.1,415.1 152.0,415.4 152.9,415.7 153.8,415.8 154.7,416.1 155.5,416.4 156.4,416.3 157.3,416.4 158.2,416.5 159.1,416.7 160.0,417.0 160.9,417.1 161.8,417.4 162.7,417.4 163.6,417.5 164.5,417.7 165.4,418.0 166.3,418.0 167.1,418.0 168.0,418.0 168.9,418.1 169.8,418.3 170.7,418.4 171.6,418.5 172.5,418.6 173.4,418.6 174.3,418.8 175.2,419.1 176.1,419.4 177.0,419.4 177.8,419.4 178.7,419.3 179.6,419.3 180.5,419.4 181.4,419.4 182.3,419.5 183.2,419.5 184.1,419.7 185.0,419.7 185.9,419.7 186.8,419.8 187.7,419.8 188.6,419.8 189.4,419.8 190.3,420.0 191.2,420.0 192.1,420.2 193.0,420.2 193.9,420.2 194.8,420.2 195.7,420.2 196.6,420.3 197.5,420.5 198.4,420.6 199.3,420.5 200.2,420.5 201.0,420.6 201.9,420.6 202.8,420.4 203.7,420.5 204.6,420.6 205.5,420.7 206.4,420.8 207.3,420.7 208.2,420.8 209.1,420.7 210.0,420.7 210.9,420.7 211.8,420.6 212.6,420.7 213.5,420.9 214.4,420.9 215.3,420.9 216.2,421.0 217.1,421.1 218.0,420.9 218.9,420.9 219.8,420.8 220.7,420.8 221.6,420.9 222.5,420.9 223.4,420.9 224.2,421.0 225.1,421.0 226.0,421.0 226.9,421.1 227.8,420.9 228.7,421.1 229.6,421.2" fill="none" stroke="#606060" stroke-width="0.85"/>
<polyline points="51.1,402.1 52.0,400.6 52.9,399.4 53.8,398.0 54.7,396.7 55.6,395.2 56.5,394.0 57.4,392.4 58.3,390.9 59.2,389.1 60.1,387.4 61.0,386.2 61.9,384.7 62.7,382.9 63.6,381.0 64.5,379.3 65.4,377.8 66.3,376.1 67.2,375.1 68.1,373.5 69.0,372.1 69.9,370.7 70.8,368.9 71.7,367.3 72.6,365.9 73.5,364.7 74.3,363.3 75.2,362.0 76.1,361.2 77.0,359.9 77.9,359.4 78.8,358.0 79.7,357.8 80.6,357.2 81.5,356.8 82.4,356.2 83.3,355.3 84.2,355.4 85.1,354.6 85.9,354.3 86.8,354.5 87.7,354.9 88.6,354.8 89.5,356.0 90.4,356.3 91.3,356.2 92.2,356.7 93.1,356.6 94.0,357.7 94.9,358.9 95.8,359.6 96.7,360.2 97.5,360.6 98.4,362.3 99.3,363.1 100.2,363.8 101.1,365.2 102.0,366.4 102.9,367.8 103.8,368.6 104.7,369.6 105.6,370.7 106.5,372.0 107.4,373.1 108.3,374.6 109.1,375.8 110.0,377.0 110.9,378.1 111.8,379.5 112.7,381.0 113.6,382.2 114.5,383.9 115.4,385.5 116.3,386.2 117.2,387.5 118.1,389.0 119.0,390.2 119.9,391.4 120.7,392.5 121.6,393.8 122.5,394.7 123.4,396.2 124.3,396.7 125.2,398.1 126.1,398.9 127.0,399.9 127.9,401.3 128.8,402.4 129.7,403.2 130.6,404.0 131.5,404.9 132.3,405.7 133.2,406.5 134.1,407.4 135.0,408.0 135.9,408.4 136.8,409.2 137.7,410.0 138.6,410.5 139.5,410.9 140.4,411.3 141.3,412.0 142.2,412.4 143.1,412.8 143.9,413.3 144.8,413.6 145.7,413.8 146.6,414.1 147.5,414.5 148.4,414.8 149.3,414.9 150.2,415.4 151.1,415.4 152.0,415.6 152.9,415.9 153.8,416.3 154.7,416.3 155.5,416.4 156.4,416.6 157.3,416.6 158.2,417.1 159.1,417.3 160.0,417.4 160.9,417.6 161.8,417.7 162.7,417.8 163.6,417.9 164.5,418.0 165.4,418.3 166.3,418.3 167.1,418.3 168.0,418.2 168.9,418.4 169.8,418.5 170.7,418.8 171.6,418.6 172.5,418.9 173.4,419.0 174.3,419.0 175.2,419.1 176.1,419.1 177.0,419.3 177.8,419.5 178.7,419.5 179.6,419.6 180.5,419.7 181.4,419.6 182.3,419.6 183.2,419.7 184.1,419.9 185.0,419.9 185.9,419.9 186.8,420.1 187.7,420.0 188.6,420.2 189.4,420.0 190.3,420.1 191.2,420.4 192.1,420.5 193.0,420.4 193.9,420.5 194.8,420.3 195.7,420.2 196.6,420.1 197.5,420.2 198.4,420.2 199.3,420.4 200.2,420.4 201.0,420.5 201.9,420.6 202.8,420.7 203.7,420.7 204.6,420.7 205.5,420.7 206.4,420.8 207.3,420.7 208.2,420.7 209.1,420.8 210.0,420.7 210.9,420.7 211.8,420.9 212.6,420.9 213.5,421.1 214.4,421.1 215.3,421.0 216.2,421.1 217.1,421.0 218.0,421.0 218.9,421.2 219.8,421.2 220.7,421.0 221.6,421.0 222.5,421.0 223.4,421.1 224.2,421.3 225.1,421.3 226.0,421.0 226.9,421.1 227.8,421.2 228.7,421.2 229.6,421.4" fill="none" stroke="#aaa" stroke-width="0.85"/>
<polyline points="51.1,402.6 52.0,401.3 52.9,400.4 53.8,399.2 54.7,398.1 55.6,396.7 56.5,395.6 57.4,394.2 58.3,392.6 59.2,391.3 60.1,390.0 61.0,389.0 61.9,387.7 62.7,385.9 63.6,384.4 64.5,383.0 65.4,381.4 66.3,380.1 67.2,379.0 68.1,377.6 69.0,376.3 69.9,375.0 70.8,373.2 71.7,372.1 72.6,371.1 73.5,370.2 74.3,369.3 75.2,368.5 76.1,368.0 77.0,366.9 77.9,366.3 78.8,365.8 79.7,365.0 80.6,364.7 81.5,363.4 82.4,362.6 83.3,362.7 84.2,361.8 85.1,361.7 85.9,362.5 86.8,362.2 87.7,362.4 88.6,362.9 89.5,362.8 90.4,362.6 91.3,362.9 92.2,363.8 93.1,364.4 94.0,365.0 94.9,365.2 95.8,366.0 96.7,367.0 97.5,367.9 98.4,369.1 99.3,369.8 100.2,370.3 101.1,371.7 102.0,372.4 102.9,373.3 103.8,374.1 104.7,375.5 105.6,376.3 106.5,377.1 107.4,377.9 108.3,379.7 109.1,380.8 110.0,382.0 110.9,383.2 111.8,384.5 112.7,385.4 113.6,386.1 114.5,387.2 115.4,388.8 116.3,390.1 117.2,391.1 118.1,392.2 119.0,393.5 119.9,394.3 120.7,395.4 121.6,396.4 122.5,397.5 123.4,398.4 124.3,399.6 125.2,400.8 126.1,401.6 127.0,402.7 127.9,403.3 128.8,404.1 129.7,405.2 130.6,405.9 131.5,406.6 132.3,407.4 133.2,408.1 134.1,408.8 135.0,409.5 135.9,410.1 136.8,410.6 137.7,411.3 138.6,411.9 139.5,412.3 140.4,412.7 141.3,413.1 142.2,413.5 143.1,414.0 143.9,414.2 144.8,414.5 145.7,414.7 146.6,415.1 147.5,415.4 148.4,415.5 149.3,416.0 150.2,415.9 151.1,416.2 152.0,416.4 152.9,416.6 153.8,416.8 154.7,417.0 155.5,417.2 156.4,417.4 157.3,417.7 158.2,417.7 159.1,417.8 160.0,417.8 160.9,417.9 161.8,418.0 162.7,418.1 163.6,418.4 164.5,418.3 165.4,418.2 166.3,418.5 167.1,418.8 168.0,418.8 168.9,418.8 169.8,418.8 170.7,418.8 171.6,419.2 172.5,419.2 173.4,419.2 174.3,419.2 175.2,419.4 176.1,419.5 177.0,419.6 177.8,419.7 178.7,419.7 179.6,419.8 180.5,420.0 181.4,420.0 182.3,420.0 183.2,420.0 184.1,420.4 185.0,420.3 185.9,420.3 186.8,420.3 187.7,420.1 188.6,420.1 189.4,420.2 190.3,420.2 191.2,420.0 192.1,420.3 193.0,420.3 193.9,420.5 194.8,420.3 195.7,420.3 196.6,420.5 197.5,420.5 198.4,420.6 199.3,420.8 200.2,420.7 201.0,420.5 201.9,420.7 202.8,420.8 203.7,420.9 204.6,420.7 205.5,420.9 206.4,421.0 207.3,420.9 208.2,420.8 209.1,420.9 210.0,420.9 210.9,420.9 211.8,420.9 212.6,420.9 213.5,420.9 214.4,421.0 215.3,421.1 216.2,421.0 217.1,421.1 218.0,421.2 218.9,421.2 219.8,421.2 220.7,421.1 221.6,421.2 222.5,421.3 223.4,421.2 224.2,421.2 225.1,421.3 226.0,421.3 226.9,421.3 227.8,421.3 228.7,421.4 229.6,421.4" fill="none" stroke="#3e3e3e" stroke-width="0.85"/>
<polyline points="51.1,403.0 52.0,402.2 52.9,401.0 53.8,400.2 54.7,398.8 55.6,397.4 56.5,396.5 57.4,395.5 58.3,394.1 59.2,393.1 60.1,391.7 61.0,390.2 61.9,389.0 62.7,387.8 63.6,386.6 64.5,385.2 65.4,384.2 66.3,382.7 67.2,381.6 68.1,380.6 69.0,379.8 69.9,378.6 70.8,377.3 71.7,375.9 72.6,375.4 73.5,374.3 74.3,373.5 75.2,372.8 76.1,371.8 77.0,371.1 77.9,370.1 78.8,370.2 79.7,369.1 80.6,369.1 81.5,368.9 82.4,368.0 83.3,367.7 84.2,367.3 85.1,367.4 85.9,367.4 86.8,367.4 87.7,367.2 88.6,367.5 89.5,367.6 90.4,368.0 91.3,368.1 92.2,368.7 93.1,369.6 94.0,370.4 94.9,370.6 95.8,370.9 96.7,371.2 97.5,372.2 98.4,373.2 99.3,374.2 100.2,374.6 101.1,375.6 102.0,376.1 102.9,377.2 103.8,378.2 104.7,379.6 105.6,380.5 106.5,381.2 107.4,382.3 108.3,383.2 109.1,384.6 110.0,385.3 110.9,385.8 111.8,386.9 112.7,388.2 113.6,389.6 114.5,390.7 115.4,391.9 116.3,392.8 117.2,394.1 118.1,395.1 119.0,395.9 119.9,396.8 120.7,397.7 121.6,398.5 122.5,399.7 123.4,400.9 124.3,401.6 125.2,402.4 126.1,403.3 127.0,404.2 127.9,404.8 128.8,405.6 129.7,406.3 130.6,407.1 131.5,407.8 132.3,408.5 133.2,409.3 134.1,409.9 135.0,410.7 135.9,411.2 136.8,411.6 137.7,412.0 138.6,412.7 139.5,413.2 140.4,413.6 141.3,414.2 142.2,414.4 143.1,414.4 143.9,414.7 144.8,415.2 145.7,415.5 146.6,415.5 147.5,416.0 148.4,416.2 149.3,416.4 150.2,416.7 151.1,416.9 152.0,417.2 152.9,417.3 153.8,417.3 154.7,417.3 155.5,417.5 156.4,417.6 157.3,417.7 158.2,417.9 159.1,418.1 160.0,418.1 160.9,418.2 161.8,418.4 162.7,418.5 163.6,418.5 164.5,418.7 165.4,418.9 166.3,419.0 167.1,419.1 168.0,419.0 168.9,419.1 169.8,419.2 170.7,419.3 171.6,419.3 172.5,419.3 173.4,419.2 174.3,419.3 175.2,419.5 176.1,419.7 177.0,419.8 177.8,419.8 178.7,419.8 179.6,419.8 180.5,419.8 181.4,420.0 182.3,420.1 183.2,420.2 184.1,420.3 185.0,420.3 185.9,420.4 186.8,420.4 187.7,420.5 188.6,420.4 189.4,420.4 190.3,420.4 191.2,420.5 192.1,420.7 193.0,420.7 193.9,420.6 194.8,420.6 195.7,420.6 196.6,420.7 197.5,420.6 198.4,420.6 199.3,420.6 200.2,420.7 201.0,420.6 201.9,420.7 202.8,420.8 203.7,420.9 204.6,420.9 205.5,421.0 206.4,421.1 207.3,421.0 208.2,420.9 209.1,421.0 210.0,420.9 210.9,420.8 211.8,421.0 212.6,421.0 213.5,421.1 214.4,421.2 215.3,421.1 216.2,421.3 217.1,421.2 218.0,421.1 218.9,421.1 219.8,421.0 220.7,420.9 221.6,421.1 222.5,421.0 223.4,421.0 224.2,421.0 225.1,421.3 226.0,421.3 226.9,421.3 227.8,421.4 228.7,421.4 229.6,421.2" fill="none" stroke="#c8c8c8" stroke-width="0.85"/>
<polyline points="51.1,404.5 52.0,403.6 52.9,402.4 53.8,401.6 54.7,400.8 55.6,399.7 56.5,398.5 57.4,397.4 58.3,396.4 59.2,395.5 60.1,394.2 61.0,393.1 61.9,392.4 62.7,391.2 63.6,390.6 64.5,389.0 65.4,387.9 66.3,387.0 67.2,386.2 68.1,385.1 69.0,384.4 69.9,383.1 70.8,382.2 71.7,381.6 72.6,380.6 73.5,379.4 74.3,378.9 75.2,378.2 76.1,377.0 77.0,376.5 77.9,376.1 78.8,375.6 79.7,375.0 80.6,374.9 81.5,374.5 82.4,374.5 83.3,374.5 84.2,374.4 85.1,373.7 85.9,373.5 86.8,373.3 87.7,373.1 88.6,373.4 89.5,373.6 90.4,373.8 91.3,374.1 92.2,374.8 93.1,375.3 94.0,375.7 94.9,376.2 95.8,376.9 96.7,377.4 97.5,378.0 98.4,378.6 99.3,379.2 100.2,379.8 101.1,380.6 102.0,381.3 102.9,382.1 103.8,382.9 104.7,383.8 105.6,385.0 106.5,385.5 107.4,386.4 108.3,387.3 109.1,388.3 110.0,389.4 110.9,390.7 111.8,391.5 112.7,392.5 113.6,393.5 114.5,394.8 115.4,395.2 116.3,396.4 117.2,397.4 118.1,398.1 119.0,398.8 119.9,399.9 120.7,400.7 121.6,401.5 122.5,402.3 123.4,403.1 124.3,403.8 125.2,404.7 126.1,405.7 127.0,406.0 127.9,406.9 128.8,407.7 129.7,408.3 130.6,408.9 131.5,409.6 132.3,409.9 133.2,410.9 134.1,411.2 135.0,411.8 135.9,412.3 136.8,412.7 137.7,413.2 138.6,413.6 139.5,414.2 140.4,414.6 141.3,414.6 142.2,415.3 143.1,415.4 143.9,415.9 144.8,416.2 145.7,416.2 146.6,416.5 147.5,416.7 148.4,417.0 149.3,417.1 150.2,417.3 151.1,417.5 152.0,417.7 152.9,417.8 153.8,417.8 154.7,417.8 155.5,418.0 156.4,418.0 157.3,418.1 158.2,418.6 159.1,418.5 160.0,418.6 160.9,418.8 161.8,418.8 162.7,418.8 163.6,419.1 164.5,419.3 165.4,419.2 166.3,419.3 167.1,419.2 168.0,419.3 168.9,419.5 169.8,419.7 170.7,419.6 171.6,419.8 172.5,419.9 173.4,420.0 174.3,419.8 175.2,419.7 176.1,419.9 177.0,420.0 177.8,420.0 178.7,419.9 179.6,420.1 180.5,420.0 181.4,420.1 182.3,420.1 183.2,420.4 184.1,420.4 185.0,420.5 185.9,420.3 186.8,420.4 187.7,420.6 188.6,420.4 189.4,420.5 190.3,420.6 191.2,420.7 192.1,420.6 193.0,420.6 193.9,420.7 194.8,420.8 195.7,420.8 196.6,420.9 197.5,421.0 198.4,420.8 199.3,420.7 200.2,420.9 201.0,421.0 201.9,420.9 202.8,420.7 203.7,420.9 204.6,420.9 205.5,421.0 206.4,421.0 207.3,421.0 208.2,420.9 209.1,420.9 210.0,420.9 210.9,420.9 211.8,421.0 212.6,421.1 213.5,420.8 214.4,421.2 215.3,421.3 216.2,421.5 217.1,421.3 218.0,421.3 218.9,421.2 219.8,421.4 220.7,421.3 221.6,421.3 222.5,421.4 223.4,421.2 224.2,421.3 225.1,421.2 226.0,421.3 226.9,421.3 227.8,421.3 228.7,421.3 229.6,421.3" fill="none" stroke="#dcdcdc" stroke-width="0.85"/>
<polyline points="51.1,405.8 52.0,404.9 52.9,404.1 53.8,403.4 54.7,402.6 55.6,401.6 56.5,400.4 57.4,399.8 58.3,398.9 59.2,397.9 60.1,396.8 61.0,395.8 61.9,395.2 62.7,394.3 63.6,393.2 64.5,392.3 65.4,391.5 66.3,390.8 67.2,389.8 68.1,389.0 69.0,388.1 69.9,387.0 70.8,386.1 71.7,385.7 72.6,385.0 73.5,384.4 74.3,383.7 75.2,382.8 76.1,382.2 77.0,381.8 77.9,381.6 78.8,381.1 79.7,380.7 80.6,380.5 81.5,379.9 82.4,379.7 83.3,379.8 84.2,379.2 85.1,379.8 85.9,379.6 86.8,379.5 87.7,379.2 88.6,379.1 89.5,379.1 90.4,379.2 91.3,379.7 92.2,380.2 93.1,380.4 94.0,381.0 94.9,381.8 95.8,382.3 96.7,382.6 97.5,383.1 98.4,384.0 99.3,384.3 100.2,385.0 101.1,386.0 102.0,386.6 102.9,387.1 103.8,387.8 104.7,388.7 105.6,389.7 106.5,390.2 107.4,391.0 108.3,391.9 109.1,392.8 110.0,393.8 110.9,394.8 111.8,395.5 112.7,396.0 113.6,396.7 114.5,397.7 115.4,398.3 116.3,399.2 117.2,400.2 118.1,400.8 119.0,401.4 119.9,402.4 120.7,403.3 121.6,404.0 122.5,405.1 123.4,405.6 124.3,406.0 125.2,406.7 126.1,407.5 127.0,408.1 127.9,408.8 128.8,409.2 129.7,409.9 130.6,410.3 131.5,411.0 132.3,411.5 133.2,412.2 134.1,412.8 135.0,413.1 135.9,413.5 136.8,414.0 137.7,414.3 138.6,414.7 139.5,415.1 140.4,415.4 141.3,415.6 142.2,415.9 143.1,416.0 143.9,416.3 144.8,416.7 145.7,417.0 146.6,417.1 147.5,417.4 148.4,417.5 149.3,417.7 150.2,417.8 151.1,417.9 152.0,418.0 152.9,418.0 153.8,418.1 154.7,418.2 155.5,418.5 156.4,418.5 157.3,418.6 158.2,418.9 159.1,418.7 160.0,419.0 160.9,419.3 161.8,419.1 162.7,419.2 163.6,419.4 164.5,419.5 165.4,419.4 166.3,419.5 167.1,419.6 168.0,419.6 168.9,419.8 169.8,419.9 170.7,420.0 171.6,420.0 172.5,420.0 173.4,420.0 174.3,420.2 175.2,420.2 176.1,420.4 177.0,420.3 177.8,420.3 178.7,420.2 179.6,420.3 180.5,420.3 181.4,420.5 182.3,420.5 183.2,420.5 184.1,420.6 185.0,420.5 185.9,420.5 186.8,420.6 187.7,420.7 188.6,420.5 189.4,420.6 190.3,420.7 191.2,420.8 192.1,420.7 193.0,420.8 193.9,420.9 194.8,420.9 195.7,420.8 196.6,420.8 197.5,420.8 198.4,420.9 199.3,421.0 200.2,420.9 201.0,420.9 201.9,421.0 202.8,421.1 203.7,421.1 204.6,421.0 205.5,421.1 206.4,421.0 207.3,421.0 208.2,421.1 209.1,421.1 210.0,421.1 210.9,421.3 211.8,421.3 212.6,421.3 213.5,421.2 214.4,421.1 215.3,421.2 216.2,421.2 217.1,421.2 218.0,421.1 218.9,421.3 219.8,421.3 220.7,421.4 221.6,421.4 222.5,421.2 223.4,421.4 224.2,421.5 225.1,421.4 226.0,421.3 226.9,421.4 227.8,421.5 228.7,421.6 229.6,421.5" fill="none" stroke="#e6e6e6" stroke-width="0.85"/>
<polyline points="51.1,407.5 52.0,406.7 52.9,406.2 53.8,405.3 54.7,404.7 55.6,404.0 56.5,403.3 57.4,402.4 58.3,401.8 59.2,401.4 60.1,400.6 61.0,399.7 61.9,398.9 62.7,398.2 63.6,397.5 64.5,396.9 65.4,396.1 66.3,395.3 67.2,394.5 68.1,393.5 69.0,393.3 69.9,392.5 70.8,391.8 71.7,391.5 72.6,390.8 73.5,390.2 74.3,389.9 75.2,389.1 76.1,388.3 77.0,388.0 77.9,387.6 78.8,387.2 79.7,387.1 80.6,386.7 81.5,386.8 82.4,386.5 83.3,386.3 84.2,385.9 85.1,386.1 85.9,386.1 86.8,386.0 87.7,386.1 88.6,386.2 89.5,386.2 90.4,386.6 91.3,386.7 92.2,386.9 93.1,387.3 94.0,387.9 94.9,388.4 95.8,388.7 96.7,388.9 97.5,389.8 98.4,390.0 99.3,390.5 100.2,391.2 101.1,391.6 102.0,392.1 102.9,392.7 103.8,393.5 104.7,394.3 105.6,394.7 106.5,395.2 107.4,395.9 108.3,396.7 109.1,397.5 110.0,398.4 110.9,398.8 111.8,399.5 112.7,400.0 113.6,400.9 114.5,401.4 115.4,402.3 116.3,402.9 117.2,403.4 118.1,404.3 119.0,404.8 119.9,405.5 120.7,406.3 121.6,406.9 122.5,407.4 123.4,408.1 124.3,408.7 125.2,409.4 126.1,410.0 127.0,410.5 127.9,410.9 128.8,411.4 129.7,411.8 130.6,412.4 131.5,412.9 132.3,413.2 133.2,413.5 134.1,414.1 135.0,414.4 135.9,415.0 136.8,415.3 137.7,415.6 138.6,415.8 139.5,416.3 140.4,416.5 141.3,416.8 142.2,417.0 143.1,417.3 143.9,417.6 144.8,417.4 145.7,417.6 146.6,418.0 147.5,418.0 148.4,418.3 149.3,418.6 150.2,418.4 151.1,418.4 152.0,418.7 152.9,418.9 153.8,418.9 154.7,418.8 155.5,418.9 156.4,419.0 157.3,419.3 158.2,419.5 159.1,419.5 160.0,419.4 160.9,419.5 161.8,419.6 162.7,419.5 163.6,419.7 164.5,419.7 165.4,419.7 166.3,419.9 167.1,419.9 168.0,420.0 168.9,420.0 169.8,420.2 170.7,420.2 171.6,420.2 172.5,420.2 173.4,420.3 174.3,420.3 175.2,420.4 176.1,420.4 177.0,420.4 177.8,420.5 178.7,420.5 179.6,420.6 180.5,420.7 181.4,420.6 182.3,420.7 183.2,420.7 184.1,420.7 185.0,420.7 185.9,420.7 186.8,420.6 187.7,420.6 188.6,420.8 189.4,420.7 190.3,420.7 191.2,420.9 192.1,420.8 193.0,420.9 193.9,420.8 194.8,421.0 195.7,421.1 196.6,421.1 197.5,421.0 198.4,421.1 199.3,421.2 200.2,421.0 201.0,421.1 201.9,421.1 202.8,421.2 203.7,421.3 204.6,421.3 205.5,421.2 206.4,421.3 207.3,421.2 208.2,421.1 209.1,421.1 210.0,421.2 210.9,421.3 211.8,421.3 212.6,421.3 213.5,421.3 214.4,421.3 215.3,421.4 216.2,421.4 217.1,421.4 218.0,421.4 218.9,421.2 219.8,421.3 220.7,421.3 221.6,421.3 222.5,421.4 223.4,421.4 224.2,421.5 225.1,421.6 226.0,421.7 226.9,421.4 227.8,421.5 228.7,421.4 229.6,421.4" fill="none" stroke="#3e3e3e" stroke-width="0.85"/>
<polyline points="51.1,409.5 52.0,408.8 52.9,408.3 53.8,407.6 54.7,407.1 55.6,406.4 56.5,405.7 57.4,405.2 58.3,404.5 59.2,403.9 60.1,403.1 61.0,402.7 61.9,402.4 62.7,401.7 63.6,401.0 64.5,400.5 65.4,399.9 66.3,399.4 67.2,399.0 68.1,398.1 69.0,397.7 69.9,397.3 70.8,397.0 71.7,396.5 72.6,395.9 73.5,395.1 74.3,394.7 75.2,394.5 76.1,394.4 77.0,394.1 77.9,393.7 78.8,393.2 79.7,393.0 80.6,392.5 81.5,392.1 82.4,392.1 83.3,392.5 84.2,392.1 85.1,392.1 85.9,392.0 86.8,391.9 87.7,392.2 88.6,392.2 89.5,392.3 90.4,392.6 91.3,392.6 92.2,392.9 93.1,393.2 94.0,393.1 94.9,393.6 95.8,393.7 96.7,394.3 97.5,394.6 98.4,395.3 99.3,395.7 100.2,396.0 101.1,396.9 102.0,397.2 102.9,397.7 103.8,398.1 104.7,398.6 105.6,399.2 106.5,400.0 107.4,400.0 108.3,400.9 109.1,401.5 110.0,402.2 110.9,402.8 111.8,403.3 112.7,404.0 113.6,404.4 114.5,405.0 115.4,405.5 116.3,406.4 117.2,406.9 118.1,407.4 119.0,407.9 119.9,408.5 120.7,408.9 121.6,409.4 122.5,410.0 123.4,410.7 124.3,411.0 125.2,411.5 126.1,411.8 127.0,412.2 127.9,412.7 128.8,413.3 129.7,413.7 130.6,414.1 131.5,414.3 132.3,414.9 133.2,415.1 134.1,415.6 135.0,415.9 135.9,416.3 136.8,416.6 137.7,416.8 138.6,416.9 139.5,417.2 140.4,417.3 141.3,417.4 142.2,417.6 143.1,418.0 143.9,418.2 144.8,418.3 145.7,418.5 146.6,418.5 147.5,418.5 148.4,418.5 149.3,418.7 150.2,419.2 151.1,419.2 152.0,419.2 152.9,419.4 153.8,419.5 154.7,419.4 155.5,419.5 156.4,419.7 157.3,419.8 158.2,420.1 159.1,420.0 160.0,420.1 160.9,420.1 161.8,420.2 162.7,420.2 163.6,420.2 164.5,420.0 165.4,420.2 166.3,420.3 167.1,420.4 168.0,420.3 168.9,420.2 169.8,420.3 170.7,420.4 171.6,420.4 172.5,420.5 173.4,420.6 174.3,420.6 175.2,420.8 176.1,420.8 177.0,420.6 177.8,420.6 178.7,420.7 179.6,420.7 180.5,420.8 181.4,420.7 182.3,420.8 183.2,420.9 184.1,420.8 185.0,420.8 185.9,420.9 186.8,421.0 187.7,421.0 188.6,421.1 189.4,421.1 190.3,421.0 191.2,420.9 192.1,420.9 193.0,421.0 193.9,421.1 194.8,421.1 195.7,421.2 196.6,421.0 197.5,421.1 198.4,421.0 199.3,421.1 200.2,421.1 201.0,421.0 201.9,421.2 202.8,421.2 203.7,421.3 204.6,421.4 205.5,421.4 206.4,421.4 207.3,421.1 208.2,421.2 209.1,421.5 210.0,421.3 210.9,421.2 211.8,421.3 212.6,421.3 213.5,421.2 214.4,421.3 215.3,421.3 216.2,421.3 217.1,421.2 218.0,421.2 218.9,421.2 219.8,421.4 220.7,421.3 221.6,421.4 222.5,421.3 223.4,421.3 224.2,421.4 225.1,421.3 226.0,421.4 226.9,421.5 227.8,421.3 228.7,421.4 229.6,421.4" fill="none" stroke="#3e3e3e" stroke-width="0.85"/>
<rect x="51.1" y="311.8" width="178.4" height="110.3" fill="none" stroke="#505050" stroke-width="0.85"/>
<path d="M69.0 311.8v1.5M69.0 422.1v-1.5M86.8 311.8v1.5M86.8 422.1v-1.5M104.7 311.8v1.5M104.7 422.1v-1.5M122.5 311.8v1.5M122.5 422.1v-1.5M140.4 311.8v2.0M140.4 422.1v-2.0M158.2 311.8v1.5M158.2 422.1v-1.5M176.1 311.8v1.5M176.1 422.1v-1.5M193.9 311.8v1.5M193.9 422.1v-1.5M211.8 311.8v1.5M211.8 422.1v-1.5M51.1 322.8h1.5M229.6 322.8h-1.5M51.1 333.9h1.5M229.6 333.9h-1.5M51.1 344.9h1.5M229.6 344.9h-1.5M51.1 355.9h1.5M229.6 355.9h-1.5M51.1 366.9h2.0M229.6 366.9h-2.0M51.1 378.0h1.5M229.6 378.0h-1.5M51.1 389.0h1.5M229.6 389.0h-1.5M51.1 400.0h1.5M229.6 400.0h-1.5M51.1 411.1h1.5M229.6 411.1h-1.5" stroke="#444" stroke-width="0.7" fill="none"/>
<text class="n" transform="translate(26.5 313.7) scale(0.86 1)" x="2.03 6.10 10.17 14.24 18.31 22.38 26.45" y="0" text-anchor="middle">900,000</text>
<text class="n" transform="translate(26.5 369.6) scale(0.86 1)" x="2.03 6.10 10.17 14.24 18.31 22.38 26.45" y="0" text-anchor="middle">450,000</text>
<text class="n" transform="translate(33.5 424.3) scale(0.86 1)" x="2.03 6.10 10.17 14.24 18.31" y="0" text-anchor="middle">0,000</text>
<text class="n" transform="translate(42.7 433.1) scale(0.86 1)" x="2.03 6.10 10.17 14.24 18.31" y="0" text-anchor="middle">300,0</text>
<text class="n" transform="translate(131.3 433.1) scale(0.86 1)" x="2.03 6.10 10.17 14.24 18.31" y="0" text-anchor="middle">400,0</text>
<text class="n" transform="translate(220.5 433.1) scale(0.86 1)" x="2.03 6.10 10.17 14.24 18.31" y="0" text-anchor="middle">500,0</text>
<text class="m" x="112.9" y="440.1" textLength="52.5" lengthAdjust="spacingAndGlyphs">Wavelength (nm)</text>
<g transform="translate(14.1 364.8) rotate(-90)"><text class="m" x="-15.8" y="0.0" textLength="31.5" lengthAdjust="spacingAndGlyphs">Intensity</text></g>
<path d="M186.6 334.5V353.9" stroke="#111" stroke-width="1.4"/>
<path d="M186.6 356.9l-2.3 -4.8h4.6z" fill="#111"/>
<text class="s" x="186.9" y="367.1" text-anchor="middle" font-size="8">10</text>
</g>
<text class="s" x="260.0" y="51.6" text-anchor="middle" font-size="12.6">(a)</text>
<text class="s" x="538.5" y="56.0" text-anchor="middle" font-size="12.6">(b)</text>
<text class="s" x="261.2" y="186.6" text-anchor="middle" font-size="12.6">(c)</text>
<text class="s" x="538.8" y="186.3" text-anchor="middle" font-size="12.6">(d)</text>
<text class="s" x="263.0" y="330.5" text-anchor="middle" font-size="12.6">(e)</text>
<path d="M223.6 94V106" stroke="#111" stroke-width="1.2"/><path d="M223.6 109l-2.5 -5h5z" fill="#111"/>
</svg>
</body></html>
